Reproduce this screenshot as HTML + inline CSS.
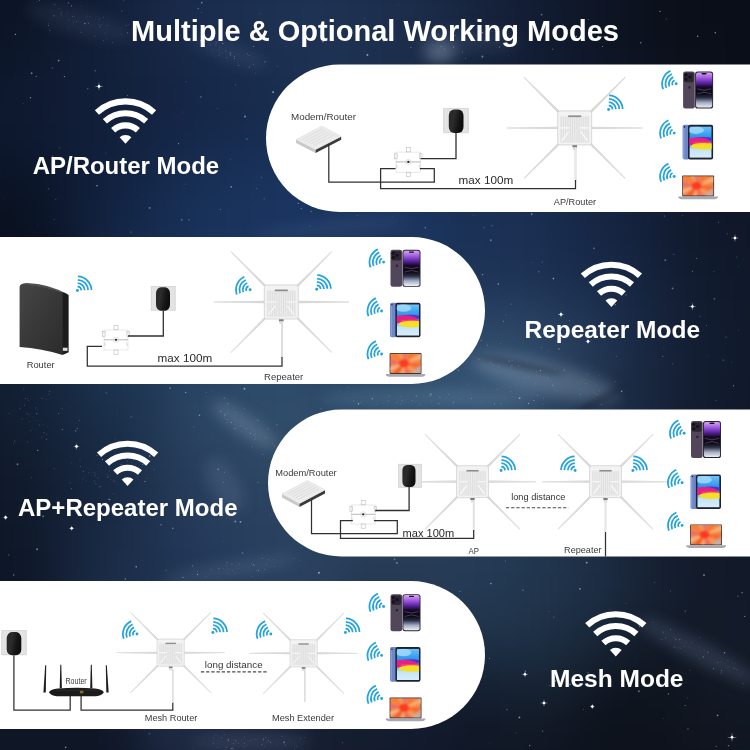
<!DOCTYPE html><html><head><meta charset="utf-8"><style>html,body{margin:0;padding:0;background:#0f1b33;overflow:hidden;width:750px;height:750px;}svg{display:block;}text{font-family:"Liberation Sans",sans-serif;}</style></head><body>
<svg width="750" height="750" viewBox="0 0 750 750">
<defs>
<linearGradient id="bg0" x1="0" y1="0" x2="1" y2="0">
<stop offset="0" stop-color="#0b1528"/><stop offset="0.5" stop-color="#172b4c"/><stop offset="1" stop-color="#0d1422"/>
</linearGradient>
<radialGradient id="n1" cx="0.5" cy="0.5" r="0.5"><stop offset="0" stop-color="#2f5378" stop-opacity="0.9"/><stop offset="1" stop-color="#2f5378" stop-opacity="0"/></radialGradient>
<radialGradient id="n2" cx="0.5" cy="0.5" r="0.5"><stop offset="0" stop-color="#1d3a66" stop-opacity="0.9"/><stop offset="1" stop-color="#1d3a66" stop-opacity="0"/></radialGradient>
<radialGradient id="dk" cx="0.5" cy="0.5" r="0.5"><stop offset="0" stop-color="#05080f" stop-opacity="0.9"/><stop offset="1" stop-color="#05080f" stop-opacity="0"/></radialGradient>
<linearGradient id="adg" x1="0" y1="0" x2="1" y2="0.3"><stop offset="0" stop-color="#262626"/><stop offset="0.4" stop-color="#2c2c2c"/><stop offset="0.75" stop-color="#161616"/><stop offset="1" stop-color="#0e0e0e"/></linearGradient>
<linearGradient id="phg" x1="0" y1="0" x2="0" y2="1"><stop offset="0" stop-color="#d9a4f2"/><stop offset="0.14" stop-color="#a462e2"/><stop offset="0.3" stop-color="#5a22a2"/><stop offset="0.42" stop-color="#160b26"/><stop offset="0.6" stop-color="#0a0810"/><stop offset="0.72" stop-color="#2a2f48"/><stop offset="0.86" stop-color="#a4adc4"/><stop offset="1" stop-color="#eef0f6"/></linearGradient>
<linearGradient id="tbg" x1="0" y1="0" x2="0" y2="1"><stop offset="0" stop-color="#6cc2f7"/><stop offset="0.32" stop-color="#2f97ee"/><stop offset="0.55" stop-color="#4a90e4"/><stop offset="0.72" stop-color="#c2e4f7"/><stop offset="1" stop-color="#d8edf9"/></linearGradient><filter id="soft" x="-20%" y="-20%" width="140%" height="140%" color-interpolation-filters="sRGB"><feGaussianBlur stdDeviation="0.5"/></filter><filter id="soft2" x="-20%" y="-20%" width="140%" height="140%" color-interpolation-filters="sRGB"><feGaussianBlur stdDeviation="0.9"/></filter>
<radialGradient id="lpg" cx="0.45" cy="0.5" r="0.75"><stop offset="0" stop-color="#ff2a12"/><stop offset="0.3" stop-color="#f86a28"/><stop offset="0.6" stop-color="#f59c62"/><stop offset="0.85" stop-color="#e9a08e"/><stop offset="1" stop-color="#b4acb4"/></radialGradient>
<linearGradient id="rtg" x1="0" y1="0" x2="1" y2="1"><stop offset="0" stop-color="#464646"/><stop offset="0.5" stop-color="#383838"/><stop offset="1" stop-color="#2c2c2c"/></linearGradient>
</defs>
<filter id="bgblur" x="-5%" y="-5%" width="110%" height="110%" color-interpolation-filters="sRGB"><feGaussianBlur stdDeviation="14"/></filter><g filter="url(#bgblur)"><rect x="-25" y="-25" width="26" height="26" fill="#0c1424"/><rect x="0" y="-25" width="26" height="26" fill="#0c1525"/><rect x="25" y="-25" width="26" height="26" fill="#0d1729"/><rect x="50" y="-25" width="26" height="26" fill="#0f1a2f"/><rect x="75" y="-25" width="26" height="26" fill="#111d35"/><rect x="100" y="-25" width="26" height="26" fill="#13203b"/><rect x="125" y="-25" width="26" height="26" fill="#152441"/><rect x="150" y="-25" width="26" height="26" fill="#182847"/><rect x="175" y="-25" width="26" height="26" fill="#1a2b4c"/><rect x="200" y="-25" width="26" height="26" fill="#1b2d4e"/><rect x="225" y="-25" width="26" height="26" fill="#1c2e50"/><rect x="250" y="-25" width="26" height="26" fill="#1d3051"/><rect x="275" y="-25" width="26" height="26" fill="#1e3253"/><rect x="300" y="-25" width="26" height="26" fill="#1e3253"/><rect x="325" y="-25" width="26" height="26" fill="#1e3151"/><rect x="350" y="-25" width="26" height="26" fill="#1d304e"/><rect x="375" y="-25" width="26" height="26" fill="#1c2e4c"/><rect x="400" y="-25" width="26" height="26" fill="#1b2d4b"/><rect x="425" y="-25" width="26" height="26" fill="#1a2a47"/><rect x="450" y="-25" width="26" height="26" fill="#182641"/><rect x="475" y="-25" width="26" height="26" fill="#16233b"/><rect x="500" y="-25" width="26" height="26" fill="#142037"/><rect x="525" y="-25" width="26" height="26" fill="#121c32"/><rect x="550" y="-25" width="26" height="26" fill="#10192c"/><rect x="575" y="-25" width="26" height="26" fill="#0f1627"/><rect x="600" y="-25" width="26" height="26" fill="#0d1423"/><rect x="625" y="-25" width="26" height="26" fill="#0c121f"/><rect x="650" y="-25" width="26" height="26" fill="#0b101b"/><rect x="675" y="-25" width="26" height="26" fill="#0a0f19"/><rect x="700" y="-25" width="26" height="26" fill="#0a0e18"/><rect x="725" y="-25" width="26" height="26" fill="#0a0e18"/><rect x="750" y="-25" width="26" height="26" fill="#0a0e18"/><rect x="-25" y="0" width="26" height="26" fill="#0c1425"/><rect x="0" y="0" width="26" height="26" fill="#0c1526"/><rect x="25" y="0" width="26" height="26" fill="#0d172a"/><rect x="50" y="0" width="26" height="26" fill="#0f1a2f"/><rect x="75" y="0" width="26" height="26" fill="#111e36"/><rect x="100" y="0" width="26" height="26" fill="#13203b"/><rect x="125" y="0" width="26" height="26" fill="#152440"/><rect x="150" y="0" width="26" height="26" fill="#182847"/><rect x="175" y="0" width="26" height="26" fill="#192b4b"/><rect x="200" y="0" width="26" height="26" fill="#1a2d4e"/><rect x="225" y="0" width="26" height="26" fill="#1b2e50"/><rect x="250" y="0" width="26" height="26" fill="#1c3051"/><rect x="275" y="0" width="26" height="26" fill="#1d3152"/><rect x="300" y="0" width="26" height="26" fill="#1e3253"/><rect x="325" y="0" width="26" height="26" fill="#1e3151"/><rect x="350" y="0" width="26" height="26" fill="#1d304f"/><rect x="375" y="0" width="26" height="26" fill="#1c2e4c"/><rect x="400" y="0" width="26" height="26" fill="#1b2d4b"/><rect x="425" y="0" width="26" height="26" fill="#1a2a47"/><rect x="450" y="0" width="26" height="26" fill="#182640"/><rect x="475" y="0" width="26" height="26" fill="#16223b"/><rect x="500" y="0" width="26" height="26" fill="#142037"/><rect x="525" y="0" width="26" height="26" fill="#121c32"/><rect x="550" y="0" width="26" height="26" fill="#10192c"/><rect x="575" y="0" width="26" height="26" fill="#0f1628"/><rect x="600" y="0" width="26" height="26" fill="#0d1423"/><rect x="625" y="0" width="26" height="26" fill="#0c121f"/><rect x="650" y="0" width="26" height="26" fill="#0b101b"/><rect x="675" y="0" width="26" height="26" fill="#0b0f19"/><rect x="700" y="0" width="26" height="26" fill="#0a0e18"/><rect x="725" y="0" width="26" height="26" fill="#0a0e18"/><rect x="750" y="0" width="26" height="26" fill="#0a0e18"/><rect x="-25" y="25" width="26" height="26" fill="#0c1527"/><rect x="0" y="25" width="26" height="26" fill="#0d1628"/><rect x="25" y="25" width="26" height="26" fill="#0e182c"/><rect x="50" y="25" width="26" height="26" fill="#101b31"/><rect x="75" y="25" width="26" height="26" fill="#111e36"/><rect x="100" y="25" width="26" height="26" fill="#13203b"/><rect x="125" y="25" width="26" height="26" fill="#15233f"/><rect x="150" y="25" width="26" height="26" fill="#172745"/><rect x="175" y="25" width="26" height="26" fill="#182a49"/><rect x="200" y="25" width="26" height="26" fill="#192c4d"/><rect x="225" y="25" width="26" height="26" fill="#1a2d4f"/><rect x="250" y="25" width="26" height="26" fill="#1b2f50"/><rect x="275" y="25" width="26" height="26" fill="#1d3152"/><rect x="300" y="25" width="26" height="26" fill="#1e3152"/><rect x="325" y="25" width="26" height="26" fill="#1e3151"/><rect x="350" y="25" width="26" height="26" fill="#1d304f"/><rect x="375" y="25" width="26" height="26" fill="#1c2e4c"/><rect x="400" y="25" width="26" height="26" fill="#1b2d4a"/><rect x="425" y="25" width="26" height="26" fill="#1a2a46"/><rect x="450" y="25" width="26" height="26" fill="#172640"/><rect x="475" y="25" width="26" height="26" fill="#16223b"/><rect x="500" y="25" width="26" height="26" fill="#141f37"/><rect x="525" y="25" width="26" height="26" fill="#121c32"/><rect x="550" y="25" width="26" height="26" fill="#10192d"/><rect x="575" y="25" width="26" height="26" fill="#0f1728"/><rect x="600" y="25" width="26" height="26" fill="#0d1423"/><rect x="625" y="25" width="26" height="26" fill="#0c121f"/><rect x="650" y="25" width="26" height="26" fill="#0b101b"/><rect x="675" y="25" width="26" height="26" fill="#0b0f19"/><rect x="700" y="25" width="26" height="26" fill="#0a0f19"/><rect x="725" y="25" width="26" height="26" fill="#0a0e18"/><rect x="750" y="25" width="26" height="26" fill="#0a0e18"/><rect x="-25" y="50" width="26" height="26" fill="#0d172a"/><rect x="0" y="50" width="26" height="26" fill="#0d172b"/><rect x="25" y="50" width="26" height="26" fill="#0e192e"/><rect x="50" y="50" width="26" height="26" fill="#101c33"/><rect x="75" y="50" width="26" height="26" fill="#111e37"/><rect x="100" y="50" width="26" height="26" fill="#13203b"/><rect x="125" y="50" width="26" height="26" fill="#14233f"/><rect x="150" y="50" width="26" height="26" fill="#152543"/><rect x="175" y="50" width="26" height="26" fill="#172847"/><rect x="200" y="50" width="26" height="26" fill="#182a4b"/><rect x="225" y="50" width="26" height="26" fill="#192c4d"/><rect x="250" y="50" width="26" height="26" fill="#1a2e4f"/><rect x="275" y="50" width="26" height="26" fill="#1c2f51"/><rect x="300" y="50" width="26" height="26" fill="#1d3152"/><rect x="325" y="50" width="26" height="26" fill="#1d3151"/><rect x="350" y="50" width="26" height="26" fill="#1d304f"/><rect x="375" y="50" width="26" height="26" fill="#1c2e4c"/><rect x="400" y="50" width="26" height="26" fill="#1b2d4a"/><rect x="425" y="50" width="26" height="26" fill="#1a2a46"/><rect x="450" y="50" width="26" height="26" fill="#172641"/><rect x="475" y="50" width="26" height="26" fill="#16233c"/><rect x="500" y="50" width="26" height="26" fill="#142038"/><rect x="525" y="50" width="26" height="26" fill="#121d33"/><rect x="550" y="50" width="26" height="26" fill="#111a2e"/><rect x="575" y="50" width="26" height="26" fill="#0f1729"/><rect x="600" y="50" width="26" height="26" fill="#0e1524"/><rect x="625" y="50" width="26" height="26" fill="#0d1320"/><rect x="650" y="50" width="26" height="26" fill="#0c111d"/><rect x="675" y="50" width="26" height="26" fill="#0b101b"/><rect x="700" y="50" width="26" height="26" fill="#0b0f19"/><rect x="725" y="50" width="26" height="26" fill="#0a0e19"/><rect x="750" y="50" width="26" height="26" fill="#0a0e18"/><rect x="-25" y="75" width="26" height="26" fill="#0d182d"/><rect x="0" y="75" width="26" height="26" fill="#0e182e"/><rect x="25" y="75" width="26" height="26" fill="#0f1a31"/><rect x="50" y="75" width="26" height="26" fill="#101c34"/><rect x="75" y="75" width="26" height="26" fill="#111e38"/><rect x="100" y="75" width="26" height="26" fill="#12203b"/><rect x="125" y="75" width="26" height="26" fill="#13223e"/><rect x="150" y="75" width="26" height="26" fill="#142442"/><rect x="175" y="75" width="26" height="26" fill="#152746"/><rect x="200" y="75" width="26" height="26" fill="#172949"/><rect x="225" y="75" width="26" height="26" fill="#182b4c"/><rect x="250" y="75" width="26" height="26" fill="#192c4e"/><rect x="275" y="75" width="26" height="26" fill="#1a2e50"/><rect x="300" y="75" width="26" height="26" fill="#1c3051"/><rect x="325" y="75" width="26" height="26" fill="#1d3151"/><rect x="350" y="75" width="26" height="26" fill="#1d304f"/><rect x="375" y="75" width="26" height="26" fill="#1c2e4d"/><rect x="400" y="75" width="26" height="26" fill="#1b2c4a"/><rect x="425" y="75" width="26" height="26" fill="#192947"/><rect x="450" y="75" width="26" height="26" fill="#172644"/><rect x="475" y="75" width="26" height="26" fill="#162441"/><rect x="500" y="75" width="26" height="26" fill="#15223d"/><rect x="525" y="75" width="26" height="26" fill="#131f37"/><rect x="550" y="75" width="26" height="26" fill="#121c31"/><rect x="575" y="75" width="26" height="26" fill="#10192c"/><rect x="600" y="75" width="26" height="26" fill="#0f1728"/><rect x="625" y="75" width="26" height="26" fill="#0e1525"/><rect x="650" y="75" width="26" height="26" fill="#0d1422"/><rect x="675" y="75" width="26" height="26" fill="#0c121f"/><rect x="700" y="75" width="26" height="26" fill="#0b101c"/><rect x="725" y="75" width="26" height="26" fill="#0b0f1a"/><rect x="750" y="75" width="26" height="26" fill="#0a0f19"/><rect x="-25" y="100" width="26" height="26" fill="#0e182e"/><rect x="0" y="100" width="26" height="26" fill="#0e192f"/><rect x="25" y="100" width="26" height="26" fill="#0f1a32"/><rect x="50" y="100" width="26" height="26" fill="#101c35"/><rect x="75" y="100" width="26" height="26" fill="#111e38"/><rect x="100" y="100" width="26" height="26" fill="#12203b"/><rect x="125" y="100" width="26" height="26" fill="#13223e"/><rect x="150" y="100" width="26" height="26" fill="#142443"/><rect x="175" y="100" width="26" height="26" fill="#152646"/><rect x="200" y="100" width="26" height="26" fill="#16284a"/><rect x="225" y="100" width="26" height="26" fill="#172a4c"/><rect x="250" y="100" width="26" height="26" fill="#182c4e"/><rect x="275" y="100" width="26" height="26" fill="#192d50"/><rect x="300" y="100" width="26" height="26" fill="#1b2f51"/><rect x="325" y="100" width="26" height="26" fill="#1c3052"/><rect x="350" y="100" width="26" height="26" fill="#1c3051"/><rect x="375" y="100" width="26" height="26" fill="#1b2f50"/><rect x="400" y="100" width="26" height="26" fill="#1a2c4d"/><rect x="425" y="100" width="26" height="26" fill="#19294a"/><rect x="450" y="100" width="26" height="26" fill="#182848"/><rect x="475" y="100" width="26" height="26" fill="#172747"/><rect x="500" y="100" width="26" height="26" fill="#172645"/><rect x="525" y="100" width="26" height="26" fill="#162340"/><rect x="550" y="100" width="26" height="26" fill="#142039"/><rect x="575" y="100" width="26" height="26" fill="#111c32"/><rect x="600" y="100" width="26" height="26" fill="#101a2f"/><rect x="625" y="100" width="26" height="26" fill="#101a2d"/><rect x="650" y="100" width="26" height="26" fill="#0f192b"/><rect x="675" y="100" width="26" height="26" fill="#0e1728"/><rect x="700" y="100" width="26" height="26" fill="#0d1423"/><rect x="725" y="100" width="26" height="26" fill="#0c111e"/><rect x="750" y="100" width="26" height="26" fill="#0b101c"/><rect x="-25" y="125" width="26" height="26" fill="#0d182d"/><rect x="0" y="125" width="26" height="26" fill="#0d182e"/><rect x="25" y="125" width="26" height="26" fill="#0e1a31"/><rect x="50" y="125" width="26" height="26" fill="#0f1c34"/><rect x="75" y="125" width="26" height="26" fill="#111e38"/><rect x="100" y="125" width="26" height="26" fill="#11203c"/><rect x="125" y="125" width="26" height="26" fill="#132240"/><rect x="150" y="125" width="26" height="26" fill="#142545"/><rect x="175" y="125" width="26" height="26" fill="#15284a"/><rect x="200" y="125" width="26" height="26" fill="#162a4d"/><rect x="225" y="125" width="26" height="26" fill="#172b4f"/><rect x="250" y="125" width="26" height="26" fill="#172d52"/><rect x="275" y="125" width="26" height="26" fill="#182f54"/><rect x="300" y="125" width="26" height="26" fill="#193157"/><rect x="325" y="125" width="26" height="26" fill="#1b3359"/><rect x="350" y="125" width="26" height="26" fill="#1b345b"/><rect x="375" y="125" width="26" height="26" fill="#1b3259"/><rect x="400" y="125" width="26" height="26" fill="#1a2f54"/><rect x="425" y="125" width="26" height="26" fill="#192b4e"/><rect x="450" y="125" width="26" height="26" fill="#18294b"/><rect x="475" y="125" width="26" height="26" fill="#18294b"/><rect x="500" y="125" width="26" height="26" fill="#18284a"/><rect x="525" y="125" width="26" height="26" fill="#172748"/><rect x="550" y="125" width="26" height="26" fill="#162542"/><rect x="575" y="125" width="26" height="26" fill="#13203a"/><rect x="600" y="125" width="26" height="26" fill="#121e35"/><rect x="625" y="125" width="26" height="26" fill="#111d34"/><rect x="650" y="125" width="26" height="26" fill="#111c32"/><rect x="675" y="125" width="26" height="26" fill="#101b30"/><rect x="700" y="125" width="26" height="26" fill="#0f192b"/><rect x="725" y="125" width="26" height="26" fill="#0e1626"/><rect x="750" y="125" width="26" height="26" fill="#0d1423"/><rect x="-25" y="150" width="26" height="26" fill="#0c162a"/><rect x="0" y="150" width="26" height="26" fill="#0c162b"/><rect x="25" y="150" width="26" height="26" fill="#0d182e"/><rect x="50" y="150" width="26" height="26" fill="#0f1b33"/><rect x="75" y="150" width="26" height="26" fill="#101e39"/><rect x="100" y="150" width="26" height="26" fill="#11213e"/><rect x="125" y="150" width="26" height="26" fill="#132443"/><rect x="150" y="150" width="26" height="26" fill="#152849"/><rect x="175" y="150" width="26" height="26" fill="#162b4e"/><rect x="200" y="150" width="26" height="26" fill="#172d52"/><rect x="225" y="150" width="26" height="26" fill="#182f55"/><rect x="250" y="150" width="26" height="26" fill="#183158"/><rect x="275" y="150" width="26" height="26" fill="#19325b"/><rect x="300" y="150" width="26" height="26" fill="#1a335d"/><rect x="325" y="150" width="26" height="26" fill="#1a355f"/><rect x="350" y="150" width="26" height="26" fill="#1b365f"/><rect x="375" y="150" width="26" height="26" fill="#1b355e"/><rect x="400" y="150" width="26" height="26" fill="#1a335a"/><rect x="425" y="150" width="26" height="26" fill="#192e54"/><rect x="450" y="150" width="26" height="26" fill="#192c4f"/><rect x="475" y="150" width="26" height="26" fill="#192b4e"/><rect x="500" y="150" width="26" height="26" fill="#192b4e"/><rect x="525" y="150" width="26" height="26" fill="#182a4d"/><rect x="550" y="150" width="26" height="26" fill="#172848"/><rect x="575" y="150" width="26" height="26" fill="#15233f"/><rect x="600" y="150" width="26" height="26" fill="#13203a"/><rect x="625" y="150" width="26" height="26" fill="#121e37"/><rect x="650" y="150" width="26" height="26" fill="#121d34"/><rect x="675" y="150" width="26" height="26" fill="#111c31"/><rect x="700" y="150" width="26" height="26" fill="#101a2d"/><rect x="725" y="150" width="26" height="26" fill="#0f182a"/><rect x="750" y="150" width="26" height="26" fill="#0f1728"/><rect x="-25" y="175" width="26" height="26" fill="#0b1425"/><rect x="0" y="175" width="26" height="26" fill="#0b1426"/><rect x="25" y="175" width="26" height="26" fill="#0c162a"/><rect x="50" y="175" width="26" height="26" fill="#0e1a31"/><rect x="75" y="175" width="26" height="26" fill="#101e39"/><rect x="100" y="175" width="26" height="26" fill="#122240"/><rect x="125" y="175" width="26" height="26" fill="#132646"/><rect x="150" y="175" width="26" height="26" fill="#152a4d"/><rect x="175" y="175" width="26" height="26" fill="#172e53"/><rect x="200" y="175" width="26" height="26" fill="#183057"/><rect x="225" y="175" width="26" height="26" fill="#19325a"/><rect x="250" y="175" width="26" height="26" fill="#19335c"/><rect x="275" y="175" width="26" height="26" fill="#1a345e"/><rect x="300" y="175" width="26" height="26" fill="#1a355f"/><rect x="325" y="175" width="26" height="26" fill="#1b355f"/><rect x="350" y="175" width="26" height="26" fill="#1b3660"/><rect x="375" y="175" width="26" height="26" fill="#1b365f"/><rect x="400" y="175" width="26" height="26" fill="#1b355d"/><rect x="425" y="175" width="26" height="26" fill="#1a3259"/><rect x="450" y="175" width="26" height="26" fill="#1a2f53"/><rect x="475" y="175" width="26" height="26" fill="#192e52"/><rect x="500" y="175" width="26" height="26" fill="#192e51"/><rect x="525" y="175" width="26" height="26" fill="#192d50"/><rect x="550" y="175" width="26" height="26" fill="#172a4b"/><rect x="575" y="175" width="26" height="26" fill="#152543"/><rect x="600" y="175" width="26" height="26" fill="#14223d"/><rect x="625" y="175" width="26" height="26" fill="#132039"/><rect x="650" y="175" width="26" height="26" fill="#121d34"/><rect x="675" y="175" width="26" height="26" fill="#111b2f"/><rect x="700" y="175" width="26" height="26" fill="#10192b"/><rect x="725" y="175" width="26" height="26" fill="#0f1829"/><rect x="750" y="175" width="26" height="26" fill="#0f1729"/><rect x="-25" y="200" width="26" height="26" fill="#0a1221"/><rect x="0" y="200" width="26" height="26" fill="#0a1222"/><rect x="25" y="200" width="26" height="26" fill="#0b1426"/><rect x="50" y="200" width="26" height="26" fill="#0d192f"/><rect x="75" y="200" width="26" height="26" fill="#101f3a"/><rect x="100" y="200" width="26" height="26" fill="#122342"/><rect x="125" y="200" width="26" height="26" fill="#142749"/><rect x="150" y="200" width="26" height="26" fill="#162c50"/><rect x="175" y="200" width="26" height="26" fill="#183056"/><rect x="200" y="200" width="26" height="26" fill="#19325a"/><rect x="225" y="200" width="26" height="26" fill="#19335c"/><rect x="250" y="200" width="26" height="26" fill="#1a345e"/><rect x="275" y="200" width="26" height="26" fill="#1a355f"/><rect x="300" y="200" width="26" height="26" fill="#1a355f"/><rect x="325" y="200" width="26" height="26" fill="#1b365f"/><rect x="350" y="200" width="26" height="26" fill="#1c365f"/><rect x="375" y="200" width="26" height="26" fill="#1b365f"/><rect x="400" y="200" width="26" height="26" fill="#1b355e"/><rect x="425" y="200" width="26" height="26" fill="#1b335b"/><rect x="450" y="200" width="26" height="26" fill="#1a3156"/><rect x="475" y="200" width="26" height="26" fill="#1a3054"/><rect x="500" y="200" width="26" height="26" fill="#1a2f53"/><rect x="525" y="200" width="26" height="26" fill="#192e51"/><rect x="550" y="200" width="26" height="26" fill="#182b4c"/><rect x="575" y="200" width="26" height="26" fill="#162745"/><rect x="600" y="200" width="26" height="26" fill="#152440"/><rect x="625" y="200" width="26" height="26" fill="#14213b"/><rect x="650" y="200" width="26" height="26" fill="#121e35"/><rect x="675" y="200" width="26" height="26" fill="#111a2f"/><rect x="700" y="200" width="26" height="26" fill="#10192b"/><rect x="725" y="200" width="26" height="26" fill="#0f1829"/><rect x="750" y="200" width="26" height="26" fill="#0f1829"/><rect x="-25" y="225" width="26" height="26" fill="#0a101f"/><rect x="0" y="225" width="26" height="26" fill="#0a111f"/><rect x="25" y="225" width="26" height="26" fill="#0b1324"/><rect x="50" y="225" width="26" height="26" fill="#0d182e"/><rect x="75" y="225" width="26" height="26" fill="#101f3a"/><rect x="100" y="225" width="26" height="26" fill="#132544"/><rect x="125" y="225" width="26" height="26" fill="#15294b"/><rect x="150" y="225" width="26" height="26" fill="#172d52"/><rect x="175" y="225" width="26" height="26" fill="#193158"/><rect x="200" y="225" width="26" height="26" fill="#19335b"/><rect x="225" y="225" width="26" height="26" fill="#1a345d"/><rect x="250" y="225" width="26" height="26" fill="#1a345f"/><rect x="275" y="225" width="26" height="26" fill="#1a355f"/><rect x="300" y="225" width="26" height="26" fill="#1b365f"/><rect x="325" y="225" width="26" height="26" fill="#1d365e"/><rect x="350" y="225" width="26" height="26" fill="#1d365f"/><rect x="375" y="225" width="26" height="26" fill="#1c365f"/><rect x="400" y="225" width="26" height="26" fill="#1c365e"/><rect x="425" y="225" width="26" height="26" fill="#1b345b"/><rect x="450" y="225" width="26" height="26" fill="#1b3257"/><rect x="475" y="225" width="26" height="26" fill="#1b3155"/><rect x="500" y="225" width="26" height="26" fill="#1b3054"/><rect x="525" y="225" width="26" height="26" fill="#1a2f51"/><rect x="550" y="225" width="26" height="26" fill="#182b4d"/><rect x="575" y="225" width="26" height="26" fill="#172847"/><rect x="600" y="225" width="26" height="26" fill="#162542"/><rect x="625" y="225" width="26" height="26" fill="#14223d"/><rect x="650" y="225" width="26" height="26" fill="#121e35"/><rect x="675" y="225" width="26" height="26" fill="#111b2f"/><rect x="700" y="225" width="26" height="26" fill="#10192b"/><rect x="725" y="225" width="26" height="26" fill="#10182a"/><rect x="750" y="225" width="26" height="26" fill="#0f1829"/><rect x="-25" y="250" width="26" height="26" fill="#090f1d"/><rect x="0" y="250" width="26" height="26" fill="#0a101e"/><rect x="25" y="250" width="26" height="26" fill="#0b1222"/><rect x="50" y="250" width="26" height="26" fill="#0d182d"/><rect x="75" y="250" width="26" height="26" fill="#11203b"/><rect x="100" y="250" width="26" height="26" fill="#132647"/><rect x="125" y="250" width="26" height="26" fill="#162a4e"/><rect x="150" y="250" width="26" height="26" fill="#182e54"/><rect x="175" y="250" width="26" height="26" fill="#1a3158"/><rect x="200" y="250" width="26" height="26" fill="#1a335b"/><rect x="225" y="250" width="26" height="26" fill="#1a345d"/><rect x="250" y="250" width="26" height="26" fill="#1b355e"/><rect x="275" y="250" width="26" height="26" fill="#1b355e"/><rect x="300" y="250" width="26" height="26" fill="#1d365d"/><rect x="325" y="250" width="26" height="26" fill="#1f375d"/><rect x="350" y="250" width="26" height="26" fill="#1f375d"/><rect x="375" y="250" width="26" height="26" fill="#1e375e"/><rect x="400" y="250" width="26" height="26" fill="#1d365d"/><rect x="425" y="250" width="26" height="26" fill="#1d355b"/><rect x="450" y="250" width="26" height="26" fill="#1d3457"/><rect x="475" y="250" width="26" height="26" fill="#1d3356"/><rect x="500" y="250" width="26" height="26" fill="#1c3255"/><rect x="525" y="250" width="26" height="26" fill="#1b3052"/><rect x="550" y="250" width="26" height="26" fill="#1a2d4e"/><rect x="575" y="250" width="26" height="26" fill="#182a49"/><rect x="600" y="250" width="26" height="26" fill="#172745"/><rect x="625" y="250" width="26" height="26" fill="#15243f"/><rect x="650" y="250" width="26" height="26" fill="#131f37"/><rect x="675" y="250" width="26" height="26" fill="#111c30"/><rect x="700" y="250" width="26" height="26" fill="#101a2c"/><rect x="725" y="250" width="26" height="26" fill="#10192a"/><rect x="750" y="250" width="26" height="26" fill="#10182a"/><rect x="-25" y="275" width="26" height="26" fill="#0a101d"/><rect x="0" y="275" width="26" height="26" fill="#0a111e"/><rect x="25" y="275" width="26" height="26" fill="#0b1323"/><rect x="50" y="275" width="26" height="26" fill="#0e1a2f"/><rect x="75" y="275" width="26" height="26" fill="#12223e"/><rect x="100" y="275" width="26" height="26" fill="#15294a"/><rect x="125" y="275" width="26" height="26" fill="#182d52"/><rect x="150" y="275" width="26" height="26" fill="#1a3056"/><rect x="175" y="275" width="26" height="26" fill="#1b3259"/><rect x="200" y="275" width="26" height="26" fill="#1b335a"/><rect x="225" y="275" width="26" height="26" fill="#1c345c"/><rect x="250" y="275" width="26" height="26" fill="#1c355d"/><rect x="275" y="275" width="26" height="26" fill="#1e365d"/><rect x="300" y="275" width="26" height="26" fill="#20375c"/><rect x="325" y="275" width="26" height="26" fill="#21385b"/><rect x="350" y="275" width="26" height="26" fill="#21385c"/><rect x="375" y="275" width="26" height="26" fill="#20385d"/><rect x="400" y="275" width="26" height="26" fill="#20385d"/><rect x="425" y="275" width="26" height="26" fill="#20385c"/><rect x="450" y="275" width="26" height="26" fill="#21385b"/><rect x="475" y="275" width="26" height="26" fill="#21375a"/><rect x="500" y="275" width="26" height="26" fill="#203659"/><rect x="525" y="275" width="26" height="26" fill="#1f3556"/><rect x="550" y="275" width="26" height="26" fill="#1d3152"/><rect x="575" y="275" width="26" height="26" fill="#1a2d4d"/><rect x="600" y="275" width="26" height="26" fill="#192a48"/><rect x="625" y="275" width="26" height="26" fill="#162641"/><rect x="650" y="275" width="26" height="26" fill="#142138"/><rect x="675" y="275" width="26" height="26" fill="#121d31"/><rect x="700" y="275" width="26" height="26" fill="#111b2e"/><rect x="725" y="275" width="26" height="26" fill="#10192b"/><rect x="750" y="275" width="26" height="26" fill="#10192b"/><rect x="-25" y="300" width="26" height="26" fill="#0e1828"/><rect x="0" y="300" width="26" height="26" fill="#0e1829"/><rect x="25" y="300" width="26" height="26" fill="#101c2e"/><rect x="50" y="300" width="26" height="26" fill="#13233a"/><rect x="75" y="300" width="26" height="26" fill="#172a47"/><rect x="100" y="300" width="26" height="26" fill="#192f50"/><rect x="125" y="300" width="26" height="26" fill="#1b3255"/><rect x="150" y="300" width="26" height="26" fill="#1c3358"/><rect x="175" y="300" width="26" height="26" fill="#1d3459"/><rect x="200" y="300" width="26" height="26" fill="#1d355a"/><rect x="225" y="300" width="26" height="26" fill="#1e375c"/><rect x="250" y="300" width="26" height="26" fill="#20395e"/><rect x="275" y="300" width="26" height="26" fill="#213a5d"/><rect x="300" y="300" width="26" height="26" fill="#22395c"/><rect x="325" y="300" width="26" height="26" fill="#22395b"/><rect x="350" y="300" width="26" height="26" fill="#233a5c"/><rect x="375" y="300" width="26" height="26" fill="#233b5d"/><rect x="400" y="300" width="26" height="26" fill="#253e60"/><rect x="425" y="300" width="26" height="26" fill="#274061"/><rect x="450" y="300" width="26" height="26" fill="#274061"/><rect x="475" y="300" width="26" height="26" fill="#273f61"/><rect x="500" y="300" width="26" height="26" fill="#273f60"/><rect x="525" y="300" width="26" height="26" fill="#253d5e"/><rect x="550" y="300" width="26" height="26" fill="#223858"/><rect x="575" y="300" width="26" height="26" fill="#1f3352"/><rect x="600" y="300" width="26" height="26" fill="#1b2d4b"/><rect x="625" y="300" width="26" height="26" fill="#182843"/><rect x="650" y="300" width="26" height="26" fill="#15223a"/><rect x="675" y="300" width="26" height="26" fill="#131e33"/><rect x="700" y="300" width="26" height="26" fill="#121c2f"/><rect x="725" y="300" width="26" height="26" fill="#111a2c"/><rect x="750" y="300" width="26" height="26" fill="#101a2b"/><rect x="-25" y="325" width="26" height="26" fill="#121e31"/><rect x="0" y="325" width="26" height="26" fill="#121f33"/><rect x="25" y="325" width="26" height="26" fill="#142339"/><rect x="50" y="325" width="26" height="26" fill="#172a42"/><rect x="75" y="325" width="26" height="26" fill="#1a304c"/><rect x="100" y="325" width="26" height="26" fill="#1c3452"/><rect x="125" y="325" width="26" height="26" fill="#1d3556"/><rect x="150" y="325" width="26" height="26" fill="#1f3659"/><rect x="175" y="325" width="26" height="26" fill="#20385b"/><rect x="200" y="325" width="26" height="26" fill="#223b5e"/><rect x="225" y="325" width="26" height="26" fill="#243e60"/><rect x="250" y="325" width="26" height="26" fill="#264162"/><rect x="275" y="325" width="26" height="26" fill="#264161"/><rect x="300" y="325" width="26" height="26" fill="#253d5e"/><rect x="325" y="325" width="26" height="26" fill="#243c5d"/><rect x="350" y="325" width="26" height="26" fill="#253d5f"/><rect x="375" y="325" width="26" height="26" fill="#274162"/><rect x="400" y="325" width="26" height="26" fill="#2a4566"/><rect x="425" y="325" width="26" height="26" fill="#2d4969"/><rect x="450" y="325" width="26" height="26" fill="#2e496a"/><rect x="475" y="325" width="26" height="26" fill="#2e4969"/><rect x="500" y="325" width="26" height="26" fill="#2e4868"/><rect x="525" y="325" width="26" height="26" fill="#2c4565"/><rect x="550" y="325" width="26" height="26" fill="#283f5e"/><rect x="575" y="325" width="26" height="26" fill="#233855"/><rect x="600" y="325" width="26" height="26" fill="#1e304c"/><rect x="625" y="325" width="26" height="26" fill="#1a2943"/><rect x="650" y="325" width="26" height="26" fill="#16233b"/><rect x="675" y="325" width="26" height="26" fill="#141f34"/><rect x="700" y="325" width="26" height="26" fill="#121c30"/><rect x="725" y="325" width="26" height="26" fill="#111a2d"/><rect x="750" y="325" width="26" height="26" fill="#111a2c"/><rect x="-25" y="350" width="26" height="26" fill="#121e32"/><rect x="0" y="350" width="26" height="26" fill="#121f34"/><rect x="25" y="350" width="26" height="26" fill="#142339"/><rect x="50" y="350" width="26" height="26" fill="#172a42"/><rect x="75" y="350" width="26" height="26" fill="#1a304b"/><rect x="100" y="350" width="26" height="26" fill="#1c3450"/><rect x="125" y="350" width="26" height="26" fill="#1e3655"/><rect x="150" y="350" width="26" height="26" fill="#223a5a"/><rect x="175" y="350" width="26" height="26" fill="#253f5f"/><rect x="200" y="350" width="26" height="26" fill="#274262"/><rect x="225" y="350" width="26" height="26" fill="#2a4665"/><rect x="250" y="350" width="26" height="26" fill="#2b4867"/><rect x="275" y="350" width="26" height="26" fill="#2b4866"/><rect x="300" y="350" width="26" height="26" fill="#294463"/><rect x="325" y="350" width="26" height="26" fill="#274262"/><rect x="350" y="350" width="26" height="26" fill="#294464"/><rect x="375" y="350" width="26" height="26" fill="#2b4867"/><rect x="400" y="350" width="26" height="26" fill="#2d4b6a"/><rect x="425" y="350" width="26" height="26" fill="#314e6e"/><rect x="450" y="350" width="26" height="26" fill="#335070"/><rect x="475" y="350" width="26" height="26" fill="#335070"/><rect x="500" y="350" width="26" height="26" fill="#324e6e"/><rect x="525" y="350" width="26" height="26" fill="#2f4a69"/><rect x="550" y="350" width="26" height="26" fill="#2b4360"/><rect x="575" y="350" width="26" height="26" fill="#253a56"/><rect x="600" y="350" width="26" height="26" fill="#1f314c"/><rect x="625" y="350" width="26" height="26" fill="#1a2943"/><rect x="650" y="350" width="26" height="26" fill="#17243b"/><rect x="675" y="350" width="26" height="26" fill="#141f34"/><rect x="700" y="350" width="26" height="26" fill="#121c30"/><rect x="725" y="350" width="26" height="26" fill="#111a2d"/><rect x="750" y="350" width="26" height="26" fill="#11192c"/><rect x="-25" y="375" width="26" height="26" fill="#121e31"/><rect x="0" y="375" width="26" height="26" fill="#121f33"/><rect x="25" y="375" width="26" height="26" fill="#142238"/><rect x="50" y="375" width="26" height="26" fill="#172840"/><rect x="75" y="375" width="26" height="26" fill="#192e48"/><rect x="100" y="375" width="26" height="26" fill="#1b324e"/><rect x="125" y="375" width="26" height="26" fill="#1e3652"/><rect x="150" y="375" width="26" height="26" fill="#233c5a"/><rect x="175" y="375" width="26" height="26" fill="#284361"/><rect x="200" y="375" width="26" height="26" fill="#2b4665"/><rect x="225" y="375" width="26" height="26" fill="#2c4967"/><rect x="250" y="375" width="26" height="26" fill="#2d4b68"/><rect x="275" y="375" width="26" height="26" fill="#2e4b69"/><rect x="300" y="375" width="26" height="26" fill="#2d4a68"/><rect x="325" y="375" width="26" height="26" fill="#2b4867"/><rect x="350" y="375" width="26" height="26" fill="#2c4968"/><rect x="375" y="375" width="26" height="26" fill="#2d4b6a"/><rect x="400" y="375" width="26" height="26" fill="#2f4d6c"/><rect x="425" y="375" width="26" height="26" fill="#31506f"/><rect x="450" y="375" width="26" height="26" fill="#345272"/><rect x="475" y="375" width="26" height="26" fill="#355372"/><rect x="500" y="375" width="26" height="26" fill="#345170"/><rect x="525" y="375" width="26" height="26" fill="#304b69"/><rect x="550" y="375" width="26" height="26" fill="#2a425f"/><rect x="575" y="375" width="26" height="26" fill="#243954"/><rect x="600" y="375" width="26" height="26" fill="#1f304a"/><rect x="625" y="375" width="26" height="26" fill="#1a2942"/><rect x="650" y="375" width="26" height="26" fill="#17233a"/><rect x="675" y="375" width="26" height="26" fill="#141f34"/><rect x="700" y="375" width="26" height="26" fill="#121c2f"/><rect x="725" y="375" width="26" height="26" fill="#111a2c"/><rect x="750" y="375" width="26" height="26" fill="#10192b"/><rect x="-25" y="400" width="26" height="26" fill="#111d30"/><rect x="0" y="400" width="26" height="26" fill="#121e31"/><rect x="25" y="400" width="26" height="26" fill="#132136"/><rect x="50" y="400" width="26" height="26" fill="#16273e"/><rect x="75" y="400" width="26" height="26" fill="#192c46"/><rect x="100" y="400" width="26" height="26" fill="#1b304b"/><rect x="125" y="400" width="26" height="26" fill="#1e3450"/><rect x="150" y="400" width="26" height="26" fill="#243c59"/><rect x="175" y="400" width="26" height="26" fill="#294361"/><rect x="200" y="400" width="26" height="26" fill="#2c4765"/><rect x="225" y="400" width="26" height="26" fill="#2d4967"/><rect x="250" y="400" width="26" height="26" fill="#2e4b68"/><rect x="275" y="400" width="26" height="26" fill="#2f4c69"/><rect x="300" y="400" width="26" height="26" fill="#2f4c69"/><rect x="325" y="400" width="26" height="26" fill="#2d4b6a"/><rect x="350" y="400" width="26" height="26" fill="#2d4c6a"/><rect x="375" y="400" width="26" height="26" fill="#2d4c6a"/><rect x="400" y="400" width="26" height="26" fill="#2e4c6b"/><rect x="425" y="400" width="26" height="26" fill="#2f4d6d"/><rect x="450" y="400" width="26" height="26" fill="#325070"/><rect x="475" y="400" width="26" height="26" fill="#345272"/><rect x="500" y="400" width="26" height="26" fill="#34506f"/><rect x="525" y="400" width="26" height="26" fill="#2f4a67"/><rect x="550" y="400" width="26" height="26" fill="#283f5b"/><rect x="575" y="400" width="26" height="26" fill="#223651"/><rect x="600" y="400" width="26" height="26" fill="#1e2f49"/><rect x="625" y="400" width="26" height="26" fill="#1a2941"/><rect x="650" y="400" width="26" height="26" fill="#172339"/><rect x="675" y="400" width="26" height="26" fill="#141e33"/><rect x="700" y="400" width="26" height="26" fill="#121b2e"/><rect x="725" y="400" width="26" height="26" fill="#11192b"/><rect x="750" y="400" width="26" height="26" fill="#10182a"/><rect x="-25" y="425" width="26" height="26" fill="#111c2e"/><rect x="0" y="425" width="26" height="26" fill="#111d30"/><rect x="25" y="425" width="26" height="26" fill="#132034"/><rect x="50" y="425" width="26" height="26" fill="#15243b"/><rect x="75" y="425" width="26" height="26" fill="#182942"/><rect x="100" y="425" width="26" height="26" fill="#1a2d47"/><rect x="125" y="425" width="26" height="26" fill="#1d324e"/><rect x="150" y="425" width="26" height="26" fill="#233b57"/><rect x="175" y="425" width="26" height="26" fill="#28415f"/><rect x="200" y="425" width="26" height="26" fill="#2b4563"/><rect x="225" y="425" width="26" height="26" fill="#2d4865"/><rect x="250" y="425" width="26" height="26" fill="#2e4a67"/><rect x="275" y="425" width="26" height="26" fill="#2f4b68"/><rect x="300" y="425" width="26" height="26" fill="#2f4b69"/><rect x="325" y="425" width="26" height="26" fill="#2e4c69"/><rect x="350" y="425" width="26" height="26" fill="#2d4b69"/><rect x="375" y="425" width="26" height="26" fill="#2b4968"/><rect x="400" y="425" width="26" height="26" fill="#2b4766"/><rect x="425" y="425" width="26" height="26" fill="#2b4667"/><rect x="450" y="425" width="26" height="26" fill="#2e4969"/><rect x="475" y="425" width="26" height="26" fill="#304d6d"/><rect x="500" y="425" width="26" height="26" fill="#314c6c"/><rect x="525" y="425" width="26" height="26" fill="#2c4562"/><rect x="550" y="425" width="26" height="26" fill="#253a56"/><rect x="575" y="425" width="26" height="26" fill="#1f324d"/><rect x="600" y="425" width="26" height="26" fill="#1c2d47"/><rect x="625" y="425" width="26" height="26" fill="#1a2941"/><rect x="650" y="425" width="26" height="26" fill="#17233a"/><rect x="675" y="425" width="26" height="26" fill="#141e33"/><rect x="700" y="425" width="26" height="26" fill="#121b2e"/><rect x="725" y="425" width="26" height="26" fill="#10182a"/><rect x="750" y="425" width="26" height="26" fill="#101829"/><rect x="-25" y="450" width="26" height="26" fill="#101a2c"/><rect x="0" y="450" width="26" height="26" fill="#111b2d"/><rect x="25" y="450" width="26" height="26" fill="#121e32"/><rect x="50" y="450" width="26" height="26" fill="#152339"/><rect x="75" y="450" width="26" height="26" fill="#172740"/><rect x="100" y="450" width="26" height="26" fill="#192b45"/><rect x="125" y="450" width="26" height="26" fill="#1d304c"/><rect x="150" y="450" width="26" height="26" fill="#223855"/><rect x="175" y="450" width="26" height="26" fill="#273f5c"/><rect x="200" y="450" width="26" height="26" fill="#2a4260"/><rect x="225" y="450" width="26" height="26" fill="#2c4563"/><rect x="250" y="450" width="26" height="26" fill="#2d4764"/><rect x="275" y="450" width="26" height="26" fill="#2e4866"/><rect x="300" y="450" width="26" height="26" fill="#2e4966"/><rect x="325" y="450" width="26" height="26" fill="#2d4967"/><rect x="350" y="450" width="26" height="26" fill="#2b4765"/><rect x="375" y="450" width="26" height="26" fill="#284363"/><rect x="400" y="450" width="26" height="26" fill="#274060"/><rect x="425" y="450" width="26" height="26" fill="#263f60"/><rect x="450" y="450" width="26" height="26" fill="#284061"/><rect x="475" y="450" width="26" height="26" fill="#2a4364"/><rect x="500" y="450" width="26" height="26" fill="#2b4463"/><rect x="525" y="450" width="26" height="26" fill="#263d5a"/><rect x="550" y="450" width="26" height="26" fill="#20334f"/><rect x="575" y="450" width="26" height="26" fill="#1d2f4a"/><rect x="600" y="450" width="26" height="26" fill="#1b2c47"/><rect x="625" y="450" width="26" height="26" fill="#192943"/><rect x="650" y="450" width="26" height="26" fill="#17253c"/><rect x="675" y="450" width="26" height="26" fill="#141f34"/><rect x="700" y="450" width="26" height="26" fill="#121b2e"/><rect x="725" y="450" width="26" height="26" fill="#10182a"/><rect x="750" y="450" width="26" height="26" fill="#101729"/><rect x="-25" y="475" width="26" height="26" fill="#0f192a"/><rect x="0" y="475" width="26" height="26" fill="#101a2b"/><rect x="25" y="475" width="26" height="26" fill="#111c30"/><rect x="50" y="475" width="26" height="26" fill="#142137"/><rect x="75" y="475" width="26" height="26" fill="#17263e"/><rect x="100" y="475" width="26" height="26" fill="#192a44"/><rect x="125" y="475" width="26" height="26" fill="#1c2f4a"/><rect x="150" y="475" width="26" height="26" fill="#213653"/><rect x="175" y="475" width="26" height="26" fill="#253c5a"/><rect x="200" y="475" width="26" height="26" fill="#28405e"/><rect x="225" y="475" width="26" height="26" fill="#2a4260"/><rect x="250" y="475" width="26" height="26" fill="#2b4462"/><rect x="275" y="475" width="26" height="26" fill="#2c4563"/><rect x="300" y="475" width="26" height="26" fill="#2d4664"/><rect x="325" y="475" width="26" height="26" fill="#2c4563"/><rect x="350" y="475" width="26" height="26" fill="#28415f"/><rect x="375" y="475" width="26" height="26" fill="#263d5d"/><rect x="400" y="475" width="26" height="26" fill="#253c5c"/><rect x="425" y="475" width="26" height="26" fill="#243b5c"/><rect x="450" y="475" width="26" height="26" fill="#243b5c"/><rect x="475" y="475" width="26" height="26" fill="#253c5c"/><rect x="500" y="475" width="26" height="26" fill="#243b59"/><rect x="525" y="475" width="26" height="26" fill="#213551"/><rect x="550" y="475" width="26" height="26" fill="#1d304b"/><rect x="575" y="475" width="26" height="26" fill="#1b2d48"/><rect x="600" y="475" width="26" height="26" fill="#1a2b46"/><rect x="625" y="475" width="26" height="26" fill="#192943"/><rect x="650" y="475" width="26" height="26" fill="#18253d"/><rect x="675" y="475" width="26" height="26" fill="#152035"/><rect x="700" y="475" width="26" height="26" fill="#131c2e"/><rect x="725" y="475" width="26" height="26" fill="#11192a"/><rect x="750" y="475" width="26" height="26" fill="#111929"/><rect x="-25" y="500" width="26" height="26" fill="#0f1829"/><rect x="0" y="500" width="26" height="26" fill="#0f192a"/><rect x="25" y="500" width="26" height="26" fill="#111b2e"/><rect x="50" y="500" width="26" height="26" fill="#142136"/><rect x="75" y="500" width="26" height="26" fill="#17263e"/><rect x="100" y="500" width="26" height="26" fill="#1a2a45"/><rect x="125" y="500" width="26" height="26" fill="#1c2f4b"/><rect x="150" y="500" width="26" height="26" fill="#203552"/><rect x="175" y="500" width="26" height="26" fill="#243a59"/><rect x="200" y="500" width="26" height="26" fill="#263d5c"/><rect x="225" y="500" width="26" height="26" fill="#28405e"/><rect x="250" y="500" width="26" height="26" fill="#2a4260"/><rect x="275" y="500" width="26" height="26" fill="#2b4361"/><rect x="300" y="500" width="26" height="26" fill="#2b4361"/><rect x="325" y="500" width="26" height="26" fill="#2b425f"/><rect x="350" y="500" width="26" height="26" fill="#283e5b"/><rect x="375" y="500" width="26" height="26" fill="#273c5a"/><rect x="400" y="500" width="26" height="26" fill="#263b5a"/><rect x="425" y="500" width="26" height="26" fill="#253b5a"/><rect x="450" y="500" width="26" height="26" fill="#243a59"/><rect x="475" y="500" width="26" height="26" fill="#243a58"/><rect x="500" y="500" width="26" height="26" fill="#233754"/><rect x="525" y="500" width="26" height="26" fill="#20344f"/><rect x="550" y="500" width="26" height="26" fill="#1e314b"/><rect x="575" y="500" width="26" height="26" fill="#1c2e48"/><rect x="600" y="500" width="26" height="26" fill="#1a2b44"/><rect x="625" y="500" width="26" height="26" fill="#19273e"/><rect x="650" y="500" width="26" height="26" fill="#172338"/><rect x="675" y="500" width="26" height="26" fill="#151e31"/><rect x="700" y="500" width="26" height="26" fill="#131b2c"/><rect x="725" y="500" width="26" height="26" fill="#121a2a"/><rect x="750" y="500" width="26" height="26" fill="#121a2a"/><rect x="-25" y="525" width="26" height="26" fill="#0e1727"/><rect x="0" y="525" width="26" height="26" fill="#0f1829"/><rect x="25" y="525" width="26" height="26" fill="#101b2d"/><rect x="50" y="525" width="26" height="26" fill="#142036"/><rect x="75" y="525" width="26" height="26" fill="#18273f"/><rect x="100" y="525" width="26" height="26" fill="#1a2b46"/><rect x="125" y="525" width="26" height="26" fill="#1d2f4b"/><rect x="150" y="525" width="26" height="26" fill="#203452"/><rect x="175" y="525" width="26" height="26" fill="#233858"/><rect x="200" y="525" width="26" height="26" fill="#253c5b"/><rect x="225" y="525" width="26" height="26" fill="#273e5d"/><rect x="250" y="525" width="26" height="26" fill="#29405f"/><rect x="275" y="525" width="26" height="26" fill="#2a4260"/><rect x="300" y="525" width="26" height="26" fill="#2a4260"/><rect x="325" y="525" width="26" height="26" fill="#2a415d"/><rect x="350" y="525" width="26" height="26" fill="#293e59"/><rect x="375" y="525" width="26" height="26" fill="#283d58"/><rect x="400" y="525" width="26" height="26" fill="#283c58"/><rect x="425" y="525" width="26" height="26" fill="#273c58"/><rect x="450" y="525" width="26" height="26" fill="#263b58"/><rect x="475" y="525" width="26" height="26" fill="#243a55"/><rect x="500" y="525" width="26" height="26" fill="#233852"/><rect x="525" y="525" width="26" height="26" fill="#21354f"/><rect x="550" y="525" width="26" height="26" fill="#20334b"/><rect x="575" y="525" width="26" height="26" fill="#1d2f47"/><rect x="600" y="525" width="26" height="26" fill="#1b2a41"/><rect x="625" y="525" width="26" height="26" fill="#18253a"/><rect x="650" y="525" width="26" height="26" fill="#162033"/><rect x="675" y="525" width="26" height="26" fill="#141d2e"/><rect x="700" y="525" width="26" height="26" fill="#131b2b"/><rect x="725" y="525" width="26" height="26" fill="#121a2a"/><rect x="750" y="525" width="26" height="26" fill="#121a2a"/><rect x="-25" y="550" width="26" height="26" fill="#0e1627"/><rect x="0" y="550" width="26" height="26" fill="#0e1728"/><rect x="25" y="550" width="26" height="26" fill="#101a2c"/><rect x="50" y="550" width="26" height="26" fill="#142036"/><rect x="75" y="550" width="26" height="26" fill="#182740"/><rect x="100" y="550" width="26" height="26" fill="#1b2c47"/><rect x="125" y="550" width="26" height="26" fill="#1d2f4c"/><rect x="150" y="550" width="26" height="26" fill="#1f3351"/><rect x="175" y="550" width="26" height="26" fill="#223756"/><rect x="200" y="550" width="26" height="26" fill="#243a5a"/><rect x="225" y="550" width="26" height="26" fill="#263d5d"/><rect x="250" y="550" width="26" height="26" fill="#28405e"/><rect x="275" y="550" width="26" height="26" fill="#29415f"/><rect x="300" y="550" width="26" height="26" fill="#2a415f"/><rect x="325" y="550" width="26" height="26" fill="#293f5b"/><rect x="350" y="550" width="26" height="26" fill="#283c57"/><rect x="375" y="550" width="26" height="26" fill="#283c56"/><rect x="400" y="550" width="26" height="26" fill="#283c56"/><rect x="425" y="550" width="26" height="26" fill="#283c57"/><rect x="450" y="550" width="26" height="26" fill="#263c56"/><rect x="475" y="550" width="26" height="26" fill="#253a54"/><rect x="500" y="550" width="26" height="26" fill="#233851"/><rect x="525" y="550" width="26" height="26" fill="#21364e"/><rect x="550" y="550" width="26" height="26" fill="#20334b"/><rect x="575" y="550" width="26" height="26" fill="#1e2f46"/><rect x="600" y="550" width="26" height="26" fill="#1b2a40"/><rect x="625" y="550" width="26" height="26" fill="#182438"/><rect x="650" y="550" width="26" height="26" fill="#151f31"/><rect x="675" y="550" width="26" height="26" fill="#141c2d"/><rect x="700" y="550" width="26" height="26" fill="#131b2a"/><rect x="725" y="550" width="26" height="26" fill="#121a2a"/><rect x="750" y="550" width="26" height="26" fill="#121a29"/><rect x="-25" y="575" width="26" height="26" fill="#0d1626"/><rect x="0" y="575" width="26" height="26" fill="#0e1627"/><rect x="25" y="575" width="26" height="26" fill="#101a2c"/><rect x="50" y="575" width="26" height="26" fill="#142036"/><rect x="75" y="575" width="26" height="26" fill="#182841"/><rect x="100" y="575" width="26" height="26" fill="#1b2d49"/><rect x="125" y="575" width="26" height="26" fill="#1d304d"/><rect x="150" y="575" width="26" height="26" fill="#1f3250"/><rect x="175" y="575" width="26" height="26" fill="#203554"/><rect x="200" y="575" width="26" height="26" fill="#233857"/><rect x="225" y="575" width="26" height="26" fill="#253c5a"/><rect x="250" y="575" width="26" height="26" fill="#283f5d"/><rect x="275" y="575" width="26" height="26" fill="#29405e"/><rect x="300" y="575" width="26" height="26" fill="#29405e"/><rect x="325" y="575" width="26" height="26" fill="#273c58"/><rect x="350" y="575" width="26" height="26" fill="#253852"/><rect x="375" y="575" width="26" height="26" fill="#263852"/><rect x="400" y="575" width="26" height="26" fill="#263953"/><rect x="425" y="575" width="26" height="26" fill="#263a54"/><rect x="450" y="575" width="26" height="26" fill="#253b54"/><rect x="475" y="575" width="26" height="26" fill="#243952"/><rect x="500" y="575" width="26" height="26" fill="#223750"/><rect x="525" y="575" width="26" height="26" fill="#21354d"/><rect x="550" y="575" width="26" height="26" fill="#1f3249"/><rect x="575" y="575" width="26" height="26" fill="#1d2f45"/><rect x="600" y="575" width="26" height="26" fill="#1b2a3e"/><rect x="625" y="575" width="26" height="26" fill="#182437"/><rect x="650" y="575" width="26" height="26" fill="#151f30"/><rect x="675" y="575" width="26" height="26" fill="#131c2c"/><rect x="700" y="575" width="26" height="26" fill="#131a2a"/><rect x="725" y="575" width="26" height="26" fill="#121a29"/><rect x="750" y="575" width="26" height="26" fill="#121a29"/><rect x="-25" y="600" width="26" height="26" fill="#0d1626"/><rect x="0" y="600" width="26" height="26" fill="#0e1627"/><rect x="25" y="600" width="26" height="26" fill="#0f192b"/><rect x="50" y="600" width="26" height="26" fill="#142036"/><rect x="75" y="600" width="26" height="26" fill="#192842"/><rect x="100" y="600" width="26" height="26" fill="#1c2d49"/><rect x="125" y="600" width="26" height="26" fill="#1d304d"/><rect x="150" y="600" width="26" height="26" fill="#1e314e"/><rect x="175" y="600" width="26" height="26" fill="#1f3250"/><rect x="200" y="600" width="26" height="26" fill="#203452"/><rect x="225" y="600" width="26" height="26" fill="#233856"/><rect x="250" y="600" width="26" height="26" fill="#263c5a"/><rect x="275" y="600" width="26" height="26" fill="#273e5c"/><rect x="300" y="600" width="26" height="26" fill="#273d59"/><rect x="325" y="600" width="26" height="26" fill="#233651"/><rect x="350" y="600" width="26" height="26" fill="#21334c"/><rect x="375" y="600" width="26" height="26" fill="#22334c"/><rect x="400" y="600" width="26" height="26" fill="#23354e"/><rect x="425" y="600" width="26" height="26" fill="#23364f"/><rect x="450" y="600" width="26" height="26" fill="#233750"/><rect x="475" y="600" width="26" height="26" fill="#22374e"/><rect x="500" y="600" width="26" height="26" fill="#21354c"/><rect x="525" y="600" width="26" height="26" fill="#20334a"/><rect x="550" y="600" width="26" height="26" fill="#1e3046"/><rect x="575" y="600" width="26" height="26" fill="#1c2c41"/><rect x="600" y="600" width="26" height="26" fill="#19273b"/><rect x="625" y="600" width="26" height="26" fill="#172234"/><rect x="650" y="600" width="26" height="26" fill="#151e2e"/><rect x="675" y="600" width="26" height="26" fill="#131b2b"/><rect x="700" y="600" width="26" height="26" fill="#131b29"/><rect x="725" y="600" width="26" height="26" fill="#131a29"/><rect x="750" y="600" width="26" height="26" fill="#121a29"/><rect x="-25" y="625" width="26" height="26" fill="#0d1526"/><rect x="0" y="625" width="26" height="26" fill="#0e1627"/><rect x="25" y="625" width="26" height="26" fill="#0f192b"/><rect x="50" y="625" width="26" height="26" fill="#131f34"/><rect x="75" y="625" width="26" height="26" fill="#182841"/><rect x="100" y="625" width="26" height="26" fill="#1b2d49"/><rect x="125" y="625" width="26" height="26" fill="#1d2f4c"/><rect x="150" y="625" width="26" height="26" fill="#1d2f4c"/><rect x="175" y="625" width="26" height="26" fill="#1d304c"/><rect x="200" y="625" width="26" height="26" fill="#1e304d"/><rect x="225" y="625" width="26" height="26" fill="#1f324f"/><rect x="250" y="625" width="26" height="26" fill="#223652"/><rect x="275" y="625" width="26" height="26" fill="#243854"/><rect x="300" y="625" width="26" height="26" fill="#22354f"/><rect x="325" y="625" width="26" height="26" fill="#1e2f47"/><rect x="350" y="625" width="26" height="26" fill="#1e2e46"/><rect x="375" y="625" width="26" height="26" fill="#1e2e46"/><rect x="400" y="625" width="26" height="26" fill="#1f2f47"/><rect x="425" y="625" width="26" height="26" fill="#1f3048"/><rect x="450" y="625" width="26" height="26" fill="#1f3148"/><rect x="475" y="625" width="26" height="26" fill="#1f3148"/><rect x="500" y="625" width="26" height="26" fill="#1e3147"/><rect x="525" y="625" width="26" height="26" fill="#1d2f44"/><rect x="550" y="625" width="26" height="26" fill="#1c2c40"/><rect x="575" y="625" width="26" height="26" fill="#19283a"/><rect x="600" y="625" width="26" height="26" fill="#172333"/><rect x="625" y="625" width="26" height="26" fill="#141e2d"/><rect x="650" y="625" width="26" height="26" fill="#131c2a"/><rect x="675" y="625" width="26" height="26" fill="#131b29"/><rect x="700" y="625" width="26" height="26" fill="#131b29"/><rect x="725" y="625" width="26" height="26" fill="#131a29"/><rect x="750" y="625" width="26" height="26" fill="#131a29"/><rect x="-25" y="650" width="26" height="26" fill="#0e1626"/><rect x="0" y="650" width="26" height="26" fill="#0e1626"/><rect x="25" y="650" width="26" height="26" fill="#0f1728"/><rect x="50" y="650" width="26" height="26" fill="#111a2c"/><rect x="75" y="650" width="26" height="26" fill="#142136"/><rect x="100" y="650" width="26" height="26" fill="#192943"/><rect x="125" y="650" width="26" height="26" fill="#1c2d49"/><rect x="150" y="650" width="26" height="26" fill="#1c2e4a"/><rect x="175" y="650" width="26" height="26" fill="#1c2e4a"/><rect x="200" y="650" width="26" height="26" fill="#1d2e4a"/><rect x="225" y="650" width="26" height="26" fill="#1d2e4a"/><rect x="250" y="650" width="26" height="26" fill="#1e2e49"/><rect x="275" y="650" width="26" height="26" fill="#1e2d46"/><rect x="300" y="650" width="26" height="26" fill="#1c2940"/><rect x="325" y="650" width="26" height="26" fill="#1a283e"/><rect x="350" y="650" width="26" height="26" fill="#1b2940"/><rect x="375" y="650" width="26" height="26" fill="#1b2a41"/><rect x="400" y="650" width="26" height="26" fill="#1b2a41"/><rect x="425" y="650" width="26" height="26" fill="#1b293f"/><rect x="450" y="650" width="26" height="26" fill="#1a293d"/><rect x="475" y="650" width="26" height="26" fill="#1a293d"/><rect x="500" y="650" width="26" height="26" fill="#1a2a3e"/><rect x="525" y="650" width="26" height="26" fill="#1a2a3d"/><rect x="550" y="650" width="26" height="26" fill="#192738"/><rect x="575" y="650" width="26" height="26" fill="#162231"/><rect x="600" y="650" width="26" height="26" fill="#131d2a"/><rect x="625" y="650" width="26" height="26" fill="#121926"/><rect x="650" y="650" width="26" height="26" fill="#111824"/><rect x="675" y="650" width="26" height="26" fill="#121925"/><rect x="700" y="650" width="26" height="26" fill="#131a27"/><rect x="725" y="650" width="26" height="26" fill="#131a27"/><rect x="750" y="650" width="26" height="26" fill="#131a27"/><rect x="-25" y="675" width="26" height="26" fill="#0f1626"/><rect x="0" y="675" width="26" height="26" fill="#0f1626"/><rect x="25" y="675" width="26" height="26" fill="#0f1626"/><rect x="50" y="675" width="26" height="26" fill="#0f1727"/><rect x="75" y="675" width="26" height="26" fill="#10192a"/><rect x="100" y="675" width="26" height="26" fill="#142035"/><rect x="125" y="675" width="26" height="26" fill="#1a2a44"/><rect x="150" y="675" width="26" height="26" fill="#1c2d48"/><rect x="175" y="675" width="26" height="26" fill="#1c2d48"/><rect x="200" y="675" width="26" height="26" fill="#1d2c47"/><rect x="225" y="675" width="26" height="26" fill="#1d2b45"/><rect x="250" y="675" width="26" height="26" fill="#1d2a42"/><rect x="275" y="675" width="26" height="26" fill="#1b273d"/><rect x="300" y="675" width="26" height="26" fill="#182337"/><rect x="325" y="675" width="26" height="26" fill="#172235"/><rect x="350" y="675" width="26" height="26" fill="#182438"/><rect x="375" y="675" width="26" height="26" fill="#18253a"/><rect x="400" y="675" width="26" height="26" fill="#182439"/><rect x="425" y="675" width="26" height="26" fill="#162236"/><rect x="450" y="675" width="26" height="26" fill="#152032"/><rect x="475" y="675" width="26" height="26" fill="#162132"/><rect x="500" y="675" width="26" height="26" fill="#162234"/><rect x="525" y="675" width="26" height="26" fill="#162333"/><rect x="550" y="675" width="26" height="26" fill="#15202f"/><rect x="575" y="675" width="26" height="26" fill="#121b28"/><rect x="600" y="675" width="26" height="26" fill="#101723"/><rect x="625" y="675" width="26" height="26" fill="#0f1520"/><rect x="650" y="675" width="26" height="26" fill="#101620"/><rect x="675" y="675" width="26" height="26" fill="#111722"/><rect x="700" y="675" width="26" height="26" fill="#121824"/><rect x="725" y="675" width="26" height="26" fill="#121925"/><rect x="750" y="675" width="26" height="26" fill="#121925"/><rect x="-25" y="700" width="26" height="26" fill="#0f1626"/><rect x="0" y="700" width="26" height="26" fill="#0f1626"/><rect x="25" y="700" width="26" height="26" fill="#0f1626"/><rect x="50" y="700" width="26" height="26" fill="#0f1626"/><rect x="75" y="700" width="26" height="26" fill="#0f1727"/><rect x="100" y="700" width="26" height="26" fill="#11192b"/><rect x="125" y="700" width="26" height="26" fill="#17243a"/><rect x="150" y="700" width="26" height="26" fill="#1c2b45"/><rect x="175" y="700" width="26" height="26" fill="#1d2b45"/><rect x="200" y="700" width="26" height="26" fill="#1d2a44"/><rect x="225" y="700" width="26" height="26" fill="#1d2942"/><rect x="250" y="700" width="26" height="26" fill="#1d283f"/><rect x="275" y="700" width="26" height="26" fill="#1b253a"/><rect x="300" y="700" width="26" height="26" fill="#182134"/><rect x="325" y="700" width="26" height="26" fill="#161f31"/><rect x="350" y="700" width="26" height="26" fill="#151f31"/><rect x="375" y="700" width="26" height="26" fill="#152032"/><rect x="400" y="700" width="26" height="26" fill="#141e31"/><rect x="425" y="700" width="26" height="26" fill="#131c2e"/><rect x="450" y="700" width="26" height="26" fill="#121b2b"/><rect x="475" y="700" width="26" height="26" fill="#121b2b"/><rect x="500" y="700" width="26" height="26" fill="#131c2b"/><rect x="525" y="700" width="26" height="26" fill="#131c2b"/><rect x="550" y="700" width="26" height="26" fill="#121a27"/><rect x="575" y="700" width="26" height="26" fill="#101622"/><rect x="600" y="700" width="26" height="26" fill="#0e141e"/><rect x="625" y="700" width="26" height="26" fill="#0e131d"/><rect x="650" y="700" width="26" height="26" fill="#0e141e"/><rect x="675" y="700" width="26" height="26" fill="#101520"/><rect x="700" y="700" width="26" height="26" fill="#111622"/><rect x="725" y="700" width="26" height="26" fill="#111723"/><rect x="750" y="700" width="26" height="26" fill="#121723"/><rect x="-25" y="725" width="26" height="26" fill="#0f1626"/><rect x="0" y="725" width="26" height="26" fill="#0f1626"/><rect x="25" y="725" width="26" height="26" fill="#0f1626"/><rect x="50" y="725" width="26" height="26" fill="#0f1626"/><rect x="75" y="725" width="26" height="26" fill="#0f1626"/><rect x="100" y="725" width="26" height="26" fill="#101728"/><rect x="125" y="725" width="26" height="26" fill="#141e32"/><rect x="150" y="725" width="26" height="26" fill="#1b2840"/><rect x="175" y="725" width="26" height="26" fill="#1d2942"/><rect x="200" y="725" width="26" height="26" fill="#1e2941"/><rect x="225" y="725" width="26" height="26" fill="#1e2840"/><rect x="250" y="725" width="26" height="26" fill="#1d273e"/><rect x="275" y="725" width="26" height="26" fill="#1b243a"/><rect x="300" y="725" width="26" height="26" fill="#172033"/><rect x="325" y="725" width="26" height="26" fill="#151e2f"/><rect x="350" y="725" width="26" height="26" fill="#141d2e"/><rect x="375" y="725" width="26" height="26" fill="#141c2e"/><rect x="400" y="725" width="26" height="26" fill="#121b2d"/><rect x="425" y="725" width="26" height="26" fill="#11192b"/><rect x="450" y="725" width="26" height="26" fill="#111829"/><rect x="475" y="725" width="26" height="26" fill="#111827"/><rect x="500" y="725" width="26" height="26" fill="#111826"/><rect x="525" y="725" width="26" height="26" fill="#111825"/><rect x="550" y="725" width="26" height="26" fill="#101622"/><rect x="575" y="725" width="26" height="26" fill="#0e141e"/><rect x="600" y="725" width="26" height="26" fill="#0d121c"/><rect x="625" y="725" width="26" height="26" fill="#0d121c"/><rect x="650" y="725" width="26" height="26" fill="#0e121c"/><rect x="675" y="725" width="26" height="26" fill="#0f141e"/><rect x="700" y="725" width="26" height="26" fill="#101520"/><rect x="725" y="725" width="26" height="26" fill="#111622"/><rect x="750" y="725" width="26" height="26" fill="#111622"/><rect x="-25" y="750" width="26" height="26" fill="#0f1626"/><rect x="0" y="750" width="26" height="26" fill="#0f1626"/><rect x="25" y="750" width="26" height="26" fill="#0f1626"/><rect x="50" y="750" width="26" height="26" fill="#0f1626"/><rect x="75" y="750" width="26" height="26" fill="#0f1626"/><rect x="100" y="750" width="26" height="26" fill="#0f1727"/><rect x="125" y="750" width="26" height="26" fill="#131c2f"/><rect x="150" y="750" width="26" height="26" fill="#1b273e"/><rect x="175" y="750" width="26" height="26" fill="#1e2941"/><rect x="200" y="750" width="26" height="26" fill="#1e2841"/><rect x="225" y="750" width="26" height="26" fill="#1e2840"/><rect x="250" y="750" width="26" height="26" fill="#1d273e"/><rect x="275" y="750" width="26" height="26" fill="#1b243a"/><rect x="300" y="750" width="26" height="26" fill="#172033"/><rect x="325" y="750" width="26" height="26" fill="#151d2e"/><rect x="350" y="750" width="26" height="26" fill="#141c2d"/><rect x="375" y="750" width="26" height="26" fill="#131c2d"/><rect x="400" y="750" width="26" height="26" fill="#121a2c"/><rect x="425" y="750" width="26" height="26" fill="#11192a"/><rect x="450" y="750" width="26" height="26" fill="#101828"/><rect x="475" y="750" width="26" height="26" fill="#101727"/><rect x="500" y="750" width="26" height="26" fill="#101725"/><rect x="525" y="750" width="26" height="26" fill="#101724"/><rect x="550" y="750" width="26" height="26" fill="#0f1520"/><rect x="575" y="750" width="26" height="26" fill="#0e131d"/><rect x="600" y="750" width="26" height="26" fill="#0d121b"/><rect x="625" y="750" width="26" height="26" fill="#0d121b"/><rect x="650" y="750" width="26" height="26" fill="#0d121c"/><rect x="675" y="750" width="26" height="26" fill="#0e131d"/><rect x="700" y="750" width="26" height="26" fill="#0f141f"/><rect x="725" y="750" width="26" height="26" fill="#101621"/><rect x="750" y="750" width="26" height="26" fill="#111622"/></g>
<filter id="nb" x="-50%" y="-50%" width="200%" height="200%" color-interpolation-filters="sRGB"><feGaussianBlur stdDeviation="7"/></filter><filter id="nb2" x="-50%" y="-50%" width="200%" height="200%" color-interpolation-filters="sRGB"><feGaussianBlur stdDeviation="3"/></filter><g filter="url(#nb)"><ellipse cx="700" cy="652" rx="70" ry="10" fill="#8a9cc0" opacity="0.22" transform="rotate(28 700 652)"/><ellipse cx="545" cy="378" rx="75" ry="16" fill="#a8bcd0" opacity="0.3" transform="rotate(14 545 378)"/><ellipse cx="430" cy="398" rx="110" ry="10" fill="#86a4c0" opacity="0.22" transform="rotate(0 430 398)"/><ellipse cx="245" cy="425" rx="40" ry="10" fill="#9ab0c8" opacity="0.3" transform="rotate(35 245 425)"/><ellipse cx="225" cy="485" rx="30" ry="14" fill="#8aa0b8" opacity="0.18" transform="rotate(60 225 485)"/><ellipse cx="80" cy="22" rx="55" ry="12" fill="#8094b8" opacity="0.12" transform="rotate(15 80 22)"/><ellipse cx="230" cy="52" rx="40" ry="8" fill="#8094b8" opacity="0.16" transform="rotate(20 230 52)"/><ellipse cx="440" cy="52" rx="16" ry="10" fill="#a0acc0" opacity="0.45" transform="rotate(0 440 52)"/><ellipse cx="470" cy="40" rx="50" ry="12" fill="#7c90b0" opacity="0.15" transform="rotate(0 470 40)"/><ellipse cx="250" cy="742" rx="60" ry="8" fill="#8090b0" opacity="0.18" transform="rotate(0 250 742)"/><ellipse cx="330" cy="228" rx="80" ry="6" fill="#6a88b8" opacity="0.16" transform="rotate(-5 330 228)"/><ellipse cx="230" cy="570" rx="70" ry="8" fill="#8aa0b8" opacity="0.18" transform="rotate(-10 230 570)"/></g><g filter="url(#nb2)"><ellipse cx="520" cy="365" rx="45" ry="3" fill="#0a1222" opacity="0.45" transform="rotate(12 520 365)"/><ellipse cx="600" cy="400" rx="30" ry="4" fill="#0a1222" opacity="0.35" transform="rotate(-30 600 400)"/></g>
<circle cx="242.9" cy="113.1" r="0.4" fill="#dfe8ff" opacity="0.23"/><circle cx="52.4" cy="68.0" r="0.8" fill="#dfe8ff" opacity="0.23"/><circle cx="46.4" cy="439.2" r="0.4" fill="#dfe8ff" opacity="0.64"/><circle cx="217.2" cy="108.2" r="0.45" fill="#dfe8ff" opacity="0.46"/><circle cx="77.3" cy="428.4" r="0.55" fill="#dfe8ff" opacity="0.37"/><circle cx="410.8" cy="47.1" r="0.4" fill="#dfe8ff" opacity="0.48"/><circle cx="372.3" cy="398.8" r="0.7" fill="#dfe8ff" opacity="0.41"/><circle cx="692.6" cy="271.2" r="0.55" fill="#dfe8ff" opacity="0.56"/><circle cx="430.8" cy="393.9" r="0.7" fill="#dfe8ff" opacity="0.53"/><circle cx="216.0" cy="735.1" r="0.45" fill="#dfe8ff" opacity="0.43"/><circle cx="700.0" cy="316.3" r="0.45" fill="#dfe8ff" opacity="0.54"/><circle cx="235.3" cy="521.5" r="0.95" fill="#dfe8ff" opacity="0.46"/><circle cx="708.5" cy="355.6" r="0.45" fill="#dfe8ff" opacity="0.23"/><circle cx="744.8" cy="616.4" r="0.6" fill="#dfe8ff" opacity="0.52"/><circle cx="665.3" cy="260.3" r="0.95" fill="#dfe8ff" opacity="0.36"/><circle cx="458.2" cy="370.3" r="0.55" fill="#dfe8ff" opacity="0.55"/><circle cx="97.0" cy="185.7" r="0.8" fill="#dfe8ff" opacity="0.61"/><circle cx="301.2" cy="208.4" r="0.5" fill="#dfe8ff" opacity="0.57"/><circle cx="663.1" cy="718.3" r="0.5" fill="#dfe8ff" opacity="0.24"/><circle cx="113.5" cy="493.9" r="0.4" fill="#dfe8ff" opacity="0.42"/><circle cx="276.9" cy="424.8" r="0.5" fill="#dfe8ff" opacity="0.51"/><circle cx="507.2" cy="40.5" r="0.8" fill="#dfe8ff" opacity="0.38"/><circle cx="738.5" cy="330.5" r="0.45" fill="#dfe8ff" opacity="0.35"/><circle cx="39.4" cy="0.2" r="0.5" fill="#dfe8ff" opacity="0.44"/><circle cx="52.7" cy="156.0" r="0.8" fill="#dfe8ff" opacity="0.27"/><circle cx="273.1" cy="92.1" r="0.95" fill="#dfe8ff" opacity="0.65"/><circle cx="64.4" cy="76.6" r="0.7" fill="#dfe8ff" opacity="0.53"/><circle cx="714.0" cy="271.3" r="0.4" fill="#dfe8ff" opacity="0.54"/><circle cx="223.6" cy="482.2" r="0.45" fill="#dfe8ff" opacity="0.51"/><circle cx="125.3" cy="579.0" r="0.7" fill="#dfe8ff" opacity="0.49"/><circle cx="459.9" cy="591.3" r="0.55" fill="#dfe8ff" opacity="0.56"/><circle cx="170.1" cy="388.2" r="0.7" fill="#dfe8ff" opacity="0.53"/><circle cx="742.2" cy="592.6" r="0.95" fill="#dfe8ff" opacity="0.32"/><circle cx="519.4" cy="717.4" r="0.95" fill="#dfe8ff" opacity="0.56"/><circle cx="542.3" cy="262.1" r="0.7" fill="#dfe8ff" opacity="0.24"/><circle cx="258.0" cy="482.3" r="0.45" fill="#dfe8ff" opacity="0.61"/><circle cx="586.7" cy="562.6" r="0.95" fill="#dfe8ff" opacity="0.60"/><circle cx="541.4" cy="347.4" r="0.45" fill="#dfe8ff" opacity="0.53"/><circle cx="127.5" cy="95.3" r="0.5" fill="#dfe8ff" opacity="0.47"/><circle cx="116.9" cy="411.2" r="0.4" fill="#dfe8ff" opacity="0.21"/><circle cx="188.9" cy="219.7" r="0.55" fill="#dfe8ff" opacity="0.54"/><circle cx="244.5" cy="408.3" r="0.5" fill="#dfe8ff" opacity="0.23"/><circle cx="554.9" cy="673.3" r="0.8" fill="#dfe8ff" opacity="0.57"/><circle cx="654.6" cy="582.4" r="0.4" fill="#dfe8ff" opacity="0.55"/><circle cx="112.4" cy="106.2" r="0.45" fill="#dfe8ff" opacity="0.45"/><circle cx="244.5" cy="388.8" r="0.95" fill="#dfe8ff" opacity="0.55"/><circle cx="79.6" cy="420.2" r="0.55" fill="#dfe8ff" opacity="0.29"/><circle cx="31.6" cy="73.3" r="0.95" fill="#dfe8ff" opacity="0.45"/><circle cx="570.0" cy="684.4" r="0.95" fill="#dfe8ff" opacity="0.35"/><circle cx="149.6" cy="207.9" r="0.95" fill="#dfe8ff" opacity="0.43"/><circle cx="185.7" cy="392.4" r="0.6" fill="#dfe8ff" opacity="0.62"/><circle cx="503.4" cy="321.3" r="0.55" fill="#dfe8ff" opacity="0.50"/><circle cx="588.0" cy="672.8" r="0.5" fill="#dfe8ff" opacity="0.62"/><circle cx="482.6" cy="274.6" r="0.6" fill="#dfe8ff" opacity="0.60"/><circle cx="714.4" cy="298.7" r="0.95" fill="#dfe8ff" opacity="0.27"/><circle cx="529.7" cy="745.6" r="0.8" fill="#dfe8ff" opacity="0.35"/><circle cx="541.6" cy="14.6" r="0.95" fill="#dfe8ff" opacity="0.40"/><circle cx="467.9" cy="384.2" r="0.45" fill="#dfe8ff" opacity="0.25"/><circle cx="136.2" cy="566.8" r="0.8" fill="#dfe8ff" opacity="0.58"/><circle cx="507.0" cy="709.5" r="0.8" fill="#dfe8ff" opacity="0.27"/><circle cx="43.1" cy="516.2" r="0.8" fill="#dfe8ff" opacity="0.60"/><circle cx="201.7" cy="12.6" r="0.45" fill="#dfe8ff" opacity="0.56"/><circle cx="200.9" cy="96.9" r="0.55" fill="#dfe8ff" opacity="0.62"/><circle cx="471.5" cy="398.3" r="0.55" fill="#dfe8ff" opacity="0.33"/><circle cx="260.3" cy="13.6" r="0.6" fill="#dfe8ff" opacity="0.22"/><circle cx="733.5" cy="385.7" r="0.55" fill="#dfe8ff" opacity="0.62"/><circle cx="626.0" cy="294.8" r="0.6" fill="#dfe8ff" opacity="0.51"/><circle cx="736.8" cy="257.0" r="0.5" fill="#dfe8ff" opacity="0.38"/><circle cx="260.7" cy="40.8" r="0.5" fill="#dfe8ff" opacity="0.21"/><circle cx="323.1" cy="41.6" r="0.8" fill="#dfe8ff" opacity="0.59"/><circle cx="181.7" cy="219.8" r="0.95" fill="#dfe8ff" opacity="0.28"/><circle cx="201.8" cy="2.7" r="0.7" fill="#dfe8ff" opacity="0.63"/><circle cx="3.7" cy="198.1" r="0.45" fill="#dfe8ff" opacity="0.26"/><circle cx="224.7" cy="472.3" r="0.45" fill="#dfe8ff" opacity="0.46"/><circle cx="396.9" cy="562.9" r="0.8" fill="#dfe8ff" opacity="0.54"/><circle cx="540.5" cy="370.6" r="0.6" fill="#dfe8ff" opacity="0.53"/><circle cx="482.4" cy="32.8" r="0.8" fill="#dfe8ff" opacity="0.53"/><circle cx="626.2" cy="603.5" r="0.55" fill="#dfe8ff" opacity="0.24"/><circle cx="31.4" cy="477.8" r="0.45" fill="#dfe8ff" opacity="0.37"/><circle cx="338.5" cy="38.1" r="0.4" fill="#dfe8ff" opacity="0.48"/><circle cx="510.5" cy="367.0" r="0.4" fill="#dfe8ff" opacity="0.41"/><circle cx="394.5" cy="559.3" r="0.95" fill="#dfe8ff" opacity="0.31"/><circle cx="55.8" cy="199.2" r="0.55" fill="#dfe8ff" opacity="0.30"/><circle cx="487.4" cy="345.3" r="0.8" fill="#dfe8ff" opacity="0.23"/><circle cx="682.8" cy="215.5" r="0.4" fill="#dfe8ff" opacity="0.48"/><circle cx="482.1" cy="58.1" r="0.5" fill="#dfe8ff" opacity="0.35"/><circle cx="531.7" cy="214.2" r="0.95" fill="#dfe8ff" opacity="0.41"/><circle cx="149.4" cy="733.6" r="0.95" fill="#dfe8ff" opacity="0.21"/><circle cx="726.1" cy="337.1" r="0.6" fill="#dfe8ff" opacity="0.37"/><circle cx="687.4" cy="697.9" r="0.45" fill="#dfe8ff" opacity="0.46"/><circle cx="106.3" cy="393.0" r="0.7" fill="#dfe8ff" opacity="0.26"/><circle cx="615.2" cy="381.6" r="0.45" fill="#dfe8ff" opacity="0.52"/><circle cx="364.6" cy="18.6" r="0.4" fill="#dfe8ff" opacity="0.63"/><circle cx="511.2" cy="304.1" r="0.5" fill="#dfe8ff" opacity="0.39"/><circle cx="8.8" cy="554.9" r="0.6" fill="#dfe8ff" opacity="0.37"/><circle cx="294.7" cy="749.1" r="0.45" fill="#dfe8ff" opacity="0.36"/><circle cx="36.2" cy="76.3" r="0.6" fill="#dfe8ff" opacity="0.49"/><circle cx="579.9" cy="588.9" r="0.8" fill="#dfe8ff" opacity="0.60"/><circle cx="685.1" cy="705.5" r="0.55" fill="#dfe8ff" opacity="0.52"/><circle cx="37.1" cy="549.3" r="0.95" fill="#dfe8ff" opacity="0.48"/><circle cx="311.1" cy="211.3" r="0.6" fill="#dfe8ff" opacity="0.53"/><circle cx="492.0" cy="225.6" r="0.8" fill="#dfe8ff" opacity="0.25"/><circle cx="482.4" cy="56.4" r="0.95" fill="#dfe8ff" opacity="0.45"/><circle cx="569.4" cy="320.6" r="0.55" fill="#dfe8ff" opacity="0.31"/><circle cx="131.0" cy="416.9" r="0.7" fill="#dfe8ff" opacity="0.31"/><circle cx="193.8" cy="427.2" r="0.4" fill="#dfe8ff" opacity="0.54"/><circle cx="253.7" cy="46.5" r="0.6" fill="#dfe8ff" opacity="0.46"/><circle cx="270.1" cy="515.1" r="0.55" fill="#dfe8ff" opacity="0.24"/><circle cx="672.6" cy="288.4" r="0.95" fill="#dfe8ff" opacity="0.39"/><circle cx="318.9" cy="572.8" r="0.95" fill="#dfe8ff" opacity="0.64"/><circle cx="367.4" cy="54.9" r="0.95" fill="#dfe8ff" opacity="0.64"/><circle cx="186.3" cy="81.8" r="0.5" fill="#dfe8ff" opacity="0.27"/><circle cx="634.9" cy="671.2" r="0.45" fill="#dfe8ff" opacity="0.45"/><circle cx="484.1" cy="227.8" r="0.5" fill="#dfe8ff" opacity="0.48"/><circle cx="143.8" cy="195.7" r="0.4" fill="#dfe8ff" opacity="0.20"/><circle cx="662.8" cy="356.5" r="0.55" fill="#dfe8ff" opacity="0.45"/><circle cx="487.2" cy="41.5" r="0.55" fill="#dfe8ff" opacity="0.42"/><circle cx="505.8" cy="315.0" r="0.6" fill="#dfe8ff" opacity="0.30"/><circle cx="538.7" cy="271.7" r="0.8" fill="#dfe8ff" opacity="0.29"/><circle cx="727.4" cy="233.8" r="0.55" fill="#dfe8ff" opacity="0.30"/><circle cx="166.1" cy="570.4" r="0.6" fill="#dfe8ff" opacity="0.25"/><circle cx="672.4" cy="363.8" r="0.4" fill="#dfe8ff" opacity="0.63"/><circle cx="106.4" cy="38.9" r="0.4" fill="#dfe8ff" opacity="0.28"/><circle cx="235.6" cy="84.9" r="0.45" fill="#dfe8ff" opacity="0.62"/><circle cx="246.9" cy="139.1" r="0.95" fill="#dfe8ff" opacity="0.21"/><circle cx="498.3" cy="284.0" r="0.7" fill="#dfe8ff" opacity="0.64"/><circle cx="58.7" cy="60.6" r="0.8" fill="#dfe8ff" opacity="0.63"/><circle cx="616.2" cy="616.5" r="0.8" fill="#dfe8ff" opacity="0.24"/><circle cx="242.5" cy="553.0" r="0.95" fill="#dfe8ff" opacity="0.21"/><circle cx="575.0" cy="30.5" r="0.4" fill="#dfe8ff" opacity="0.41"/><circle cx="602.5" cy="46.5" r="0.55" fill="#dfe8ff" opacity="0.54"/><circle cx="673.9" cy="254.3" r="0.6" fill="#dfe8ff" opacity="0.35"/><circle cx="715.3" cy="32.7" r="0.7" fill="#dfe8ff" opacity="0.62"/><circle cx="223.1" cy="541.2" r="0.45" fill="#dfe8ff" opacity="0.21"/><circle cx="717.6" cy="715.4" r="0.8" fill="#dfe8ff" opacity="0.56"/><circle cx="685.2" cy="611.1" r="0.5" fill="#dfe8ff" opacity="0.62"/><circle cx="553.9" cy="617.1" r="0.5" fill="#dfe8ff" opacity="0.47"/><circle cx="59.3" cy="148.0" r="0.5" fill="#dfe8ff" opacity="0.31"/><circle cx="48.5" cy="25.4" r="0.7" fill="#dfe8ff" opacity="0.27"/><circle cx="54.1" cy="468.5" r="0.55" fill="#dfe8ff" opacity="0.24"/><circle cx="505.6" cy="561.0" r="0.45" fill="#dfe8ff" opacity="0.55"/><circle cx="220.4" cy="209.5" r="0.6" fill="#dfe8ff" opacity="0.37"/><circle cx="185.6" cy="184.0" r="0.5" fill="#dfe8ff" opacity="0.33"/><circle cx="48.6" cy="188.7" r="0.55" fill="#dfe8ff" opacity="0.43"/><circle cx="490.0" cy="743.2" r="0.45" fill="#dfe8ff" opacity="0.20"/><circle cx="37.8" cy="450.4" r="0.55" fill="#dfe8ff" opacity="0.62"/><circle cx="583.3" cy="709.3" r="0.45" fill="#dfe8ff" opacity="0.49"/><circle cx="532.3" cy="262.3" r="0.4" fill="#dfe8ff" opacity="0.37"/><circle cx="106.0" cy="153.0" r="0.6" fill="#dfe8ff" opacity="0.22"/><circle cx="549.2" cy="685.5" r="0.4" fill="#dfe8ff" opacity="0.57"/><circle cx="465.8" cy="58.5" r="0.4" fill="#dfe8ff" opacity="0.56"/><circle cx="411.0" cy="47.5" r="0.45" fill="#dfe8ff" opacity="0.56"/><circle cx="298.3" cy="203.4" r="0.6" fill="#dfe8ff" opacity="0.50"/><circle cx="313.4" cy="38.5" r="0.7" fill="#dfe8ff" opacity="0.39"/><circle cx="13.7" cy="575.0" r="0.7" fill="#dfe8ff" opacity="0.49"/><circle cx="706.5" cy="325.6" r="0.5" fill="#dfe8ff" opacity="0.39"/><circle cx="615.3" cy="304.7" r="0.7" fill="#dfe8ff" opacity="0.41"/><circle cx="121.9" cy="11.1" r="0.5" fill="#dfe8ff" opacity="0.49"/><circle cx="212.5" cy="390.9" r="0.45" fill="#dfe8ff" opacity="0.25"/><circle cx="731.7" cy="362.1" r="0.4" fill="#dfe8ff" opacity="0.47"/><circle cx="662.9" cy="631.9" r="0.4" fill="#dfe8ff" opacity="0.50"/><circle cx="231.2" cy="186.9" r="0.8" fill="#dfe8ff" opacity="0.50"/><circle cx="17.5" cy="464.2" r="0.95" fill="#dfe8ff" opacity="0.41"/><circle cx="614.2" cy="627.4" r="0.95" fill="#dfe8ff" opacity="0.38"/><circle cx="30.5" cy="97.7" r="0.7" fill="#dfe8ff" opacity="0.55"/><circle cx="383.6" cy="40.7" r="0.8" fill="#dfe8ff" opacity="0.49"/><circle cx="588.2" cy="19.4" r="0.45" fill="#dfe8ff" opacity="0.65"/><circle cx="549.1" cy="611.2" r="0.55" fill="#dfe8ff" opacity="0.26"/><circle cx="664.3" cy="215.9" r="0.5" fill="#dfe8ff" opacity="0.51"/><circle cx="723.2" cy="360.1" r="0.6" fill="#dfe8ff" opacity="0.48"/><circle cx="576.2" cy="36.4" r="0.7" fill="#dfe8ff" opacity="0.63"/><circle cx="339.8" cy="391.1" r="0.45" fill="#dfe8ff" opacity="0.31"/><circle cx="553.4" cy="278.6" r="0.8" fill="#dfe8ff" opacity="0.65"/><circle cx="573.5" cy="331.7" r="0.5" fill="#dfe8ff" opacity="0.48"/><circle cx="718.5" cy="222.3" r="0.6" fill="#dfe8ff" opacity="0.34"/><circle cx="724.5" cy="652.7" r="0.7" fill="#dfe8ff" opacity="0.53"/><circle cx="218.2" cy="469.2" r="0.8" fill="#dfe8ff" opacity="0.43"/><circle cx="170.4" cy="489.8" r="0.4" fill="#dfe8ff" opacity="0.22"/><circle cx="425.3" cy="227.8" r="0.7" fill="#dfe8ff" opacity="0.44"/><circle cx="309.9" cy="225.9" r="0.5" fill="#dfe8ff" opacity="0.29"/><circle cx="182.7" cy="112.0" r="0.45" fill="#dfe8ff" opacity="0.23"/><circle cx="108.5" cy="499.1" r="0.6" fill="#dfe8ff" opacity="0.38"/><circle cx="198.2" cy="8.6" r="0.7" fill="#dfe8ff" opacity="0.47"/><circle cx="123.8" cy="0.3" r="0.4" fill="#dfe8ff" opacity="0.44"/><circle cx="9.3" cy="413.2" r="0.55" fill="#dfe8ff" opacity="0.26"/><circle cx="149.6" cy="456.1" r="0.8" fill="#dfe8ff" opacity="0.57"/><circle cx="131.0" cy="232.0" r="0.6" fill="#dfe8ff" opacity="0.48"/><circle cx="358.4" cy="403.8" r="0.8" fill="#dfe8ff" opacity="0.58"/><circle cx="558.9" cy="348.9" r="0.95" fill="#dfe8ff" opacity="0.28"/><circle cx="668.5" cy="693.9" r="0.6" fill="#dfe8ff" opacity="0.52"/><circle cx="199.5" cy="415.3" r="0.8" fill="#dfe8ff" opacity="0.51"/><circle cx="688.0" cy="728.9" r="0.6" fill="#dfe8ff" opacity="0.49"/><circle cx="660.0" cy="11.4" r="0.6" fill="#dfe8ff" opacity="0.61"/><circle cx="638.9" cy="691.3" r="0.95" fill="#dfe8ff" opacity="0.41"/><circle cx="398.0" cy="4.8" r="0.4" fill="#dfe8ff" opacity="0.40"/><circle cx="230.8" cy="159.0" r="0.45" fill="#dfe8ff" opacity="0.45"/><circle cx="128.7" cy="24.7" r="0.45" fill="#dfe8ff" opacity="0.25"/><circle cx="696.7" cy="258.6" r="0.5" fill="#dfe8ff" opacity="0.52"/><circle cx="23.2" cy="103.8" r="0.4" fill="#dfe8ff" opacity="0.51"/><circle cx="552.6" cy="49.3" r="0.7" fill="#dfe8ff" opacity="0.29"/><circle cx="715.9" cy="400.4" r="0.45" fill="#dfe8ff" opacity="0.60"/><circle cx="152.4" cy="25.4" r="0.45" fill="#dfe8ff" opacity="0.57"/><circle cx="473.7" cy="215.5" r="0.45" fill="#dfe8ff" opacity="0.26"/><circle cx="697.6" cy="36.3" r="0.7" fill="#dfe8ff" opacity="0.61"/><circle cx="357.1" cy="215.7" r="0.4" fill="#dfe8ff" opacity="0.56"/><circle cx="23.4" cy="389.0" r="0.45" fill="#dfe8ff" opacity="0.36"/><circle cx="528.5" cy="403.4" r="0.55" fill="#dfe8ff" opacity="0.52"/><circle cx="392.7" cy="216.3" r="0.4" fill="#dfe8ff" opacity="0.20"/><circle cx="161.0" cy="524.6" r="0.95" fill="#dfe8ff" opacity="0.27"/><circle cx="704.0" cy="575.1" r="0.95" fill="#dfe8ff" opacity="0.55"/><circle cx="522.9" cy="590.2" r="0.7" fill="#dfe8ff" opacity="0.36"/><circle cx="666.3" cy="18.9" r="0.55" fill="#dfe8ff" opacity="0.34"/><circle cx="321.0" cy="408.7" r="0.5" fill="#dfe8ff" opacity="0.37"/><circle cx="345.7" cy="398.7" r="0.4" fill="#dfe8ff" opacity="0.36"/><circle cx="245.0" cy="116.5" r="0.95" fill="#dfe8ff" opacity="0.50"/><circle cx="178.5" cy="143.7" r="0.6" fill="#dfe8ff" opacity="0.54"/><circle cx="542.5" cy="731.1" r="0.7" fill="#dfe8ff" opacity="0.47"/><circle cx="261.5" cy="177.2" r="0.55" fill="#dfe8ff" opacity="0.32"/><circle cx="716.2" cy="746.2" r="0.5" fill="#dfe8ff" opacity="0.63"/><circle cx="737.9" cy="596.2" r="0.6" fill="#dfe8ff" opacity="0.40"/><circle cx="147.1" cy="478.5" r="0.45" fill="#dfe8ff" opacity="0.33"/><circle cx="663.9" cy="347.9" r="0.4" fill="#dfe8ff" opacity="0.38"/><circle cx="555.7" cy="681.0" r="0.8" fill="#dfe8ff" opacity="0.52"/><circle cx="489.4" cy="658.2" r="0.55" fill="#dfe8ff" opacity="0.51"/><circle cx="481.2" cy="340.4" r="0.7" fill="#dfe8ff" opacity="0.32"/><circle cx="525.5" cy="671.1" r="0.55" fill="#dfe8ff" opacity="0.55"/><circle cx="490.9" cy="583.6" r="0.8" fill="#dfe8ff" opacity="0.57"/><circle cx="188.4" cy="163.4" r="0.55" fill="#dfe8ff" opacity="0.43"/><circle cx="75.8" cy="430.9" r="0.55" fill="#dfe8ff" opacity="0.52"/><circle cx="621.7" cy="391.3" r="0.8" fill="#dfe8ff" opacity="0.53"/><circle cx="342.7" cy="742.7" r="0.5" fill="#dfe8ff" opacity="0.38"/><circle cx="738.4" cy="266.6" r="0.4" fill="#dfe8ff" opacity="0.31"/><circle cx="286.4" cy="46.1" r="0.45" fill="#dfe8ff" opacity="0.39"/><circle cx="264.1" cy="198.9" r="0.55" fill="#dfe8ff" opacity="0.34"/><circle cx="728.6" cy="745.7" r="0.8" fill="#dfe8ff" opacity="0.41"/><circle cx="144.9" cy="481.6" r="0.55" fill="#dfe8ff" opacity="0.57"/><circle cx="109.7" cy="499.5" r="0.8" fill="#dfe8ff" opacity="0.41"/><circle cx="220.8" cy="411.2" r="0.5" fill="#dfe8ff" opacity="0.55"/><circle cx="172.8" cy="528.2" r="0.6" fill="#dfe8ff" opacity="0.64"/><circle cx="509.1" cy="361.2" r="0.6" fill="#dfe8ff" opacity="0.36"/><circle cx="490.8" cy="240.2" r="0.95" fill="#dfe8ff" opacity="0.39"/><circle cx="640.8" cy="42.8" r="0.7" fill="#dfe8ff" opacity="0.55"/><circle cx="474.9" cy="11.2" r="0.4" fill="#dfe8ff" opacity="0.29"/><circle cx="54.0" cy="219.7" r="0.45" fill="#dfe8ff" opacity="0.46"/><circle cx="516.0" cy="732.9" r="0.45" fill="#dfe8ff" opacity="0.50"/><circle cx="670.4" cy="591.1" r="0.6" fill="#dfe8ff" opacity="0.29"/><circle cx="519.6" cy="398.1" r="0.95" fill="#dfe8ff" opacity="0.50"/><circle cx="87.7" cy="88.8" r="0.8" fill="#dfe8ff" opacity="0.31"/><circle cx="373.6" cy="404.7" r="0.4" fill="#dfe8ff" opacity="0.27"/><circle cx="240.5" cy="521.9" r="0.95" fill="#dfe8ff" opacity="0.50"/><circle cx="630.4" cy="281.2" r="0.8" fill="#dfe8ff" opacity="0.65"/><circle cx="15.4" cy="34.4" r="0.7" fill="#dfe8ff" opacity="0.56"/><circle cx="95.2" cy="70.8" r="0.7" fill="#dfe8ff" opacity="0.35"/><circle cx="256.5" cy="188.7" r="0.4" fill="#dfe8ff" opacity="0.57"/><circle cx="594.0" cy="248.2" r="0.7" fill="#dfe8ff" opacity="0.52"/><circle cx="65.7" cy="747.4" r="0.8" fill="#dfe8ff" opacity="0.53"/><circle cx="37.3" cy="225.3" r="0.4" fill="#dfe8ff" opacity="0.22"/><circle cx="616.5" cy="356.3" r="0.4" fill="#dfe8ff" opacity="0.56"/><circle cx="500.3" cy="343.4" r="0.5" fill="#dfe8ff" opacity="0.25"/><circle cx="136.0" cy="27.7" r="0.45" fill="#dfe8ff" opacity="0.61"/><circle cx="67.2" cy="12.8" r="0.35" fill="#cfdcf5" opacity="0.48"/><circle cx="61.6" cy="14.9" r="0.45" fill="#cfdcf5" opacity="0.26"/><circle cx="85.2" cy="23.7" r="0.55" fill="#cfdcf5" opacity="0.42"/><circle cx="88.4" cy="23.3" r="0.55" fill="#cfdcf5" opacity="0.38"/><circle cx="103.5" cy="17.2" r="0.45" fill="#cfdcf5" opacity="0.40"/><circle cx="106.2" cy="25.2" r="0.35" fill="#cfdcf5" opacity="0.44"/><circle cx="72.6" cy="16.5" r="0.45" fill="#cfdcf5" opacity="0.39"/><circle cx="105.0" cy="32.8" r="0.35" fill="#cfdcf5" opacity="0.42"/><circle cx="76.6" cy="21.5" r="0.55" fill="#cfdcf5" opacity="0.24"/><circle cx="91.3" cy="24.4" r="0.35" fill="#cfdcf5" opacity="0.25"/><circle cx="121.8" cy="34.5" r="0.35" fill="#cfdcf5" opacity="0.36"/><circle cx="81.9" cy="6.1" r="0.45" fill="#cfdcf5" opacity="0.47"/><circle cx="71.6" cy="5.9" r="0.55" fill="#cfdcf5" opacity="0.47"/><circle cx="68.7" cy="27.9" r="0.45" fill="#cfdcf5" opacity="0.36"/><circle cx="99.1" cy="24.8" r="0.35" fill="#cfdcf5" opacity="0.45"/><circle cx="84.5" cy="23.3" r="0.55" fill="#cfdcf5" opacity="0.44"/><circle cx="61.8" cy="12.3" r="0.45" fill="#cfdcf5" opacity="0.46"/><circle cx="103.5" cy="40.7" r="0.45" fill="#cfdcf5" opacity="0.41"/><circle cx="49.8" cy="30.1" r="0.55" fill="#cfdcf5" opacity="0.35"/><circle cx="74.3" cy="16.8" r="0.35" fill="#cfdcf5" opacity="0.33"/><circle cx="59.0" cy="8.3" r="0.45" fill="#cfdcf5" opacity="0.37"/><circle cx="87.1" cy="16.1" r="0.45" fill="#cfdcf5" opacity="0.47"/><circle cx="60.4" cy="14.3" r="0.35" fill="#cfdcf5" opacity="0.42"/><circle cx="54.8" cy="4.6" r="0.55" fill="#cfdcf5" opacity="0.32"/><circle cx="99.7" cy="18.7" r="0.45" fill="#cfdcf5" opacity="0.40"/><circle cx="99.9" cy="26.5" r="0.45" fill="#cfdcf5" opacity="0.44"/><circle cx="36.9" cy="1.3" r="0.45" fill="#cfdcf5" opacity="0.30"/><circle cx="100.7" cy="27.6" r="0.45" fill="#cfdcf5" opacity="0.26"/><circle cx="121.1" cy="27.1" r="0.35" fill="#cfdcf5" opacity="0.30"/><circle cx="112.5" cy="42.5" r="0.55" fill="#cfdcf5" opacity="0.25"/><circle cx="127.4" cy="32.7" r="0.55" fill="#cfdcf5" opacity="0.44"/><circle cx="101.9" cy="24.4" r="0.35" fill="#cfdcf5" opacity="0.39"/><circle cx="53.9" cy="15.7" r="0.55" fill="#cfdcf5" opacity="0.53"/><circle cx="81.2" cy="32.2" r="0.55" fill="#cfdcf5" opacity="0.34"/><circle cx="68.3" cy="2.9" r="0.55" fill="#cfdcf5" opacity="0.46"/><circle cx="89.6" cy="16.8" r="0.35" fill="#cfdcf5" opacity="0.39"/><circle cx="73.6" cy="22.4" r="0.45" fill="#cfdcf5" opacity="0.40"/><circle cx="126.3" cy="25.3" r="0.55" fill="#cfdcf5" opacity="0.31"/><circle cx="62.2" cy="17.0" r="0.35" fill="#cfdcf5" opacity="0.27"/><circle cx="94.9" cy="36.2" r="0.45" fill="#cfdcf5" opacity="0.40"/><circle cx="48.4" cy="23.3" r="0.35" fill="#cfdcf5" opacity="0.29"/><circle cx="108.4" cy="25.7" r="0.35" fill="#cfdcf5" opacity="0.33"/><circle cx="69.1" cy="19.8" r="0.45" fill="#cfdcf5" opacity="0.41"/><circle cx="213.9" cy="51.5" r="0.35" fill="#cfdcf5" opacity="0.23"/><circle cx="238.7" cy="65.5" r="0.55" fill="#cfdcf5" opacity="0.37"/><circle cx="215.5" cy="45.0" r="0.45" fill="#cfdcf5" opacity="0.35"/><circle cx="265.0" cy="61.8" r="0.55" fill="#cfdcf5" opacity="0.54"/><circle cx="229.4" cy="53.3" r="0.35" fill="#cfdcf5" opacity="0.55"/><circle cx="226.1" cy="51.5" r="0.35" fill="#cfdcf5" opacity="0.40"/><circle cx="247.5" cy="54.1" r="0.35" fill="#cfdcf5" opacity="0.50"/><circle cx="202.5" cy="32.7" r="0.55" fill="#cfdcf5" opacity="0.54"/><circle cx="226.6" cy="57.6" r="0.55" fill="#cfdcf5" opacity="0.23"/><circle cx="253.1" cy="57.4" r="0.35" fill="#cfdcf5" opacity="0.36"/><circle cx="255.8" cy="73.0" r="0.55" fill="#cfdcf5" opacity="0.28"/><circle cx="245.5" cy="58.6" r="0.45" fill="#cfdcf5" opacity="0.22"/><circle cx="225.4" cy="49.9" r="0.35" fill="#cfdcf5" opacity="0.29"/><circle cx="195.7" cy="38.8" r="0.45" fill="#cfdcf5" opacity="0.22"/><circle cx="249.5" cy="66.1" r="0.35" fill="#cfdcf5" opacity="0.44"/><circle cx="219.3" cy="54.9" r="0.55" fill="#cfdcf5" opacity="0.24"/><circle cx="221.5" cy="52.6" r="0.35" fill="#cfdcf5" opacity="0.33"/><circle cx="212.1" cy="49.4" r="0.35" fill="#cfdcf5" opacity="0.52"/><circle cx="249.7" cy="55.4" r="0.35" fill="#cfdcf5" opacity="0.48"/><circle cx="249.4" cy="67.4" r="0.35" fill="#cfdcf5" opacity="0.53"/><circle cx="262.3" cy="55.5" r="0.35" fill="#cfdcf5" opacity="0.47"/><circle cx="277.6" cy="66.1" r="0.45" fill="#cfdcf5" opacity="0.49"/><circle cx="215.3" cy="42.4" r="0.45" fill="#cfdcf5" opacity="0.31"/><circle cx="230.2" cy="54.7" r="0.45" fill="#cfdcf5" opacity="0.25"/><circle cx="230.7" cy="54.0" r="0.55" fill="#cfdcf5" opacity="0.36"/><circle cx="248.6" cy="55.1" r="0.35" fill="#cfdcf5" opacity="0.29"/><circle cx="219.0" cy="49.6" r="0.45" fill="#cfdcf5" opacity="0.40"/><circle cx="216.0" cy="56.1" r="0.45" fill="#cfdcf5" opacity="0.37"/><circle cx="207.7" cy="54.3" r="0.35" fill="#cfdcf5" opacity="0.25"/><circle cx="200.5" cy="40.6" r="0.55" fill="#cfdcf5" opacity="0.52"/><circle cx="193.9" cy="35.1" r="0.35" fill="#cfdcf5" opacity="0.29"/><circle cx="234.5" cy="58.5" r="0.45" fill="#cfdcf5" opacity="0.55"/><circle cx="238.9" cy="54.1" r="0.45" fill="#cfdcf5" opacity="0.35"/><circle cx="248.2" cy="67.2" r="0.45" fill="#cfdcf5" opacity="0.25"/><circle cx="216.8" cy="42.8" r="0.55" fill="#cfdcf5" opacity="0.32"/><circle cx="230.8" cy="52.5" r="0.55" fill="#cfdcf5" opacity="0.30"/><circle cx="225.7" cy="51.6" r="0.45" fill="#cfdcf5" opacity="0.28"/><circle cx="220.0" cy="47.1" r="0.35" fill="#cfdcf5" opacity="0.38"/><circle cx="230.6" cy="55.5" r="0.55" fill="#cfdcf5" opacity="0.23"/><circle cx="253.5" cy="64.3" r="0.45" fill="#cfdcf5" opacity="0.47"/><circle cx="234.4" cy="56.2" r="0.55" fill="#cfdcf5" opacity="0.45"/><circle cx="242.6" cy="50.1" r="0.35" fill="#cfdcf5" opacity="0.20"/><circle cx="222.8" cy="43.4" r="0.55" fill="#cfdcf5" opacity="0.52"/><circle cx="210.8" cy="44.4" r="0.45" fill="#cfdcf5" opacity="0.49"/><circle cx="247.7" cy="53.8" r="0.35" fill="#cfdcf5" opacity="0.34"/><circle cx="471.3" cy="36.0" r="0.55" fill="#cfdcf5" opacity="0.29"/><circle cx="492.1" cy="53.0" r="0.45" fill="#cfdcf5" opacity="0.21"/><circle cx="458.4" cy="30.6" r="0.35" fill="#cfdcf5" opacity="0.32"/><circle cx="541.9" cy="31.8" r="0.35" fill="#cfdcf5" opacity="0.24"/><circle cx="457.8" cy="26.5" r="0.45" fill="#cfdcf5" opacity="0.47"/><circle cx="496.6" cy="32.8" r="0.35" fill="#cfdcf5" opacity="0.30"/><circle cx="507.9" cy="47.6" r="0.45" fill="#cfdcf5" opacity="0.38"/><circle cx="433.4" cy="38.2" r="0.35" fill="#cfdcf5" opacity="0.29"/><circle cx="505.4" cy="45.5" r="0.35" fill="#cfdcf5" opacity="0.24"/><circle cx="469.8" cy="53.8" r="0.35" fill="#cfdcf5" opacity="0.21"/><circle cx="514.0" cy="34.5" r="0.45" fill="#cfdcf5" opacity="0.21"/><circle cx="438.1" cy="34.3" r="0.55" fill="#cfdcf5" opacity="0.28"/><circle cx="443.8" cy="42.4" r="0.35" fill="#cfdcf5" opacity="0.45"/><circle cx="484.8" cy="41.1" r="0.45" fill="#cfdcf5" opacity="0.41"/><circle cx="471.0" cy="36.4" r="0.35" fill="#cfdcf5" opacity="0.34"/><circle cx="496.2" cy="47.6" r="0.35" fill="#cfdcf5" opacity="0.25"/><circle cx="425.4" cy="34.5" r="0.35" fill="#cfdcf5" opacity="0.53"/><circle cx="512.3" cy="41.2" r="0.55" fill="#cfdcf5" opacity="0.35"/><circle cx="489.6" cy="32.3" r="0.45" fill="#cfdcf5" opacity="0.54"/><circle cx="497.0" cy="42.3" r="0.45" fill="#cfdcf5" opacity="0.28"/><circle cx="453.7" cy="46.9" r="0.55" fill="#cfdcf5" opacity="0.48"/><circle cx="517.0" cy="32.8" r="0.55" fill="#cfdcf5" opacity="0.22"/><circle cx="394.9" cy="37.9" r="0.45" fill="#cfdcf5" opacity="0.29"/><circle cx="432.5" cy="45.0" r="0.45" fill="#cfdcf5" opacity="0.24"/><circle cx="480.2" cy="46.1" r="0.35" fill="#cfdcf5" opacity="0.38"/><circle cx="486.3" cy="40.5" r="0.45" fill="#cfdcf5" opacity="0.47"/><circle cx="509.2" cy="35.9" r="0.35" fill="#cfdcf5" opacity="0.21"/><circle cx="455.1" cy="35.4" r="0.55" fill="#cfdcf5" opacity="0.42"/><circle cx="432.4" cy="30.2" r="0.35" fill="#cfdcf5" opacity="0.42"/><circle cx="469.9" cy="49.1" r="0.45" fill="#cfdcf5" opacity="0.28"/><circle cx="484.2" cy="40.9" r="0.45" fill="#cfdcf5" opacity="0.43"/><circle cx="499.3" cy="46.9" r="0.55" fill="#cfdcf5" opacity="0.52"/><circle cx="504.6" cy="45.1" r="0.35" fill="#cfdcf5" opacity="0.35"/><circle cx="407.7" cy="38.9" r="0.45" fill="#cfdcf5" opacity="0.40"/><circle cx="462.6" cy="52.1" r="0.55" fill="#cfdcf5" opacity="0.39"/><circle cx="492.0" cy="31.3" r="0.55" fill="#cfdcf5" opacity="0.28"/><circle cx="441.4" cy="46.2" r="0.45" fill="#cfdcf5" opacity="0.36"/><circle cx="430.5" cy="36.9" r="0.45" fill="#cfdcf5" opacity="0.49"/><circle cx="496.5" cy="41.3" r="0.35" fill="#cfdcf5" opacity="0.38"/><circle cx="440.4" cy="46.7" r="0.35" fill="#cfdcf5" opacity="0.52"/><circle cx="508.7" cy="55.8" r="0.45" fill="#cfdcf5" opacity="0.39"/><circle cx="445.5" cy="40.3" r="0.35" fill="#cfdcf5" opacity="0.30"/><circle cx="472.4" cy="35.6" r="0.35" fill="#cfdcf5" opacity="0.41"/><circle cx="444.6" cy="49.0" r="0.55" fill="#cfdcf5" opacity="0.34"/><circle cx="424.5" cy="44.5" r="0.35" fill="#cfdcf5" opacity="0.38"/><circle cx="599.8" cy="390.7" r="0.35" fill="#cfdcf5" opacity="0.35"/><circle cx="536.2" cy="371.4" r="0.35" fill="#cfdcf5" opacity="0.42"/><circle cx="588.0" cy="374.8" r="0.55" fill="#cfdcf5" opacity="0.23"/><circle cx="599.8" cy="375.2" r="0.45" fill="#cfdcf5" opacity="0.29"/><circle cx="512.2" cy="360.2" r="0.55" fill="#cfdcf5" opacity="0.24"/><circle cx="547.5" cy="378.0" r="0.55" fill="#cfdcf5" opacity="0.41"/><circle cx="511.9" cy="365.5" r="0.45" fill="#cfdcf5" opacity="0.51"/><circle cx="518.6" cy="365.7" r="0.45" fill="#cfdcf5" opacity="0.44"/><circle cx="535.0" cy="383.9" r="0.45" fill="#cfdcf5" opacity="0.34"/><circle cx="512.0" cy="366.7" r="0.45" fill="#cfdcf5" opacity="0.20"/><circle cx="548.7" cy="350.9" r="0.45" fill="#cfdcf5" opacity="0.36"/><circle cx="555.7" cy="387.9" r="0.35" fill="#cfdcf5" opacity="0.35"/><circle cx="525.0" cy="377.7" r="0.45" fill="#cfdcf5" opacity="0.31"/><circle cx="586.9" cy="373.7" r="0.45" fill="#cfdcf5" opacity="0.27"/><circle cx="471.3" cy="368.7" r="0.35" fill="#cfdcf5" opacity="0.21"/><circle cx="537.2" cy="395.8" r="0.45" fill="#cfdcf5" opacity="0.52"/><circle cx="554.3" cy="368.9" r="0.45" fill="#cfdcf5" opacity="0.38"/><circle cx="490.4" cy="362.8" r="0.45" fill="#cfdcf5" opacity="0.36"/><circle cx="597.0" cy="394.5" r="0.45" fill="#cfdcf5" opacity="0.53"/><circle cx="527.6" cy="363.5" r="0.35" fill="#cfdcf5" opacity="0.34"/><circle cx="492.4" cy="364.8" r="0.55" fill="#cfdcf5" opacity="0.25"/><circle cx="557.3" cy="390.0" r="0.45" fill="#cfdcf5" opacity="0.35"/><circle cx="518.0" cy="380.8" r="0.35" fill="#cfdcf5" opacity="0.26"/><circle cx="497.7" cy="389.6" r="0.45" fill="#cfdcf5" opacity="0.38"/><circle cx="601.3" cy="404.6" r="0.55" fill="#cfdcf5" opacity="0.32"/><circle cx="585.9" cy="383.8" r="0.45" fill="#cfdcf5" opacity="0.42"/><circle cx="479.4" cy="359.1" r="0.35" fill="#cfdcf5" opacity="0.38"/><circle cx="552.5" cy="385.3" r="0.55" fill="#cfdcf5" opacity="0.40"/><circle cx="580.3" cy="394.3" r="0.55" fill="#cfdcf5" opacity="0.42"/><circle cx="580.6" cy="389.4" r="0.35" fill="#cfdcf5" opacity="0.31"/><circle cx="544.0" cy="377.0" r="0.45" fill="#cfdcf5" opacity="0.34"/><circle cx="550.0" cy="380.2" r="0.35" fill="#cfdcf5" opacity="0.27"/><circle cx="498.8" cy="366.6" r="0.45" fill="#cfdcf5" opacity="0.50"/><circle cx="581.2" cy="380.2" r="0.35" fill="#cfdcf5" opacity="0.40"/><circle cx="528.7" cy="376.4" r="0.35" fill="#cfdcf5" opacity="0.38"/><circle cx="536.2" cy="375.7" r="0.35" fill="#cfdcf5" opacity="0.26"/><circle cx="478.5" cy="359.0" r="0.55" fill="#cfdcf5" opacity="0.35"/><circle cx="564.4" cy="370.1" r="0.55" fill="#cfdcf5" opacity="0.47"/><circle cx="516.4" cy="384.1" r="0.45" fill="#cfdcf5" opacity="0.30"/><circle cx="594.5" cy="393.0" r="0.55" fill="#cfdcf5" opacity="0.22"/><circle cx="560.4" cy="394.0" r="0.35" fill="#cfdcf5" opacity="0.22"/><circle cx="584.0" cy="379.9" r="0.35" fill="#cfdcf5" opacity="0.35"/><circle cx="526.1" cy="368.5" r="0.35" fill="#cfdcf5" opacity="0.26"/><circle cx="401.0" cy="396.4" r="0.35" fill="#cfdcf5" opacity="0.51"/><circle cx="448.8" cy="394.1" r="0.55" fill="#cfdcf5" opacity="0.29"/><circle cx="546.2" cy="388.9" r="0.35" fill="#cfdcf5" opacity="0.29"/><circle cx="362.6" cy="403.1" r="0.35" fill="#cfdcf5" opacity="0.34"/><circle cx="360.3" cy="402.7" r="0.35" fill="#cfdcf5" opacity="0.48"/><circle cx="431.4" cy="401.1" r="0.45" fill="#cfdcf5" opacity="0.33"/><circle cx="543.6" cy="398.5" r="0.45" fill="#cfdcf5" opacity="0.40"/><circle cx="481.0" cy="402.1" r="0.45" fill="#cfdcf5" opacity="0.32"/><circle cx="348.5" cy="387.6" r="0.45" fill="#cfdcf5" opacity="0.49"/><circle cx="405.5" cy="401.0" r="0.35" fill="#cfdcf5" opacity="0.36"/><circle cx="397.1" cy="402.4" r="0.45" fill="#cfdcf5" opacity="0.43"/><circle cx="412.6" cy="400.4" r="0.55" fill="#cfdcf5" opacity="0.25"/><circle cx="452.8" cy="403.9" r="0.35" fill="#cfdcf5" opacity="0.39"/><circle cx="334.2" cy="399.8" r="0.35" fill="#cfdcf5" opacity="0.26"/><circle cx="376.9" cy="404.4" r="0.45" fill="#cfdcf5" opacity="0.42"/><circle cx="389.6" cy="396.0" r="0.45" fill="#cfdcf5" opacity="0.38"/><circle cx="438.6" cy="403.4" r="0.35" fill="#cfdcf5" opacity="0.53"/><circle cx="504.0" cy="397.9" r="0.45" fill="#cfdcf5" opacity="0.41"/><circle cx="402.1" cy="400.8" r="0.55" fill="#cfdcf5" opacity="0.38"/><circle cx="494.6" cy="403.9" r="0.55" fill="#cfdcf5" opacity="0.38"/><circle cx="387.9" cy="397.0" r="0.45" fill="#cfdcf5" opacity="0.21"/><circle cx="423.9" cy="395.3" r="0.35" fill="#cfdcf5" opacity="0.34"/><circle cx="459.4" cy="399.6" r="0.35" fill="#cfdcf5" opacity="0.31"/><circle cx="416.2" cy="396.0" r="0.55" fill="#cfdcf5" opacity="0.52"/><circle cx="461.5" cy="390.1" r="0.35" fill="#cfdcf5" opacity="0.22"/><circle cx="415.2" cy="401.3" r="0.35" fill="#cfdcf5" opacity="0.49"/><circle cx="388.5" cy="400.8" r="0.45" fill="#cfdcf5" opacity="0.47"/><circle cx="511.0" cy="391.3" r="0.35" fill="#cfdcf5" opacity="0.53"/><circle cx="453.5" cy="402.3" r="0.55" fill="#cfdcf5" opacity="0.44"/><circle cx="439.9" cy="397.3" r="0.55" fill="#cfdcf5" opacity="0.44"/><circle cx="383.7" cy="403.6" r="0.35" fill="#cfdcf5" opacity="0.30"/><circle cx="420.1" cy="404.8" r="0.35" fill="#cfdcf5" opacity="0.45"/><circle cx="445.2" cy="398.4" r="0.35" fill="#cfdcf5" opacity="0.35"/><circle cx="431.4" cy="395.1" r="0.55" fill="#cfdcf5" opacity="0.21"/><circle cx="400.7" cy="404.6" r="0.35" fill="#cfdcf5" opacity="0.40"/><circle cx="439.0" cy="403.8" r="0.55" fill="#cfdcf5" opacity="0.29"/><circle cx="353.4" cy="401.0" r="0.45" fill="#cfdcf5" opacity="0.53"/><circle cx="501.3" cy="403.5" r="0.55" fill="#cfdcf5" opacity="0.30"/><circle cx="534.0" cy="400.6" r="0.55" fill="#cfdcf5" opacity="0.44"/><circle cx="512.1" cy="396.8" r="0.35" fill="#cfdcf5" opacity="0.48"/><circle cx="429.9" cy="395.9" r="0.55" fill="#cfdcf5" opacity="0.46"/><circle cx="506.0" cy="397.9" r="0.35" fill="#cfdcf5" opacity="0.30"/><circle cx="542.4" cy="404.5" r="0.45" fill="#cfdcf5" opacity="0.35"/><circle cx="231.2" cy="422.6" r="0.55" fill="#cfdcf5" opacity="0.49"/><circle cx="235.3" cy="412.4" r="0.35" fill="#cfdcf5" opacity="0.44"/><circle cx="246.7" cy="436.8" r="0.35" fill="#cfdcf5" opacity="0.37"/><circle cx="252.2" cy="446.8" r="0.55" fill="#cfdcf5" opacity="0.29"/><circle cx="206.2" cy="392.3" r="0.55" fill="#cfdcf5" opacity="0.28"/><circle cx="233.4" cy="435.7" r="0.35" fill="#cfdcf5" opacity="0.33"/><circle cx="234.4" cy="420.2" r="0.45" fill="#cfdcf5" opacity="0.25"/><circle cx="241.3" cy="414.6" r="0.45" fill="#cfdcf5" opacity="0.28"/><circle cx="241.9" cy="431.6" r="0.45" fill="#cfdcf5" opacity="0.25"/><circle cx="233.1" cy="407.9" r="0.35" fill="#cfdcf5" opacity="0.51"/><circle cx="254.8" cy="439.2" r="0.45" fill="#cfdcf5" opacity="0.42"/><circle cx="255.3" cy="437.4" r="0.35" fill="#cfdcf5" opacity="0.44"/><circle cx="262.8" cy="454.3" r="0.45" fill="#cfdcf5" opacity="0.49"/><circle cx="253.3" cy="434.8" r="0.45" fill="#cfdcf5" opacity="0.37"/><circle cx="240.8" cy="425.4" r="0.45" fill="#cfdcf5" opacity="0.36"/><circle cx="254.0" cy="435.5" r="0.45" fill="#cfdcf5" opacity="0.40"/><circle cx="235.6" cy="427.5" r="0.35" fill="#cfdcf5" opacity="0.20"/><circle cx="272.5" cy="443.7" r="0.35" fill="#cfdcf5" opacity="0.46"/><circle cx="226.9" cy="422.8" r="0.45" fill="#cfdcf5" opacity="0.24"/><circle cx="227.3" cy="413.2" r="0.35" fill="#cfdcf5" opacity="0.47"/><circle cx="235.3" cy="424.5" r="0.35" fill="#cfdcf5" opacity="0.43"/><circle cx="224.2" cy="398.1" r="0.55" fill="#cfdcf5" opacity="0.44"/><circle cx="242.4" cy="420.7" r="0.55" fill="#cfdcf5" opacity="0.21"/><circle cx="256.3" cy="419.1" r="0.45" fill="#cfdcf5" opacity="0.33"/><circle cx="265.4" cy="437.2" r="0.55" fill="#cfdcf5" opacity="0.26"/><circle cx="258.0" cy="420.6" r="0.55" fill="#cfdcf5" opacity="0.42"/><circle cx="224.4" cy="417.8" r="0.45" fill="#cfdcf5" opacity="0.31"/><circle cx="227.7" cy="419.7" r="0.45" fill="#cfdcf5" opacity="0.49"/><circle cx="243.7" cy="426.6" r="0.35" fill="#cfdcf5" opacity="0.40"/><circle cx="228.6" cy="403.7" r="0.55" fill="#cfdcf5" opacity="0.34"/><circle cx="255.1" cy="433.7" r="0.45" fill="#cfdcf5" opacity="0.37"/><circle cx="250.2" cy="433.8" r="0.55" fill="#cfdcf5" opacity="0.42"/><circle cx="250.5" cy="432.9" r="0.35" fill="#cfdcf5" opacity="0.36"/><circle cx="252.3" cy="429.5" r="0.35" fill="#cfdcf5" opacity="0.50"/><circle cx="233.3" cy="417.5" r="0.45" fill="#cfdcf5" opacity="0.20"/><circle cx="268.1" cy="429.1" r="0.55" fill="#cfdcf5" opacity="0.35"/><circle cx="235.0" cy="428.6" r="0.55" fill="#cfdcf5" opacity="0.45"/><circle cx="250.3" cy="427.1" r="0.35" fill="#cfdcf5" opacity="0.43"/><circle cx="267.9" cy="427.0" r="0.35" fill="#cfdcf5" opacity="0.33"/><circle cx="274.4" cy="445.9" r="0.55" fill="#cfdcf5" opacity="0.32"/><circle cx="246.0" cy="428.6" r="0.45" fill="#cfdcf5" opacity="0.38"/><circle cx="224.9" cy="414.9" r="0.55" fill="#cfdcf5" opacity="0.50"/><circle cx="227.5" cy="403.6" r="0.35" fill="#cfdcf5" opacity="0.45"/><circle cx="674.2" cy="647.0" r="0.55" fill="#cfdcf5" opacity="0.40"/><circle cx="734.8" cy="668.2" r="0.55" fill="#cfdcf5" opacity="0.25"/><circle cx="727.8" cy="660.5" r="0.55" fill="#cfdcf5" opacity="0.21"/><circle cx="713.5" cy="668.7" r="0.45" fill="#cfdcf5" opacity="0.44"/><circle cx="721.6" cy="670.6" r="0.55" fill="#cfdcf5" opacity="0.40"/><circle cx="665.4" cy="637.8" r="0.55" fill="#cfdcf5" opacity="0.35"/><circle cx="696.4" cy="655.0" r="0.35" fill="#cfdcf5" opacity="0.39"/><circle cx="743.2" cy="683.7" r="0.45" fill="#cfdcf5" opacity="0.43"/><circle cx="713.7" cy="668.7" r="0.55" fill="#cfdcf5" opacity="0.37"/><circle cx="679.8" cy="639.6" r="0.55" fill="#cfdcf5" opacity="0.44"/><circle cx="700.0" cy="637.2" r="0.55" fill="#cfdcf5" opacity="0.23"/><circle cx="689.3" cy="647.8" r="0.45" fill="#cfdcf5" opacity="0.25"/><circle cx="663.3" cy="632.3" r="0.35" fill="#cfdcf5" opacity="0.42"/><circle cx="736.9" cy="669.6" r="0.45" fill="#cfdcf5" opacity="0.49"/><circle cx="684.2" cy="646.2" r="0.35" fill="#cfdcf5" opacity="0.40"/><circle cx="704.1" cy="650.6" r="0.55" fill="#cfdcf5" opacity="0.22"/><circle cx="699.7" cy="658.4" r="0.35" fill="#cfdcf5" opacity="0.45"/><circle cx="733.8" cy="667.9" r="0.35" fill="#cfdcf5" opacity="0.45"/><circle cx="639.5" cy="626.2" r="0.55" fill="#cfdcf5" opacity="0.55"/><circle cx="703.2" cy="656.9" r="0.55" fill="#cfdcf5" opacity="0.50"/><circle cx="721.1" cy="673.0" r="0.45" fill="#cfdcf5" opacity="0.48"/><circle cx="700.0" cy="651.0" r="0.45" fill="#cfdcf5" opacity="0.24"/><circle cx="661.4" cy="639.4" r="0.45" fill="#cfdcf5" opacity="0.45"/><circle cx="739.5" cy="675.5" r="0.35" fill="#cfdcf5" opacity="0.32"/><circle cx="677.0" cy="647.9" r="0.35" fill="#cfdcf5" opacity="0.52"/><circle cx="691.2" cy="642.7" r="0.35" fill="#cfdcf5" opacity="0.44"/><circle cx="647.3" cy="628.4" r="0.45" fill="#cfdcf5" opacity="0.24"/><circle cx="707.9" cy="652.1" r="0.55" fill="#cfdcf5" opacity="0.53"/><circle cx="735.2" cy="663.5" r="0.35" fill="#cfdcf5" opacity="0.41"/><circle cx="690.1" cy="670.1" r="0.45" fill="#cfdcf5" opacity="0.53"/><circle cx="728.0" cy="667.4" r="0.35" fill="#cfdcf5" opacity="0.37"/><circle cx="692.1" cy="648.0" r="0.35" fill="#cfdcf5" opacity="0.23"/><circle cx="670.5" cy="629.6" r="0.55" fill="#cfdcf5" opacity="0.34"/><circle cx="681.8" cy="642.9" r="0.45" fill="#cfdcf5" opacity="0.34"/><circle cx="732.4" cy="662.6" r="0.35" fill="#cfdcf5" opacity="0.33"/><circle cx="674.2" cy="637.2" r="0.35" fill="#cfdcf5" opacity="0.41"/><circle cx="717.7" cy="662.5" r="0.45" fill="#cfdcf5" opacity="0.45"/><circle cx="680.2" cy="648.2" r="0.45" fill="#cfdcf5" opacity="0.31"/><circle cx="679.0" cy="647.6" r="0.35" fill="#cfdcf5" opacity="0.21"/><circle cx="610.2" cy="609.3" r="0.35" fill="#cfdcf5" opacity="0.42"/><circle cx="699.1" cy="647.8" r="0.45" fill="#cfdcf5" opacity="0.30"/><circle cx="675.9" cy="639.2" r="0.55" fill="#cfdcf5" opacity="0.40"/><circle cx="686.2" cy="642.8" r="0.55" fill="#cfdcf5" opacity="0.21"/><circle cx="652.5" cy="622.4" r="0.35" fill="#cfdcf5" opacity="0.47"/><circle cx="221.5" cy="737.8" r="0.45" fill="#cfdcf5" opacity="0.48"/><circle cx="255.9" cy="739.2" r="0.35" fill="#cfdcf5" opacity="0.44"/><circle cx="233.1" cy="748.4" r="0.55" fill="#cfdcf5" opacity="0.33"/><circle cx="263.6" cy="739.6" r="0.55" fill="#cfdcf5" opacity="0.45"/><circle cx="226.3" cy="747.4" r="0.55" fill="#cfdcf5" opacity="0.31"/><circle cx="284.3" cy="741.7" r="0.45" fill="#cfdcf5" opacity="0.51"/><circle cx="261.9" cy="744.2" r="0.55" fill="#cfdcf5" opacity="0.36"/><circle cx="213.3" cy="743.7" r="0.45" fill="#cfdcf5" opacity="0.53"/><circle cx="235.7" cy="740.8" r="0.55" fill="#cfdcf5" opacity="0.31"/><circle cx="244.4" cy="737.0" r="0.45" fill="#cfdcf5" opacity="0.23"/><circle cx="228.0" cy="740.3" r="0.45" fill="#cfdcf5" opacity="0.55"/><circle cx="217.8" cy="747.4" r="0.45" fill="#cfdcf5" opacity="0.45"/><circle cx="300.5" cy="738.4" r="0.45" fill="#cfdcf5" opacity="0.51"/><circle cx="246.3" cy="745.0" r="0.35" fill="#cfdcf5" opacity="0.47"/><circle cx="234.5" cy="739.9" r="0.35" fill="#cfdcf5" opacity="0.28"/><circle cx="233.8" cy="743.6" r="0.55" fill="#cfdcf5" opacity="0.30"/><circle cx="236.3" cy="742.0" r="0.35" fill="#cfdcf5" opacity="0.46"/><circle cx="289.6" cy="740.8" r="0.35" fill="#cfdcf5" opacity="0.23"/><circle cx="265.9" cy="737.2" r="0.55" fill="#cfdcf5" opacity="0.25"/><circle cx="264.1" cy="746.6" r="0.35" fill="#cfdcf5" opacity="0.42"/><circle cx="268.3" cy="740.7" r="0.45" fill="#cfdcf5" opacity="0.50"/><circle cx="284.1" cy="742.8" r="0.55" fill="#cfdcf5" opacity="0.44"/><circle cx="244.6" cy="743.2" r="0.45" fill="#cfdcf5" opacity="0.48"/><circle cx="285.3" cy="744.9" r="0.45" fill="#cfdcf5" opacity="0.55"/><circle cx="192.5" cy="747.6" r="0.35" fill="#cfdcf5" opacity="0.21"/><circle cx="232.2" cy="747.3" r="0.45" fill="#cfdcf5" opacity="0.22"/><circle cx="213.7" cy="737.8" r="0.45" fill="#cfdcf5" opacity="0.25"/><circle cx="270.5" cy="742.3" r="0.55" fill="#cfdcf5" opacity="0.47"/><circle cx="296.5" cy="745.9" r="0.45" fill="#cfdcf5" opacity="0.32"/><circle cx="224.4" cy="734.7" r="0.35" fill="#cfdcf5" opacity="0.43"/><circle cx="228.4" cy="739.9" r="0.55" fill="#cfdcf5" opacity="0.42"/><circle cx="263.3" cy="737.8" r="0.35" fill="#cfdcf5" opacity="0.47"/><circle cx="231.2" cy="748.4" r="0.55" fill="#cfdcf5" opacity="0.36"/><circle cx="243.5" cy="746.8" r="0.45" fill="#cfdcf5" opacity="0.25"/><circle cx="284.0" cy="742.3" r="0.55" fill="#cfdcf5" opacity="0.48"/><circle cx="267.0" cy="741.7" r="0.55" fill="#cfdcf5" opacity="0.28"/><circle cx="250.5" cy="740.3" r="0.35" fill="#cfdcf5" opacity="0.42"/><circle cx="277.0" cy="745.5" r="0.35" fill="#cfdcf5" opacity="0.39"/><circle cx="238.7" cy="743.7" r="0.35" fill="#cfdcf5" opacity="0.50"/><circle cx="282.1" cy="736.5" r="0.55" fill="#cfdcf5" opacity="0.21"/><circle cx="253.9" cy="739.1" r="0.45" fill="#cfdcf5" opacity="0.27"/><circle cx="305.0" cy="737.5" r="0.45" fill="#cfdcf5" opacity="0.36"/><circle cx="274.4" cy="566.3" r="0.35" fill="#cfdcf5" opacity="0.48"/><circle cx="273.7" cy="559.2" r="0.45" fill="#cfdcf5" opacity="0.22"/><circle cx="197.2" cy="574.2" r="0.45" fill="#cfdcf5" opacity="0.53"/><circle cx="212.5" cy="571.0" r="0.45" fill="#cfdcf5" opacity="0.21"/><circle cx="223.0" cy="568.3" r="0.45" fill="#cfdcf5" opacity="0.27"/><circle cx="231.9" cy="563.9" r="0.45" fill="#cfdcf5" opacity="0.51"/><circle cx="239.2" cy="563.9" r="0.45" fill="#cfdcf5" opacity="0.53"/><circle cx="249.5" cy="569.2" r="0.35" fill="#cfdcf5" opacity="0.32"/><circle cx="258.4" cy="570.2" r="0.55" fill="#cfdcf5" opacity="0.53"/><circle cx="232.9" cy="570.8" r="0.35" fill="#cfdcf5" opacity="0.50"/><circle cx="228.8" cy="569.0" r="0.45" fill="#cfdcf5" opacity="0.26"/><circle cx="301.7" cy="547.4" r="0.45" fill="#cfdcf5" opacity="0.44"/><circle cx="236.3" cy="566.7" r="0.35" fill="#cfdcf5" opacity="0.25"/><circle cx="217.5" cy="576.7" r="0.45" fill="#cfdcf5" opacity="0.23"/><circle cx="256.4" cy="570.7" r="0.35" fill="#cfdcf5" opacity="0.34"/><circle cx="197.2" cy="571.1" r="0.45" fill="#cfdcf5" opacity="0.51"/><circle cx="238.8" cy="568.3" r="0.35" fill="#cfdcf5" opacity="0.27"/><circle cx="225.7" cy="570.2" r="0.35" fill="#cfdcf5" opacity="0.38"/><circle cx="234.9" cy="573.4" r="0.35" fill="#cfdcf5" opacity="0.45"/><circle cx="300.1" cy="560.2" r="0.35" fill="#cfdcf5" opacity="0.51"/><circle cx="259.5" cy="568.0" r="0.35" fill="#cfdcf5" opacity="0.38"/><circle cx="254.5" cy="565.7" r="0.55" fill="#cfdcf5" opacity="0.25"/><circle cx="226.2" cy="565.9" r="0.35" fill="#cfdcf5" opacity="0.39"/><circle cx="274.7" cy="553.5" r="0.35" fill="#cfdcf5" opacity="0.32"/><circle cx="251.4" cy="576.6" r="0.35" fill="#cfdcf5" opacity="0.46"/><circle cx="227.3" cy="573.0" r="0.45" fill="#cfdcf5" opacity="0.29"/><circle cx="252.2" cy="565.5" r="0.35" fill="#cfdcf5" opacity="0.34"/><circle cx="199.1" cy="574.1" r="0.35" fill="#cfdcf5" opacity="0.31"/><circle cx="266.8" cy="564.7" r="0.45" fill="#cfdcf5" opacity="0.39"/><circle cx="192.3" cy="565.9" r="0.55" fill="#cfdcf5" opacity="0.45"/><circle cx="206.0" cy="576.3" r="0.45" fill="#cfdcf5" opacity="0.33"/><circle cx="264.9" cy="569.4" r="0.45" fill="#cfdcf5" opacity="0.48"/><circle cx="268.7" cy="559.7" r="0.35" fill="#cfdcf5" opacity="0.41"/><circle cx="253.4" cy="564.5" r="0.55" fill="#cfdcf5" opacity="0.46"/><circle cx="294.2" cy="558.2" r="0.55" fill="#cfdcf5" opacity="0.24"/><circle cx="262.3" cy="558.4" r="0.55" fill="#cfdcf5" opacity="0.22"/><circle cx="218.9" cy="568.6" r="0.55" fill="#cfdcf5" opacity="0.35"/><circle cx="210.6" cy="569.5" r="0.55" fill="#cfdcf5" opacity="0.20"/><circle cx="227.0" cy="562.6" r="0.55" fill="#cfdcf5" opacity="0.32"/><circle cx="197.5" cy="574.6" r="0.55" fill="#cfdcf5" opacity="0.48"/><circle cx="251.5" cy="563.4" r="0.35" fill="#cfdcf5" opacity="0.34"/><circle cx="183.0" cy="577.4" r="0.55" fill="#cfdcf5" opacity="0.49"/><circle cx="41.9" cy="436.7" r="0.55" fill="#cfdcf5" opacity="0.28"/><circle cx="42.1" cy="398.4" r="0.45" fill="#cfdcf5" opacity="0.50"/><circle cx="20.1" cy="408.2" r="0.55" fill="#cfdcf5" opacity="0.28"/><circle cx="27.6" cy="442.0" r="0.55" fill="#cfdcf5" opacity="0.33"/><circle cx="33.7" cy="416.6" r="0.45" fill="#cfdcf5" opacity="0.28"/><circle cx="25.2" cy="433.6" r="0.45" fill="#cfdcf5" opacity="0.26"/><circle cx="62.3" cy="429.4" r="0.55" fill="#cfdcf5" opacity="0.50"/><circle cx="43.7" cy="424.2" r="0.45" fill="#cfdcf5" opacity="0.24"/><circle cx="35.1" cy="420.3" r="0.35" fill="#cfdcf5" opacity="0.33"/><circle cx="48.8" cy="394.0" r="0.45" fill="#cfdcf5" opacity="0.36"/><circle cx="39.6" cy="425.0" r="0.45" fill="#cfdcf5" opacity="0.44"/><circle cx="27.2" cy="398.6" r="0.35" fill="#cfdcf5" opacity="0.47"/><circle cx="30.8" cy="430.7" r="0.45" fill="#cfdcf5" opacity="0.37"/><circle cx="49.7" cy="391.5" r="0.55" fill="#cfdcf5" opacity="0.32"/><circle cx="37.3" cy="409.2" r="0.35" fill="#cfdcf5" opacity="0.20"/><circle cx="22.1" cy="419.0" r="0.45" fill="#cfdcf5" opacity="0.45"/><circle cx="27.6" cy="414.8" r="0.35" fill="#cfdcf5" opacity="0.29"/><circle cx="25.5" cy="398.8" r="0.45" fill="#cfdcf5" opacity="0.50"/><circle cx="29.3" cy="421.6" r="0.45" fill="#cfdcf5" opacity="0.42"/><circle cx="35.6" cy="408.9" r="0.45" fill="#cfdcf5" opacity="0.33"/><circle cx="46.5" cy="434.2" r="0.45" fill="#cfdcf5" opacity="0.35"/><circle cx="41.7" cy="398.6" r="0.35" fill="#cfdcf5" opacity="0.33"/><circle cx="14.8" cy="441.1" r="0.55" fill="#cfdcf5" opacity="0.40"/><circle cx="41.3" cy="420.0" r="0.35" fill="#cfdcf5" opacity="0.23"/><circle cx="28.6" cy="400.3" r="0.45" fill="#cfdcf5" opacity="0.37"/><circle cx="63.0" cy="420.5" r="0.35" fill="#cfdcf5" opacity="0.24"/><circle cx="50.8" cy="398.1" r="0.45" fill="#cfdcf5" opacity="0.26"/><circle cx="41.7" cy="425.0" r="0.35" fill="#cfdcf5" opacity="0.38"/><circle cx="62.3" cy="408.8" r="0.55" fill="#cfdcf5" opacity="0.27"/><circle cx="27.0" cy="413.3" r="0.45" fill="#cfdcf5" opacity="0.47"/><circle cx="37.7" cy="420.3" r="0.35" fill="#cfdcf5" opacity="0.40"/><circle cx="47.3" cy="426.0" r="0.35" fill="#cfdcf5" opacity="0.40"/><circle cx="44.0" cy="432.3" r="0.55" fill="#cfdcf5" opacity="0.32"/><circle cx="58.6" cy="413.5" r="0.55" fill="#cfdcf5" opacity="0.35"/><circle cx="70.2" cy="406.9" r="0.35" fill="#cfdcf5" opacity="0.31"/><circle cx="13.5" cy="443.3" r="0.35" fill="#cfdcf5" opacity="0.55"/><circle cx="29.1" cy="414.2" r="0.45" fill="#cfdcf5" opacity="0.33"/><circle cx="46.1" cy="398.9" r="0.45" fill="#cfdcf5" opacity="0.38"/><circle cx="35.8" cy="407.5" r="0.45" fill="#cfdcf5" opacity="0.29"/><circle cx="24.6" cy="405.3" r="0.55" fill="#cfdcf5" opacity="0.29"/><circle cx="36.7" cy="413.6" r="0.55" fill="#cfdcf5" opacity="0.43"/><circle cx="114.2" cy="481.0" r="0.55" fill="#cfdcf5" opacity="0.40"/><circle cx="71.5" cy="462.9" r="0.35" fill="#cfdcf5" opacity="0.36"/><circle cx="127.3" cy="461.2" r="0.55" fill="#cfdcf5" opacity="0.31"/><circle cx="102.4" cy="459.4" r="0.55" fill="#cfdcf5" opacity="0.49"/><circle cx="98.1" cy="477.3" r="0.45" fill="#cfdcf5" opacity="0.30"/><circle cx="133.6" cy="459.6" r="0.55" fill="#cfdcf5" opacity="0.41"/><circle cx="80.0" cy="459.9" r="0.35" fill="#cfdcf5" opacity="0.51"/><circle cx="94.3" cy="481.1" r="0.55" fill="#cfdcf5" opacity="0.24"/><circle cx="71.6" cy="488.6" r="0.55" fill="#cfdcf5" opacity="0.37"/><circle cx="100.0" cy="486.2" r="0.55" fill="#cfdcf5" opacity="0.48"/><circle cx="97.1" cy="455.3" r="0.55" fill="#cfdcf5" opacity="0.46"/><circle cx="123.8" cy="469.8" r="0.35" fill="#cfdcf5" opacity="0.25"/><circle cx="107.6" cy="474.7" r="0.35" fill="#cfdcf5" opacity="0.36"/><circle cx="92.0" cy="472.7" r="0.35" fill="#cfdcf5" opacity="0.35"/><circle cx="112.1" cy="463.6" r="0.45" fill="#cfdcf5" opacity="0.44"/><circle cx="94.8" cy="472.9" r="0.55" fill="#cfdcf5" opacity="0.25"/><circle cx="82.9" cy="478.9" r="0.35" fill="#cfdcf5" opacity="0.51"/><circle cx="130.3" cy="469.3" r="0.55" fill="#cfdcf5" opacity="0.25"/><circle cx="110.5" cy="475.8" r="0.35" fill="#cfdcf5" opacity="0.25"/><circle cx="154.0" cy="469.2" r="0.45" fill="#cfdcf5" opacity="0.54"/><circle cx="89.4" cy="469.1" r="0.45" fill="#cfdcf5" opacity="0.28"/><circle cx="101.7" cy="465.4" r="0.45" fill="#cfdcf5" opacity="0.25"/><circle cx="84.4" cy="476.4" r="0.45" fill="#cfdcf5" opacity="0.24"/><circle cx="109.3" cy="470.8" r="0.35" fill="#cfdcf5" opacity="0.55"/><circle cx="110.9" cy="479.6" r="0.45" fill="#cfdcf5" opacity="0.37"/><circle cx="99.2" cy="487.7" r="0.35" fill="#cfdcf5" opacity="0.27"/><circle cx="83.3" cy="471.3" r="0.55" fill="#cfdcf5" opacity="0.39"/><circle cx="95.1" cy="475.6" r="0.45" fill="#cfdcf5" opacity="0.47"/><circle cx="142.8" cy="464.5" r="0.55" fill="#cfdcf5" opacity="0.52"/><circle cx="96.9" cy="484.0" r="0.35" fill="#cfdcf5" opacity="0.32"/><circle cx="112.2" cy="481.8" r="0.35" fill="#cfdcf5" opacity="0.26"/><circle cx="80.6" cy="466.6" r="0.45" fill="#cfdcf5" opacity="0.46"/><circle cx="70.1" cy="483.0" r="0.45" fill="#cfdcf5" opacity="0.48"/><circle cx="121.1" cy="464.4" r="0.55" fill="#cfdcf5" opacity="0.39"/><circle cx="126.3" cy="468.6" r="0.45" fill="#cfdcf5" opacity="0.21"/><circle cx="95.8" cy="483.7" r="0.45" fill="#cfdcf5" opacity="0.43"/><circle cx="82.5" cy="482.1" r="0.45" fill="#cfdcf5" opacity="0.23"/><circle cx="131.4" cy="462.2" r="0.45" fill="#cfdcf5" opacity="0.26"/><circle cx="107.8" cy="477.1" r="0.55" fill="#cfdcf5" opacity="0.51"/><circle cx="97.6" cy="464.7" r="0.35" fill="#cfdcf5" opacity="0.24"/><circle cx="88.7" cy="472.4" r="0.45" fill="#cfdcf5" opacity="0.39"/><circle cx="86.5" cy="480.8" r="0.35" fill="#cfdcf5" opacity="0.40"/><circle cx="97.3" cy="478.0" r="0.35" fill="#cfdcf5" opacity="0.30"/><circle cx="115.1" cy="438.9" r="0.35" fill="#cfdcf5" opacity="0.45"/><circle cx="101.9" cy="462.3" r="0.35" fill="#cfdcf5" opacity="0.21"/><path d="M94.5 86.4L99.0 85.9L103.5 86.4L99.0 86.9ZM99.0 81.9L99.5 86.4L99.0 90.9L98.5 86.4Z" fill="#eef4ff" opacity="0.85"/><circle cx="99" cy="86.4" r="1.3" fill="#fff"/><path d="M731.0 238.0L735.0 237.5L739.0 238.0L735.0 238.5ZM735.0 234.0L735.5 238.0L735.0 242.0L734.5 238.0Z" fill="#eef4ff" opacity="0.85"/><circle cx="735" cy="238" r="1.3" fill="#fff"/><path d="M688.4 306.5L692.4 306.0L696.4 306.5L692.4 307.0ZM692.4 302.5L692.9 306.5L692.4 310.5L691.9 306.5Z" fill="#eef4ff" opacity="0.85"/><circle cx="692.4" cy="306.5" r="1.3" fill="#fff"/><path d="M557.5 314.4L561.0 313.9L564.5 314.4L561.0 314.9ZM561.0 310.9L561.5 314.4L561.0 317.9L560.5 314.4Z" fill="#eef4ff" opacity="0.85"/><circle cx="561" cy="314.4" r="1.3" fill="#fff"/><path d="M585.0 341.4L588.0 340.9L591.0 341.4L588.0 341.9ZM588.0 338.4L588.5 341.4L588.0 344.4L587.5 341.4Z" fill="#eef4ff" opacity="0.85"/><circle cx="588" cy="341.4" r="1.3" fill="#fff"/><path d="M521.5 674.2L525.0 673.7L528.5 674.2L525.0 674.7ZM525.0 670.7L525.5 674.2L525.0 677.7L524.5 674.2Z" fill="#eef4ff" opacity="0.85"/><circle cx="525" cy="674.2" r="1.3" fill="#fff"/><path d="M540.0 703.0L544.0 702.5L548.0 703.0L544.0 703.5ZM544.0 699.0L544.5 703.0L544.0 707.0L543.5 703.0Z" fill="#eef4ff" opacity="0.85"/><circle cx="544" cy="703" r="1.3" fill="#fff"/><path d="M589.3 706.6L592.3 706.1L595.3 706.6L592.3 707.1ZM592.3 703.6L592.8 706.6L592.3 709.6L591.8 706.6Z" fill="#eef4ff" opacity="0.85"/><circle cx="592.3" cy="706.6" r="1.3" fill="#fff"/><path d="M727.0 737.2L732.0 736.7L737.0 737.2L732.0 737.7ZM732.0 732.2L732.5 737.2L732.0 742.2L731.5 737.2Z" fill="#eef4ff" opacity="0.85"/><circle cx="732" cy="737.2" r="1.3" fill="#fff"/><path d="M73.0 446.4L76.5 445.9L80.0 446.4L76.5 446.9ZM76.5 442.9L77.0 446.4L76.5 449.9L76.0 446.4Z" fill="#eef4ff" opacity="0.85"/><circle cx="76.5" cy="446.4" r="1.3" fill="#fff"/><path d="M2.6 517.4L5.6 516.9L8.6 517.4L5.6 517.9ZM5.6 514.4L6.1 517.4L5.6 520.4L5.1 517.4Z" fill="#eef4ff" opacity="0.85"/><circle cx="5.6" cy="517.4" r="1.3" fill="#fff"/><path d="M68.7 528.2L71.7 527.7L74.7 528.2L71.7 528.7ZM71.7 525.2L72.2 528.2L71.7 531.2L71.2 528.2Z" fill="#eef4ff" opacity="0.85"/><circle cx="71.7" cy="528.2" r="1.3" fill="#fff"/>
<path d="M750 64.5H339.75A73.75 73.75 0 0 0 339.75 212H750Z" fill="#fff"/>
<path d="M0 237H411.50A73.50 73.50 0 0 1 411.50 384H0Z" fill="#fff"/>
<path d="M750 409.5H341.50A73.50 73.50 0 0 0 341.50 556.5H750Z" fill="#fff"/>
<path d="M0 581H411.00A74.00 74.00 0 0 1 411.00 729H0Z" fill="#fff"/>
<text x="131" y="41" font-size="29" fill="#fff" font-weight="bold" text-anchor="start" textLength="488" lengthAdjust="spacingAndGlyphs">Multiple &amp; Optional Working Modes</text>
<text x="32.7" y="174.4" font-size="23" fill="#fff" font-weight="bold" text-anchor="start" textLength="186.5" lengthAdjust="spacingAndGlyphs">AP/Router Mode</text>
<text x="524.5" y="337.9" font-size="23" fill="#fff" font-weight="bold" text-anchor="start" textLength="175.5" lengthAdjust="spacingAndGlyphs">Repeater Mode</text>
<text x="18" y="516.3" font-size="23" fill="#fff" font-weight="bold" text-anchor="start" textLength="219.5" lengthAdjust="spacingAndGlyphs">AP+Repeater Mode</text>
<text x="550" y="686.6" font-size="23" fill="#fff" font-weight="bold" text-anchor="start" textLength="133.5" lengthAdjust="spacingAndGlyphs">Mesh Mode</text>
<path d="M113.14 130.21A18.30 18.30 0 0 1 137.86 130.21" stroke="#fff" stroke-width="6.10" fill="none"/><path d="M104.89 121.21A30.50 30.50 0 0 1 146.11 121.21" stroke="#fff" stroke-width="6.10" fill="none"/><path d="M96.92 112.51A42.30 42.30 0 0 1 154.08 112.51" stroke="#fff" stroke-width="6.10" fill="none"/><path d="M125.50 143.70L119.62 137.29A8.70 8.70 0 0 1 131.38 137.29Z" fill="#fff"/>
<path d="M599.04 293.51A18.30 18.30 0 0 1 623.76 293.51" stroke="#fff" stroke-width="6.10" fill="none"/><path d="M590.79 284.51A30.50 30.50 0 0 1 632.01 284.51" stroke="#fff" stroke-width="6.10" fill="none"/><path d="M582.82 275.81A42.30 42.30 0 0 1 639.98 275.81" stroke="#fff" stroke-width="6.10" fill="none"/><path d="M611.40 307.00L605.52 300.59A8.70 8.70 0 0 1 617.28 300.59Z" fill="#fff"/>
<path d="M115.24 472.51A18.30 18.30 0 0 1 139.96 472.51" stroke="#fff" stroke-width="6.10" fill="none"/><path d="M106.99 463.51A30.50 30.50 0 0 1 148.21 463.51" stroke="#fff" stroke-width="6.10" fill="none"/><path d="M99.02 454.81A42.30 42.30 0 0 1 156.18 454.81" stroke="#fff" stroke-width="6.10" fill="none"/><path d="M127.60 486.00L121.72 479.59A8.70 8.70 0 0 1 133.48 479.59Z" fill="#fff"/>
<path d="M603.44 643.01A18.30 18.30 0 0 1 628.16 643.01" stroke="#fff" stroke-width="6.10" fill="none"/><path d="M595.19 634.01A30.50 30.50 0 0 1 636.41 634.01" stroke="#fff" stroke-width="6.10" fill="none"/><path d="M587.22 625.31A42.30 42.30 0 0 1 644.38 625.31" stroke="#fff" stroke-width="6.10" fill="none"/><path d="M615.80 656.50L609.92 650.09A8.70 8.70 0 0 1 621.68 650.09Z" fill="#fff"/>
<text x="291" y="119.9" font-size="9" fill="#3a3a3a" font-weight="normal" text-anchor="start" textLength="65" lengthAdjust="spacingAndGlyphs">Modem/Router</text>
<path d="M296.00 139.60L315.60 149.60L315.60 153.00L296.00 143.00Z" fill="#c9c9c9"/><path d="M315.60 149.60L341.20 136.40L341.20 139.80L315.60 153.00Z" fill="#3a3a3a"/><path d="M296.00 139.60L322.00 126.00L341.20 136.40L315.60 149.60Z" fill="#ececec" stroke="#d8d8d8" stroke-width="0.5"/><line x1="302.06" y1="139.47" x2="322.86" y2="128.59" stroke="#cdcdcd" stroke-width="0.5"/><line x1="305.00" y1="140.97" x2="325.80" y2="130.09" stroke="#cdcdcd" stroke-width="0.5"/><line x1="307.94" y1="142.47" x2="328.74" y2="131.59" stroke="#cdcdcd" stroke-width="0.5"/><line x1="310.88" y1="143.97" x2="331.68" y2="133.09" stroke="#cdcdcd" stroke-width="0.5"/><line x1="313.82" y1="145.47" x2="334.62" y2="134.59" stroke="#cdcdcd" stroke-width="0.5"/>
<rect x="443.20" y="108.10" width="25.60" height="25.10" fill="#e3e3e3"/><rect x="443.80" y="108.70" width="24.40" height="23.90" fill="none" stroke="#d2d2d2" stroke-width="0.6"/><rect x="448.80" y="109.50" width="14.70" height="23.50" rx="5.29" ry="6.17" fill="url(#adg)"/>
<rect x="396.00" y="152.10" width="24.70" height="20.10" fill="none" stroke="#d6d6d6" stroke-width="0.55"/><line x1="396.00" y1="161.95" x2="420.70" y2="161.95" stroke="#8c8c8c" stroke-width="0.6"/><circle cx="408.35" cy="161.95" r="2.6" fill="none" stroke="#c4c4c4" stroke-width="0.5"/><circle cx="408.35" cy="161.95" r="1.1" fill="#222"/><rect x="406.35" y="147.50" width="4" height="4.4" fill="none" stroke="#b0b0b0" stroke-width="0.5"/><rect x="406.35" y="172.20" width="4" height="4.2" fill="none" stroke="#b0b0b0" stroke-width="0.5"/><rect x="394.70" y="153.80" width="2.4" height="5" fill="none" stroke="#b0b0b0" stroke-width="0.5"/><rect x="419.60" y="153.80" width="2.4" height="5" fill="none" stroke="#b0b0b0" stroke-width="0.5"/><path d="M396.80 164.56v3.5M419.10 164.56l1 3.5" fill="none" stroke="#b0b0b0" stroke-width="0.5"/>
<path d="M560.21 111.79L524.52 77.08L523.88 77.72L558.59 113.41Z" fill="#cfcfcf"/><line x1="559.40" y1="112.60" x2="524.20" y2="77.40" stroke="#ededed" stroke-width="0.60"/><path d="M558.59 142.39L523.88 178.08L524.52 178.72L560.21 144.01Z" fill="#cfcfcf"/><line x1="559.40" y1="143.20" x2="524.20" y2="178.40" stroke="#ededed" stroke-width="0.60"/><path d="M557.70 126.70L507.20 127.40L507.20 128.40L557.70 129.10Z" fill="#cfcfcf"/><line x1="557.70" y1="127.90" x2="507.20" y2="127.90" stroke="#ededed" stroke-width="0.60"/><path d="M590.81 113.41L625.52 77.72L624.88 77.08L589.19 111.79Z" fill="#cfcfcf"/><line x1="590.00" y1="112.60" x2="625.20" y2="77.40" stroke="#ededed" stroke-width="0.60"/><path d="M589.19 144.01L624.88 178.72L625.52 178.08L590.81 142.39Z" fill="#cfcfcf"/><line x1="590.00" y1="143.20" x2="625.20" y2="178.40" stroke="#ededed" stroke-width="0.60"/><path d="M591.70 129.10L642.20 128.40L642.20 127.40L591.70 126.70Z" fill="#cfcfcf"/><line x1="591.70" y1="127.90" x2="642.20" y2="127.90" stroke="#ededed" stroke-width="0.60"/><rect x="557.70" y="110.90" width="34.00" height="34.00" rx="2.50" fill="#f3f3f3" stroke="#d4d4d4" stroke-width="0.90"/><rect x="560.20" y="115.90" width="29.00" height="27.00" fill="#ececec"/><line x1="561.20" y1="116.90" x2="561.20" y2="142.40" stroke="#d2d2d2" stroke-width="0.55"/><line x1="563.45" y1="116.90" x2="563.45" y2="142.40" stroke="#d2d2d2" stroke-width="0.55"/><line x1="565.70" y1="116.90" x2="565.70" y2="142.40" stroke="#d2d2d2" stroke-width="0.55"/><line x1="567.95" y1="116.90" x2="567.95" y2="142.40" stroke="#d2d2d2" stroke-width="0.55"/><line x1="570.20" y1="116.90" x2="570.20" y2="142.40" stroke="#d2d2d2" stroke-width="0.55"/><line x1="572.45" y1="116.90" x2="572.45" y2="142.40" stroke="#d2d2d2" stroke-width="0.55"/><line x1="574.70" y1="116.90" x2="574.70" y2="142.40" stroke="#d2d2d2" stroke-width="0.55"/><line x1="576.95" y1="116.90" x2="576.95" y2="142.40" stroke="#d2d2d2" stroke-width="0.55"/><line x1="579.20" y1="116.90" x2="579.20" y2="142.40" stroke="#d2d2d2" stroke-width="0.55"/><line x1="581.45" y1="116.90" x2="581.45" y2="142.40" stroke="#d2d2d2" stroke-width="0.55"/><line x1="583.70" y1="116.90" x2="583.70" y2="142.40" stroke="#d2d2d2" stroke-width="0.55"/><line x1="585.95" y1="116.90" x2="585.95" y2="142.40" stroke="#d2d2d2" stroke-width="0.55"/><line x1="588.20" y1="116.90" x2="588.20" y2="142.40" stroke="#d2d2d2" stroke-width="0.55"/><path d="M560.70 127.90H569.70M579.70 127.90H588.70M561.70 140.90L568.70 131.90M587.70 140.90L580.70 131.90" stroke="#fafafa" stroke-width="1.20"/><rect x="568.20" y="115.40" width="13.00" height="1.70" fill="#8e8e8e"/><rect x="572.40" y="145.20" width="4.60" height="2.20" fill="#7d7d7d"/><rect x="572.90" y="147.40" width="3.60" height="2.50" fill="#dcdcdc"/>
<line x1="575.5" y1="148" x2="575.5" y2="181" stroke="#cfcfcf" stroke-width="1.80"/><line x1="575.5" y1="148" x2="575.5" y2="181" stroke="#f4f4f4" stroke-width="0.70"/>
<path d="M328.80 144.00L328.80 182.20L434.30 182.20L434.30 168.50L419.80 168.50" stroke="#303030" stroke-width="1.25" fill="none" stroke-linejoin="miter"/>
<path d="M395.50 168.50L380.60 168.50L380.60 188.50L575.50 188.50L575.50 180.00" stroke="#303030" stroke-width="1.25" fill="none" stroke-linejoin="miter"/>
<path d="M456.00 133.00L456.00 158.70L420.70 158.70" stroke="#303030" stroke-width="1.3" fill="none" stroke-linejoin="miter"/>
<text x="458.6" y="184.4" font-size="11.5" fill="#2a2a2a" font-weight="normal" text-anchor="start" textLength="54.6" lengthAdjust="spacingAndGlyphs">max 100m</text>
<text x="553.8" y="204.8" font-size="9.2" fill="#3a3a3a" font-weight="normal" text-anchor="start" textLength="42.3" lengthAdjust="spacingAndGlyphs">AP/Router</text>
<g stroke="#22a3dc" fill="none" stroke-width="1.75"><path d="M608.74 105.60A3.90 3.90 0 0 1 612.50 109.36"/><path d="M608.85 102.20A7.30 7.30 0 0 1 615.90 109.25"/><path d="M608.97 98.81A10.70 10.70 0 0 1 619.29 109.13"/><path d="M609.09 95.41A14.10 14.10 0 0 1 622.69 109.01"/></g><circle cx="608.60" cy="109.50" r="1.45" fill="#22a3dc"/>
<rect x="683.10" y="71.50" width="11.70" height="37.00" rx="2.3" fill="#52465a"/><rect x="684.00" y="72.70" width="9.70" height="9.62" rx="1.8" fill="#2e2533"/><circle cx="685.90" cy="74.90" r="1.6" fill="#15101a"/><circle cx="685.90" cy="79.10" r="1.6" fill="#15101a"/><circle cx="689.70" cy="77.00" r="1.6" fill="#15101a"/><rect x="688.37" y="86.30" width="2.2" height="2.2" fill="#2b2430"/><rect x="695.10" y="71.50" width="18.00" height="37.00" rx="2.6" fill="#2d2433"/><rect x="696.00" y="72.40" width="16.20" height="35.20" rx="2" fill="url(#phg)"/><path d="M697.10 88.89Q704.10 91.85 711.10 88.89M697.10 93.70Q704.10 90.74 711.10 93.70" stroke="#6a5a80" stroke-width="0.6" fill="none"/><rect x="701.60" y="73.10" width="5" height="1.3" rx="0.6" fill="#111"/><rect x="682.60" y="124.80" width="7" height="34.60" rx="1.8" fill="#6d87c7"/><rect x="683.20" y="125.80" width="1.2" height="32.60" fill="#8aa2d8"/><circle cx="684.50" cy="126.90" r="0.8" fill="#223"/><rect x="688.00" y="124.80" width="25.10" height="34.60" rx="2" fill="#1d2133"/><clipPath id="tc682124"><rect x="689.40" y="126.40" width="22.30" height="31.40"/></clipPath><g clip-path="url(#tc682124)"><rect x="689.40" y="126.40" width="22.30" height="31.40" fill="url(#tbg)"/><g filter="url(#soft)"><ellipse cx="696.09" cy="130.17" rx="7.80" ry="3.77" fill="#a6dcf9" opacity="0.8"/><ellipse cx="703.23" cy="139.27" rx="11.15" ry="2.35" fill="#4a36cc"/><ellipse cx="696.09" cy="141.47" rx="13.83" ry="4.08" fill="#e51f8a"/><ellipse cx="702.78" cy="143.04" rx="10.04" ry="1.41" fill="#f2466a"/><ellipse cx="704.56" cy="146.18" rx="13.38" ry="3.30" fill="#f6de26"/></g></g><rect x="682.20" y="175.50" width="31.90" height="20.90" rx="0.8" fill="#3b3538"/><clipPath id="lc678175"><rect x="682.90" y="176.20" width="30.50" height="19.40"/></clipPath><g clip-path="url(#lc678175)"><rect x="682.90" y="176.20" width="30.50" height="19.40" fill="#f3874a"/><g filter="url(#soft2)"><path d="M696.62 185.90L726.62 185.90L725.39 194.42Z" fill="#ff5a1e" opacity="0.8"/><path d="M696.62 185.90L722.61 200.90L717.28 207.66Z" fill="#f9a25e" opacity="0.8"/><path d="M696.62 185.90L711.62 211.88L703.63 215.07Z" fill="#ee5a7a" opacity="0.8"/><path d="M696.62 185.90L696.62 215.90L688.10 214.66Z" fill="#ffb46a" opacity="0.8"/><path d="M696.62 185.90L681.62 211.88L674.86 206.55Z" fill="#f4441e" opacity="0.8"/><path d="M696.62 185.90L670.64 200.90L667.45 192.90Z" fill="#f7c090" opacity="0.8"/><path d="M696.62 185.90L666.62 185.90L667.86 177.38Z" fill="#e8607a" opacity="0.8"/><path d="M696.62 185.90L670.64 170.90L675.97 164.14Z" fill="#ff7a2a" opacity="0.8"/><path d="M696.62 185.90L681.62 159.92L689.62 156.73Z" fill="#f5a070" opacity="0.8"/><path d="M696.62 185.90L696.62 155.90L705.15 157.14Z" fill="#d86a8a" opacity="0.8"/><path d="M696.62 185.90L711.62 159.92L718.39 165.25Z" fill="#ff6a20" opacity="0.8"/><path d="M696.62 185.90L722.61 170.90L725.80 178.90Z" fill="#f8b880" opacity="0.8"/><path d="M704.25 195.60L713.40 186.87V195.60Z" fill="#b8b4bc" opacity="0.85"/><ellipse cx="696.62" cy="185.90" rx="4.88" ry="3.88" fill="#ff2010" opacity="0.75"/></g></g><path d="M678.40 196.40H717.90V197.40Q716.90 199.20 714.90 199.20H681.40Q679.40 199.20 678.40 197.40Z" fill="#a8a8b0"/><g stroke="#22a3dc" fill="none" stroke-width="1.75"><path d="M672.58 85.26A3.90 3.90 0 0 1 674.61 80.24"/><path d="M669.43 86.53A7.30 7.30 0 0 1 673.23 77.13"/><path d="M666.28 87.81A10.70 10.70 0 0 1 671.85 74.03"/><path d="M663.13 89.08A14.10 14.10 0 0 1 670.47 70.92"/></g><circle cx="676.20" cy="83.80" r="1.45" fill="#22a3dc"/><g stroke="#22a3dc" fill="none" stroke-width="1.75"><path d="M670.58 134.56A3.90 3.90 0 0 1 672.61 129.54"/><path d="M667.43 135.83A7.30 7.30 0 0 1 671.23 126.43"/><path d="M664.28 137.11A10.70 10.70 0 0 1 669.85 123.33"/><path d="M661.13 138.38A14.10 14.10 0 0 1 668.47 120.22"/></g><circle cx="674.20" cy="133.10" r="1.45" fill="#22a3dc"/><g stroke="#22a3dc" fill="none" stroke-width="1.75"><path d="M670.58 177.96A3.90 3.90 0 0 1 672.61 172.94"/><path d="M667.43 179.23A7.30 7.30 0 0 1 671.23 169.83"/><path d="M664.28 180.51A10.70 10.70 0 0 1 669.85 166.73"/><path d="M661.13 181.78A14.10 14.10 0 0 1 668.47 163.62"/></g><circle cx="674.20" cy="176.50" r="1.45" fill="#22a3dc"/>
<path d="M61.60 291.80Q65.60 292.80 68.60 295.00V352.30Q65.60 353.80 62.10 355.00Z" fill="#1c1c1c"/><path d="M20.60 284.80Q22.60 283.10 26.60 283.10Q49.60 283.80 68.60 295.00L62.60 292.30Q41.60 285.80 20.60 284.80Z" fill="#505050"/><path d="M19.60 287.30Q19.60 284.30 22.60 284.30Q43.60 285.80 62.60 292.30V355.00Q41.60 348.30 19.60 347.00Z" fill="url(#rtg)"/><rect x="62.90" y="347.70" width="4.6" height="3.2" fill="#d8d8d8"/>
<text x="26.7" y="368.4" font-size="9.5" fill="#3a3a3a" font-weight="normal" text-anchor="start" textLength="28" lengthAdjust="spacingAndGlyphs">Router</text>
<g stroke="#22a3dc" fill="none" stroke-width="1.75"><path d="M77.54 286.60A3.90 3.90 0 0 1 81.30 290.36"/><path d="M77.65 283.20A7.30 7.30 0 0 1 84.70 290.25"/><path d="M77.77 279.81A10.70 10.70 0 0 1 88.09 290.13"/><path d="M77.89 276.41A14.10 14.10 0 0 1 91.49 290.01"/></g><circle cx="77.40" cy="290.50" r="1.45" fill="#22a3dc"/>
<rect x="150.70" y="286.00" width="25.00" height="24.70" fill="#e3e3e3"/><rect x="151.30" y="286.60" width="23.80" height="23.50" fill="none" stroke="#d2d2d2" stroke-width="0.6"/><rect x="156.00" y="287.30" width="14.00" height="23.40" rx="5.04" ry="5.88" fill="url(#adg)"/>
<rect x="104.00" y="330.00" width="24.00" height="20.00" fill="none" stroke="#d6d6d6" stroke-width="0.55"/><line x1="104.00" y1="339.80" x2="128.00" y2="339.80" stroke="#8c8c8c" stroke-width="0.6"/><circle cx="116.00" cy="339.80" r="2.6" fill="none" stroke="#c4c4c4" stroke-width="0.5"/><circle cx="116.00" cy="339.80" r="1.1" fill="#222"/><rect x="114.00" y="325.40" width="4" height="4.4" fill="none" stroke="#b0b0b0" stroke-width="0.5"/><rect x="114.00" y="350.00" width="4" height="4.2" fill="none" stroke="#b0b0b0" stroke-width="0.5"/><rect x="102.70" y="331.70" width="2.4" height="5" fill="none" stroke="#b0b0b0" stroke-width="0.5"/><rect x="126.90" y="331.70" width="2.4" height="5" fill="none" stroke="#b0b0b0" stroke-width="0.5"/><path d="M104.80 342.40v3.5M126.40 342.40l1 3.5" fill="none" stroke="#b0b0b0" stroke-width="0.5"/>
<path d="M266.81 285.89L231.12 251.18L230.48 251.82L265.19 287.51Z" fill="#cfcfcf"/><line x1="266.00" y1="286.70" x2="230.80" y2="251.50" stroke="#ededed" stroke-width="0.60"/><path d="M265.19 316.49L230.48 352.18L231.12 352.82L266.81 318.11Z" fill="#cfcfcf"/><line x1="266.00" y1="317.30" x2="230.80" y2="352.50" stroke="#ededed" stroke-width="0.60"/><path d="M264.30 300.80L213.80 301.50L213.80 302.50L264.30 303.20Z" fill="#cfcfcf"/><line x1="264.30" y1="302.00" x2="213.80" y2="302.00" stroke="#ededed" stroke-width="0.60"/><path d="M297.41 287.51L332.12 251.82L331.48 251.18L295.79 285.89Z" fill="#cfcfcf"/><line x1="296.60" y1="286.70" x2="331.80" y2="251.50" stroke="#ededed" stroke-width="0.60"/><path d="M295.79 318.11L331.48 352.82L332.12 352.18L297.41 316.49Z" fill="#cfcfcf"/><line x1="296.60" y1="317.30" x2="331.80" y2="352.50" stroke="#ededed" stroke-width="0.60"/><path d="M298.30 303.20L348.80 302.50L348.80 301.50L298.30 300.80Z" fill="#cfcfcf"/><line x1="298.30" y1="302.00" x2="348.80" y2="302.00" stroke="#ededed" stroke-width="0.60"/><rect x="264.30" y="285.00" width="34.00" height="34.00" rx="2.50" fill="#f3f3f3" stroke="#d4d4d4" stroke-width="0.90"/><rect x="266.80" y="290.00" width="29.00" height="27.00" fill="#ececec"/><line x1="267.80" y1="291.00" x2="267.80" y2="316.50" stroke="#d2d2d2" stroke-width="0.55"/><line x1="270.05" y1="291.00" x2="270.05" y2="316.50" stroke="#d2d2d2" stroke-width="0.55"/><line x1="272.30" y1="291.00" x2="272.30" y2="316.50" stroke="#d2d2d2" stroke-width="0.55"/><line x1="274.55" y1="291.00" x2="274.55" y2="316.50" stroke="#d2d2d2" stroke-width="0.55"/><line x1="276.80" y1="291.00" x2="276.80" y2="316.50" stroke="#d2d2d2" stroke-width="0.55"/><line x1="279.05" y1="291.00" x2="279.05" y2="316.50" stroke="#d2d2d2" stroke-width="0.55"/><line x1="281.30" y1="291.00" x2="281.30" y2="316.50" stroke="#d2d2d2" stroke-width="0.55"/><line x1="283.55" y1="291.00" x2="283.55" y2="316.50" stroke="#d2d2d2" stroke-width="0.55"/><line x1="285.80" y1="291.00" x2="285.80" y2="316.50" stroke="#d2d2d2" stroke-width="0.55"/><line x1="288.05" y1="291.00" x2="288.05" y2="316.50" stroke="#d2d2d2" stroke-width="0.55"/><line x1="290.30" y1="291.00" x2="290.30" y2="316.50" stroke="#d2d2d2" stroke-width="0.55"/><line x1="292.55" y1="291.00" x2="292.55" y2="316.50" stroke="#d2d2d2" stroke-width="0.55"/><line x1="294.80" y1="291.00" x2="294.80" y2="316.50" stroke="#d2d2d2" stroke-width="0.55"/><path d="M267.30 302.00H276.30M286.30 302.00H295.30M268.30 315.00L275.30 306.00M294.30 315.00L287.30 306.00" stroke="#fafafa" stroke-width="1.20"/><rect x="274.80" y="289.50" width="13.00" height="1.70" fill="#8e8e8e"/><rect x="279.00" y="319.30" width="4.60" height="2.20" fill="#7d7d7d"/><rect x="279.50" y="321.50" width="3.60" height="2.50" fill="#dcdcdc"/>
<line x1="282" y1="322" x2="282" y2="358" stroke="#cfcfcf" stroke-width="1.80"/><line x1="282" y1="322" x2="282" y2="358" stroke="#f4f4f4" stroke-width="0.70"/>
<path d="M102.00 346.30L87.30 346.30L87.30 366.00L282.00 366.00L282.00 357.00" stroke="#303030" stroke-width="1.25" fill="none" stroke-linejoin="miter"/>
<path d="M163.30 310.70L163.30 336.00L128.00 336.00" stroke="#303030" stroke-width="1.3" fill="none" stroke-linejoin="miter"/>
<text x="157.6" y="362.1" font-size="11.2" fill="#2a2a2a" font-weight="normal" text-anchor="start" textLength="54.6" lengthAdjust="spacingAndGlyphs">max 100m</text>
<text x="264.1" y="380" font-size="9.5" fill="#3a3a3a" font-weight="normal" text-anchor="start" textLength="39.2" lengthAdjust="spacingAndGlyphs">Repeater</text>
<g stroke="#22a3dc" fill="none" stroke-width="1.75"><path d="M246.44 291.03A3.90 3.90 0 0 1 248.51 286.14"/><path d="M243.24 292.20A7.30 7.30 0 0 1 247.13 283.03"/><path d="M240.05 293.36A10.70 10.70 0 0 1 245.75 279.93"/><path d="M236.85 294.52A14.10 14.10 0 0 1 244.37 276.82"/></g><circle cx="250.10" cy="289.70" r="1.45" fill="#22a3dc"/>
<g stroke="#22a3dc" fill="none" stroke-width="1.75"><path d="M316.84 285.30A3.90 3.90 0 0 1 320.60 289.06"/><path d="M316.95 281.90A7.30 7.30 0 0 1 324.00 288.95"/><path d="M317.07 278.51A10.70 10.70 0 0 1 327.39 288.83"/><path d="M317.19 275.11A14.10 14.10 0 0 1 330.79 288.71"/></g><circle cx="316.70" cy="289.20" r="1.45" fill="#22a3dc"/>
<rect x="390.50" y="249.80" width="11.70" height="37.00" rx="2.3" fill="#52465a"/><rect x="391.40" y="251.00" width="9.70" height="9.62" rx="1.8" fill="#2e2533"/><circle cx="393.30" cy="253.20" r="1.6" fill="#15101a"/><circle cx="393.30" cy="257.40" r="1.6" fill="#15101a"/><circle cx="397.10" cy="255.30" r="1.6" fill="#15101a"/><rect x="395.76" y="264.60" width="2.2" height="2.2" fill="#2b2430"/><rect x="402.50" y="249.80" width="18.00" height="37.00" rx="2.6" fill="#2d2433"/><rect x="403.40" y="250.70" width="16.20" height="35.20" rx="2" fill="url(#phg)"/><path d="M404.50 267.19Q411.50 270.15 418.50 267.19M404.50 272.00Q411.50 269.04 418.50 272.00" stroke="#6a5a80" stroke-width="0.6" fill="none"/><rect x="409.00" y="251.40" width="5" height="1.3" rx="0.6" fill="#111"/><rect x="390.00" y="302.70" width="7" height="34.60" rx="1.8" fill="#6d87c7"/><rect x="390.60" y="303.70" width="1.2" height="32.60" fill="#8aa2d8"/><circle cx="391.90" cy="304.80" r="0.8" fill="#223"/><rect x="395.40" y="302.70" width="25.10" height="34.60" rx="2" fill="#1d2133"/><clipPath id="tc390302"><rect x="396.80" y="304.30" width="22.30" height="31.40"/></clipPath><g clip-path="url(#tc390302)"><rect x="396.80" y="304.30" width="22.30" height="31.40" fill="url(#tbg)"/><g filter="url(#soft)"><ellipse cx="403.49" cy="308.07" rx="7.80" ry="3.77" fill="#a6dcf9" opacity="0.8"/><ellipse cx="410.63" cy="317.17" rx="11.15" ry="2.35" fill="#4a36cc"/><ellipse cx="403.49" cy="319.37" rx="13.83" ry="4.08" fill="#e51f8a"/><ellipse cx="410.18" cy="320.94" rx="10.04" ry="1.41" fill="#f2466a"/><ellipse cx="411.96" cy="324.08" rx="13.38" ry="3.30" fill="#f6de26"/></g></g><rect x="389.60" y="353.00" width="31.90" height="20.90" rx="0.8" fill="#3b3538"/><clipPath id="lc385353"><rect x="390.30" y="353.70" width="30.50" height="19.40"/></clipPath><g clip-path="url(#lc385353)"><rect x="390.30" y="353.70" width="30.50" height="19.40" fill="#f3874a"/><g filter="url(#soft2)"><path d="M404.03 363.40L434.03 363.40L432.79 371.92Z" fill="#ff5a1e" opacity="0.8"/><path d="M404.03 363.40L430.01 378.40L424.68 385.16Z" fill="#f9a25e" opacity="0.8"/><path d="M404.03 363.40L419.03 389.38L411.03 392.57Z" fill="#ee5a7a" opacity="0.8"/><path d="M404.03 363.40L404.03 393.40L395.50 392.16Z" fill="#ffb46a" opacity="0.8"/><path d="M404.03 363.40L389.03 389.38L382.26 384.05Z" fill="#f4441e" opacity="0.8"/><path d="M404.03 363.40L378.04 378.40L374.85 370.40Z" fill="#f7c090" opacity="0.8"/><path d="M404.03 363.40L374.03 363.40L375.26 354.88Z" fill="#e8607a" opacity="0.8"/><path d="M404.03 363.40L378.04 348.40L383.37 341.64Z" fill="#ff7a2a" opacity="0.8"/><path d="M404.03 363.40L389.03 337.42L397.02 334.23Z" fill="#f5a070" opacity="0.8"/><path d="M404.03 363.40L404.03 333.40L412.55 334.64Z" fill="#d86a8a" opacity="0.8"/><path d="M404.03 363.40L419.03 337.42L425.79 342.75Z" fill="#ff6a20" opacity="0.8"/><path d="M404.03 363.40L430.01 348.40L433.20 356.40Z" fill="#f8b880" opacity="0.8"/><path d="M411.65 373.10L420.80 364.37V373.10Z" fill="#b8b4bc" opacity="0.85"/><ellipse cx="404.03" cy="363.40" rx="4.88" ry="3.88" fill="#ff2010" opacity="0.75"/></g></g><path d="M385.80 373.90H425.30V374.90Q424.30 376.70 422.30 376.70H388.80Q386.80 376.70 385.80 374.90Z" fill="#a8a8b0"/><g stroke="#22a3dc" fill="none" stroke-width="1.75"><path d="M379.98 263.56A3.90 3.90 0 0 1 382.01 258.54"/><path d="M376.83 264.83A7.30 7.30 0 0 1 380.63 255.43"/><path d="M373.68 266.11A10.70 10.70 0 0 1 379.25 252.33"/><path d="M370.53 267.38A14.10 14.10 0 0 1 377.87 249.22"/></g><circle cx="383.60" cy="262.10" r="1.45" fill="#22a3dc"/><g stroke="#22a3dc" fill="none" stroke-width="1.75"><path d="M377.98 312.46A3.90 3.90 0 0 1 380.01 307.44"/><path d="M374.83 313.73A7.30 7.30 0 0 1 378.63 304.33"/><path d="M371.68 315.01A10.70 10.70 0 0 1 377.25 301.23"/><path d="M368.53 316.28A14.10 14.10 0 0 1 375.87 298.12"/></g><circle cx="381.60" cy="311.00" r="1.45" fill="#22a3dc"/><g stroke="#22a3dc" fill="none" stroke-width="1.75"><path d="M377.98 355.46A3.90 3.90 0 0 1 380.01 350.44"/><path d="M374.83 356.73A7.30 7.30 0 0 1 378.63 347.33"/><path d="M371.68 358.01A10.70 10.70 0 0 1 377.25 344.23"/><path d="M368.53 359.28A14.10 14.10 0 0 1 375.87 341.12"/></g><circle cx="381.60" cy="354.00" r="1.45" fill="#22a3dc"/>
<text x="275.3" y="475.9" font-size="9" fill="#3a3a3a" font-weight="normal" text-anchor="start" textLength="61.4" lengthAdjust="spacingAndGlyphs">Modem/Router</text>
<path d="M282.00 494.00L299.50 503.50L299.50 506.90L282.00 497.40Z" fill="#c9c9c9"/><path d="M299.50 503.50L325.00 490.00L325.00 493.40L299.50 506.90Z" fill="#3a3a3a"/><path d="M282.00 494.00L307.50 480.50L325.00 490.00L299.50 503.50Z" fill="#ececec" stroke="#d8d8d8" stroke-width="0.5"/><line x1="287.69" y1="493.81" x2="308.08" y2="483.00" stroke="#cdcdcd" stroke-width="0.5"/><line x1="290.31" y1="495.23" x2="310.71" y2="484.43" stroke="#cdcdcd" stroke-width="0.5"/><line x1="292.94" y1="496.65" x2="313.33" y2="485.85" stroke="#cdcdcd" stroke-width="0.5"/><line x1="295.56" y1="498.08" x2="315.96" y2="487.28" stroke="#cdcdcd" stroke-width="0.5"/><line x1="298.19" y1="499.50" x2="318.58" y2="488.70" stroke="#cdcdcd" stroke-width="0.5"/>
<rect x="351.20" y="505.00" width="24.00" height="19.00" fill="none" stroke="#d6d6d6" stroke-width="0.55"/><line x1="351.20" y1="514.31" x2="375.20" y2="514.31" stroke="#8c8c8c" stroke-width="0.6"/><circle cx="363.20" cy="514.31" r="2.6" fill="none" stroke="#c4c4c4" stroke-width="0.5"/><circle cx="363.20" cy="514.31" r="1.1" fill="#222"/><rect x="361.20" y="500.40" width="4" height="4.4" fill="none" stroke="#b0b0b0" stroke-width="0.5"/><rect x="361.20" y="524.00" width="4" height="4.2" fill="none" stroke="#b0b0b0" stroke-width="0.5"/><rect x="349.90" y="506.70" width="2.4" height="5" fill="none" stroke="#b0b0b0" stroke-width="0.5"/><rect x="374.10" y="506.70" width="2.4" height="5" fill="none" stroke="#b0b0b0" stroke-width="0.5"/><path d="M352.00 516.78v3.5M373.60 516.78l1 3.5" fill="none" stroke="#b0b0b0" stroke-width="0.5"/>
<path d="M458.88 466.55L425.33 433.93L424.73 434.53L457.35 468.08Z" fill="#cfcfcf"/><line x1="458.12" y1="467.32" x2="425.03" y2="434.23" stroke="#ededed" stroke-width="0.56"/><path d="M457.35 495.32L424.73 528.87L425.33 529.47L458.88 496.85Z" fill="#cfcfcf"/><line x1="458.12" y1="496.08" x2="425.03" y2="529.17" stroke="#ededed" stroke-width="0.56"/><path d="M456.52 480.57L409.05 481.23L409.05 482.17L456.52 482.83Z" fill="#cfcfcf"/><line x1="456.52" y1="481.70" x2="409.05" y2="481.70" stroke="#ededed" stroke-width="0.56"/><path d="M487.65 468.08L520.27 434.53L519.67 433.93L486.12 466.55Z" fill="#cfcfcf"/><line x1="486.88" y1="467.32" x2="519.97" y2="434.23" stroke="#ededed" stroke-width="0.56"/><path d="M486.12 496.85L519.67 529.47L520.27 528.87L487.65 495.32Z" fill="#cfcfcf"/><line x1="486.88" y1="496.08" x2="519.97" y2="529.17" stroke="#ededed" stroke-width="0.56"/><path d="M488.48 482.83L535.95 482.17L535.95 481.23L488.48 480.57Z" fill="#cfcfcf"/><line x1="488.48" y1="481.70" x2="535.95" y2="481.70" stroke="#ededed" stroke-width="0.56"/><rect x="456.52" y="465.72" width="31.96" height="31.96" rx="2.35" fill="#f3f3f3" stroke="#d4d4d4" stroke-width="0.85"/><rect x="458.87" y="470.42" width="27.26" height="25.38" fill="#ececec"/><line x1="459.81" y1="471.36" x2="459.81" y2="495.33" stroke="#d2d2d2" stroke-width="0.52"/><line x1="461.93" y1="471.36" x2="461.93" y2="495.33" stroke="#d2d2d2" stroke-width="0.52"/><line x1="464.04" y1="471.36" x2="464.04" y2="495.33" stroke="#d2d2d2" stroke-width="0.52"/><line x1="466.15" y1="471.36" x2="466.15" y2="495.33" stroke="#d2d2d2" stroke-width="0.52"/><line x1="468.27" y1="471.36" x2="468.27" y2="495.33" stroke="#d2d2d2" stroke-width="0.52"/><line x1="470.38" y1="471.36" x2="470.38" y2="495.33" stroke="#d2d2d2" stroke-width="0.52"/><line x1="472.50" y1="471.36" x2="472.50" y2="495.33" stroke="#d2d2d2" stroke-width="0.52"/><line x1="474.62" y1="471.36" x2="474.62" y2="495.33" stroke="#d2d2d2" stroke-width="0.52"/><line x1="476.73" y1="471.36" x2="476.73" y2="495.33" stroke="#d2d2d2" stroke-width="0.52"/><line x1="478.85" y1="471.36" x2="478.85" y2="495.33" stroke="#d2d2d2" stroke-width="0.52"/><line x1="480.96" y1="471.36" x2="480.96" y2="495.33" stroke="#d2d2d2" stroke-width="0.52"/><line x1="483.07" y1="471.36" x2="483.07" y2="495.33" stroke="#d2d2d2" stroke-width="0.52"/><line x1="485.19" y1="471.36" x2="485.19" y2="495.33" stroke="#d2d2d2" stroke-width="0.52"/><path d="M459.34 481.70H467.80M477.20 481.70H485.66M460.28 493.92L466.86 485.46M484.72 493.92L478.14 485.46" stroke="#fafafa" stroke-width="1.13"/><rect x="466.39" y="469.95" width="12.22" height="1.60" fill="#8e8e8e"/><rect x="470.34" y="497.96" width="4.32" height="2.07" fill="#7d7d7d"/><rect x="470.81" y="500.03" width="3.38" height="2.35" fill="#dcdcdc"/>
<rect x="398.00" y="463.80" width="24.00" height="24.00" fill="#e3e3e3"/><rect x="398.60" y="464.40" width="22.80" height="22.80" fill="none" stroke="#d2d2d2" stroke-width="0.6"/><rect x="402.40" y="464.90" width="13.10" height="22.10" rx="4.72" ry="5.50" fill="url(#adg)"/>
<line x1="473.7" y1="501" x2="473.7" y2="531" stroke="#cfcfcf" stroke-width="1.69"/><line x1="473.7" y1="501" x2="473.7" y2="531" stroke="#f4f4f4" stroke-width="0.66"/>
<path d="M311.50 499.80L311.50 533.70L397.30 533.70L397.30 520.50L374.00 520.50" stroke="#303030" stroke-width="1.25" fill="none" stroke-linejoin="miter"/>
<path d="M352.80 520.50L340.50 520.50L340.50 538.30L473.70 538.30L473.70 530.00" stroke="#303030" stroke-width="1.25" fill="none" stroke-linejoin="miter"/>
<path d="M409.10 487.00L409.10 510.50L375.20 510.50" stroke="#303030" stroke-width="1.3" fill="none" stroke-linejoin="miter"/>
<text x="402.6" y="537.1" font-size="10.7" fill="#2a2a2a" font-weight="normal" text-anchor="start" textLength="51.6" lengthAdjust="spacingAndGlyphs">max 100m</text>
<text x="468.5" y="553.5" font-size="9.2" fill="#3a3a3a" font-weight="normal" text-anchor="start" textLength="10.4" lengthAdjust="spacingAndGlyphs">AP</text>
<g stroke="#22a3dc" fill="none" stroke-width="1.75"><path d="M501.24 466.60A3.90 3.90 0 0 1 505.00 470.36"/><path d="M501.35 463.20A7.30 7.30 0 0 1 508.40 470.25"/><path d="M501.47 459.81A10.70 10.70 0 0 1 511.79 470.13"/><path d="M501.59 456.41A14.10 14.10 0 0 1 515.19 470.01"/></g><circle cx="501.10" cy="470.50" r="1.45" fill="#22a3dc"/>
<text x="511.2" y="499.9" font-size="8.6" fill="#333" font-weight="normal" text-anchor="start" textLength="54.3" lengthAdjust="spacingAndGlyphs">long distance</text>
<line x1="505.9" y1="507.7" x2="568.5" y2="507.7" stroke="#4a4a4a" stroke-width="1.15" stroke-dasharray="3.3 1.9"/>
<path d="M591.88 466.55L558.33 433.93L557.73 434.53L590.35 468.08Z" fill="#cfcfcf"/><line x1="591.12" y1="467.32" x2="558.03" y2="434.23" stroke="#ededed" stroke-width="0.56"/><path d="M590.35 495.32L557.73 528.87L558.33 529.47L591.88 496.85Z" fill="#cfcfcf"/><line x1="591.12" y1="496.08" x2="558.03" y2="529.17" stroke="#ededed" stroke-width="0.56"/><path d="M589.52 480.57L542.05 481.23L542.05 482.17L589.52 482.83Z" fill="#cfcfcf"/><line x1="589.52" y1="481.70" x2="542.05" y2="481.70" stroke="#ededed" stroke-width="0.56"/><path d="M620.65 468.08L653.27 434.53L652.67 433.93L619.12 466.55Z" fill="#cfcfcf"/><line x1="619.88" y1="467.32" x2="652.97" y2="434.23" stroke="#ededed" stroke-width="0.56"/><path d="M619.12 496.85L652.67 529.47L653.27 528.87L620.65 495.32Z" fill="#cfcfcf"/><line x1="619.88" y1="496.08" x2="652.97" y2="529.17" stroke="#ededed" stroke-width="0.56"/><path d="M621.48 482.83L668.95 482.17L668.95 481.23L621.48 480.57Z" fill="#cfcfcf"/><line x1="621.48" y1="481.70" x2="668.95" y2="481.70" stroke="#ededed" stroke-width="0.56"/><rect x="589.52" y="465.72" width="31.96" height="31.96" rx="2.35" fill="#f3f3f3" stroke="#d4d4d4" stroke-width="0.85"/><rect x="591.87" y="470.42" width="27.26" height="25.38" fill="#ececec"/><line x1="592.81" y1="471.36" x2="592.81" y2="495.33" stroke="#d2d2d2" stroke-width="0.52"/><line x1="594.92" y1="471.36" x2="594.92" y2="495.33" stroke="#d2d2d2" stroke-width="0.52"/><line x1="597.04" y1="471.36" x2="597.04" y2="495.33" stroke="#d2d2d2" stroke-width="0.52"/><line x1="599.15" y1="471.36" x2="599.15" y2="495.33" stroke="#d2d2d2" stroke-width="0.52"/><line x1="601.27" y1="471.36" x2="601.27" y2="495.33" stroke="#d2d2d2" stroke-width="0.52"/><line x1="603.38" y1="471.36" x2="603.38" y2="495.33" stroke="#d2d2d2" stroke-width="0.52"/><line x1="605.50" y1="471.36" x2="605.50" y2="495.33" stroke="#d2d2d2" stroke-width="0.52"/><line x1="607.61" y1="471.36" x2="607.61" y2="495.33" stroke="#d2d2d2" stroke-width="0.52"/><line x1="609.73" y1="471.36" x2="609.73" y2="495.33" stroke="#d2d2d2" stroke-width="0.52"/><line x1="611.84" y1="471.36" x2="611.84" y2="495.33" stroke="#d2d2d2" stroke-width="0.52"/><line x1="613.96" y1="471.36" x2="613.96" y2="495.33" stroke="#d2d2d2" stroke-width="0.52"/><line x1="616.07" y1="471.36" x2="616.07" y2="495.33" stroke="#d2d2d2" stroke-width="0.52"/><line x1="618.19" y1="471.36" x2="618.19" y2="495.33" stroke="#d2d2d2" stroke-width="0.52"/><path d="M592.34 481.70H600.80M610.20 481.70H618.66M593.28 493.92L599.86 485.46M617.72 493.92L611.14 485.46" stroke="#fafafa" stroke-width="1.13"/><rect x="599.39" y="469.95" width="12.22" height="1.60" fill="#8e8e8e"/><rect x="603.34" y="497.96" width="4.32" height="2.07" fill="#7d7d7d"/><rect x="603.81" y="500.03" width="3.38" height="2.35" fill="#dcdcdc"/>
<line x1="605.5" y1="501" x2="605.5" y2="532" stroke="#cfcfcf" stroke-width="1.69"/><line x1="605.5" y1="501" x2="605.5" y2="532" stroke="#f4f4f4" stroke-width="0.66"/>
<path d="M605.50 532.00L605.50 556.50" stroke="#303030" stroke-width="1.25" fill="none" stroke-linejoin="miter"/>
<text x="564.1" y="552.6" font-size="9.2" fill="#3a3a3a" font-weight="normal" text-anchor="start" textLength="37.4" lengthAdjust="spacingAndGlyphs">Repeater</text>
<g stroke="#22a3dc" fill="none" stroke-width="1.75"><path d="M571.20 470.36A3.90 3.90 0 0 1 574.96 466.60"/><path d="M567.80 470.25A7.30 7.30 0 0 1 574.85 463.20"/><path d="M564.41 470.13A10.70 10.70 0 0 1 574.73 459.81"/><path d="M561.01 470.01A14.10 14.10 0 0 1 574.61 456.41"/></g><circle cx="575.10" cy="470.50" r="1.45" fill="#22a3dc"/>
<g stroke="#22a3dc" fill="none" stroke-width="1.75"><path d="M633.04 466.60A3.90 3.90 0 0 1 636.80 470.36"/><path d="M633.15 463.20A7.30 7.30 0 0 1 640.20 470.25"/><path d="M633.27 459.81A10.70 10.70 0 0 1 643.59 470.13"/><path d="M633.39 456.41A14.10 14.10 0 0 1 646.99 470.01"/></g><circle cx="632.90" cy="470.50" r="1.45" fill="#22a3dc"/>
<rect x="691.00" y="421.00" width="11.70" height="37.00" rx="2.3" fill="#52465a"/><rect x="691.90" y="422.20" width="9.70" height="9.62" rx="1.8" fill="#2e2533"/><circle cx="693.80" cy="424.40" r="1.6" fill="#15101a"/><circle cx="693.80" cy="428.60" r="1.6" fill="#15101a"/><circle cx="697.60" cy="426.50" r="1.6" fill="#15101a"/><rect x="696.26" y="435.80" width="2.2" height="2.2" fill="#2b2430"/><rect x="703.00" y="421.00" width="18.00" height="37.00" rx="2.6" fill="#2d2433"/><rect x="703.90" y="421.90" width="16.20" height="35.20" rx="2" fill="url(#phg)"/><path d="M705.00 438.39Q712.00 441.35 719.00 438.39M705.00 443.20Q712.00 440.24 719.00 443.20" stroke="#6a5a80" stroke-width="0.6" fill="none"/><rect x="709.50" y="422.60" width="5" height="1.3" rx="0.6" fill="#111"/><rect x="690.50" y="474.40" width="7" height="34.60" rx="1.8" fill="#6d87c7"/><rect x="691.10" y="475.40" width="1.2" height="32.60" fill="#8aa2d8"/><circle cx="692.40" cy="476.50" r="0.8" fill="#223"/><rect x="695.90" y="474.40" width="25.10" height="34.60" rx="2" fill="#1d2133"/><clipPath id="tc690474"><rect x="697.30" y="476.00" width="22.30" height="31.40"/></clipPath><g clip-path="url(#tc690474)"><rect x="697.30" y="476.00" width="22.30" height="31.40" fill="url(#tbg)"/><g filter="url(#soft)"><ellipse cx="703.99" cy="479.77" rx="7.80" ry="3.77" fill="#a6dcf9" opacity="0.8"/><ellipse cx="711.13" cy="488.87" rx="11.15" ry="2.35" fill="#4a36cc"/><ellipse cx="703.99" cy="491.07" rx="13.83" ry="4.08" fill="#e51f8a"/><ellipse cx="710.68" cy="492.64" rx="10.04" ry="1.41" fill="#f2466a"/><ellipse cx="712.46" cy="495.78" rx="13.38" ry="3.30" fill="#f6de26"/></g></g><rect x="690.10" y="524.40" width="31.90" height="20.90" rx="0.8" fill="#3b3538"/><clipPath id="lc686524"><rect x="690.80" y="525.10" width="30.50" height="19.40"/></clipPath><g clip-path="url(#lc686524)"><rect x="690.80" y="525.10" width="30.50" height="19.40" fill="#f3874a"/><g filter="url(#soft2)"><path d="M704.52 534.80L734.52 534.80L733.29 543.32Z" fill="#ff5a1e" opacity="0.8"/><path d="M704.52 534.80L730.51 549.80L725.18 556.56Z" fill="#f9a25e" opacity="0.8"/><path d="M704.52 534.80L719.52 560.78L711.53 563.97Z" fill="#ee5a7a" opacity="0.8"/><path d="M704.52 534.80L704.52 564.80L696.00 563.56Z" fill="#ffb46a" opacity="0.8"/><path d="M704.52 534.80L689.52 560.78L682.76 555.45Z" fill="#f4441e" opacity="0.8"/><path d="M704.52 534.80L678.54 549.80L675.35 541.80Z" fill="#f7c090" opacity="0.8"/><path d="M704.52 534.80L674.52 534.80L675.76 526.28Z" fill="#e8607a" opacity="0.8"/><path d="M704.52 534.80L678.54 519.80L683.87 513.04Z" fill="#ff7a2a" opacity="0.8"/><path d="M704.52 534.80L689.52 508.82L697.52 505.63Z" fill="#f5a070" opacity="0.8"/><path d="M704.52 534.80L704.52 504.80L713.05 506.04Z" fill="#d86a8a" opacity="0.8"/><path d="M704.52 534.80L719.52 508.82L726.29 514.15Z" fill="#ff6a20" opacity="0.8"/><path d="M704.52 534.80L730.51 519.80L733.70 527.80Z" fill="#f8b880" opacity="0.8"/><path d="M712.15 544.50L721.30 535.77V544.50Z" fill="#b8b4bc" opacity="0.85"/><ellipse cx="704.52" cy="534.80" rx="4.88" ry="3.88" fill="#ff2010" opacity="0.75"/></g></g><path d="M686.30 545.30H725.80V546.30Q724.80 548.10 722.80 548.10H689.30Q687.30 548.10 686.30 546.30Z" fill="#a8a8b0"/><g stroke="#22a3dc" fill="none" stroke-width="1.75"><path d="M680.48 434.76A3.90 3.90 0 0 1 682.51 429.74"/><path d="M677.33 436.03A7.30 7.30 0 0 1 681.13 426.63"/><path d="M674.18 437.31A10.70 10.70 0 0 1 679.75 423.53"/><path d="M671.03 438.58A14.10 14.10 0 0 1 678.37 420.42"/></g><circle cx="684.10" cy="433.30" r="1.45" fill="#22a3dc"/><g stroke="#22a3dc" fill="none" stroke-width="1.75"><path d="M678.48 484.16A3.90 3.90 0 0 1 680.51 479.14"/><path d="M675.33 485.43A7.30 7.30 0 0 1 679.13 476.03"/><path d="M672.18 486.71A10.70 10.70 0 0 1 677.75 472.93"/><path d="M669.03 487.98A14.10 14.10 0 0 1 676.37 469.82"/></g><circle cx="682.10" cy="482.70" r="1.45" fill="#22a3dc"/><g stroke="#22a3dc" fill="none" stroke-width="1.75"><path d="M678.48 526.86A3.90 3.90 0 0 1 680.51 521.84"/><path d="M675.33 528.13A7.30 7.30 0 0 1 679.13 518.73"/><path d="M672.18 529.41A10.70 10.70 0 0 1 677.75 515.63"/><path d="M669.03 530.68A14.10 14.10 0 0 1 676.37 512.52"/></g><circle cx="682.10" cy="525.40" r="1.45" fill="#22a3dc"/>
<rect x="1.30" y="630.00" width="25.40" height="25.30" fill="#e3e3e3"/><rect x="1.90" y="630.60" width="24.20" height="24.10" fill="none" stroke="#d2d2d2" stroke-width="0.6"/><rect x="6.70" y="632.10" width="14.60" height="23.20" rx="5.26" ry="6.13" fill="url(#adg)"/>
<path d="M13.90 655.30L13.90 710.00L70.20 710.00L70.20 696.00" stroke="#303030" stroke-width="1.25" fill="none" stroke-linejoin="miter"/>
<path d="M45.20 665.30L46.20 665.30L45.80 692.50L43.40 692.50Z" fill="#1e1e1e"/><path d="M60.30 664.80L61.30 664.80L61.90 688.30L59.70 688.30Z" fill="#1e1e1e"/><path d="M90.80 664.80L91.80 664.80L92.40 688.30L90.20 688.30Z" fill="#1e1e1e"/><path d="M105.80 665.30L106.80 665.30L108.70 692.50L106.30 692.50Z" fill="#1e1e1e"/><path d="M48.90 692.30Q50.90 689.10 57.90 688.60Q76.40 686.80 94.90 688.60Q101.90 689.10 103.90 692.30Q101.90 695.90 95.90 696.30H56.90Q50.90 695.90 48.90 692.30Z" fill="#1b1b1b"/><path d="M55.90 690.30H96.90" stroke="#333" stroke-width="0.6"/><rect x="79.90" y="690.80" width="3.5" height="2.5" fill="#8a6a2a"/>
<text x="65.4" y="683.5" font-size="8.2" fill="#3a3a3a" font-weight="normal" text-anchor="start" textLength="21.3" lengthAdjust="spacingAndGlyphs">Router</text>
<path d="M81.10 696.00L81.10 710.00L172.80 710.00L172.80 702.00" stroke="#303030" stroke-width="1.25" fill="none" stroke-linejoin="miter"/>
<path d="M159.11 639.81L130.55 612.05L130.05 612.55L157.81 641.11Z" fill="#cfcfcf"/><line x1="158.46" y1="640.46" x2="130.30" y2="612.30" stroke="#ededed" stroke-width="0.48"/><path d="M157.81 664.29L130.05 692.85L130.55 693.35L159.11 665.59Z" fill="#cfcfcf"/><line x1="158.46" y1="664.94" x2="130.30" y2="693.10" stroke="#ededed" stroke-width="0.48"/><path d="M157.10 651.74L116.70 652.30L116.70 653.10L157.10 653.66Z" fill="#cfcfcf"/><line x1="157.10" y1="652.70" x2="116.70" y2="652.70" stroke="#ededed" stroke-width="0.48"/><path d="M183.59 641.11L211.35 612.55L210.85 612.05L182.29 639.81Z" fill="#cfcfcf"/><line x1="182.94" y1="640.46" x2="211.10" y2="612.30" stroke="#ededed" stroke-width="0.48"/><path d="M182.29 665.59L210.85 693.35L211.35 692.85L183.59 664.29Z" fill="#cfcfcf"/><line x1="182.94" y1="664.94" x2="211.10" y2="693.10" stroke="#ededed" stroke-width="0.48"/><path d="M184.30 653.66L224.70 653.10L224.70 652.30L184.30 651.74Z" fill="#cfcfcf"/><line x1="184.30" y1="652.70" x2="224.70" y2="652.70" stroke="#ededed" stroke-width="0.48"/><rect x="157.10" y="639.10" width="27.20" height="27.20" rx="2.00" fill="#f3f3f3" stroke="#d4d4d4" stroke-width="0.72"/><rect x="159.10" y="643.10" width="23.20" height="21.60" fill="#ececec"/><line x1="159.90" y1="643.90" x2="159.90" y2="664.30" stroke="#d2d2d2" stroke-width="0.44"/><line x1="161.70" y1="643.90" x2="161.70" y2="664.30" stroke="#d2d2d2" stroke-width="0.44"/><line x1="163.50" y1="643.90" x2="163.50" y2="664.30" stroke="#d2d2d2" stroke-width="0.44"/><line x1="165.30" y1="643.90" x2="165.30" y2="664.30" stroke="#d2d2d2" stroke-width="0.44"/><line x1="167.10" y1="643.90" x2="167.10" y2="664.30" stroke="#d2d2d2" stroke-width="0.44"/><line x1="168.90" y1="643.90" x2="168.90" y2="664.30" stroke="#d2d2d2" stroke-width="0.44"/><line x1="170.70" y1="643.90" x2="170.70" y2="664.30" stroke="#d2d2d2" stroke-width="0.44"/><line x1="172.50" y1="643.90" x2="172.50" y2="664.30" stroke="#d2d2d2" stroke-width="0.44"/><line x1="174.30" y1="643.90" x2="174.30" y2="664.30" stroke="#d2d2d2" stroke-width="0.44"/><line x1="176.10" y1="643.90" x2="176.10" y2="664.30" stroke="#d2d2d2" stroke-width="0.44"/><line x1="177.90" y1="643.90" x2="177.90" y2="664.30" stroke="#d2d2d2" stroke-width="0.44"/><line x1="179.70" y1="643.90" x2="179.70" y2="664.30" stroke="#d2d2d2" stroke-width="0.44"/><line x1="181.50" y1="643.90" x2="181.50" y2="664.30" stroke="#d2d2d2" stroke-width="0.44"/><path d="M159.50 652.70H166.70M174.70 652.70H181.90M160.30 663.10L165.90 655.90M181.10 663.10L175.50 655.90" stroke="#fafafa" stroke-width="0.96"/><rect x="165.50" y="642.70" width="10.40" height="1.36" fill="#8e8e8e"/><rect x="168.86" y="666.54" width="3.68" height="1.76" fill="#7d7d7d"/><rect x="169.26" y="668.30" width="2.88" height="2.00" fill="#dcdcdc"/>
<line x1="172.8" y1="669" x2="172.8" y2="703" stroke="#cfcfcf" stroke-width="1.44"/><line x1="172.8" y1="669" x2="172.8" y2="703" stroke="#f4f4f4" stroke-width="0.56"/>
<g stroke="#22a3dc" fill="none" stroke-width="1.75"><path d="M133.34 635.33A3.90 3.90 0 0 1 135.41 630.44"/><path d="M130.14 636.50A7.30 7.30 0 0 1 134.03 627.33"/><path d="M126.95 637.66A10.70 10.70 0 0 1 132.65 624.23"/><path d="M123.75 638.82A14.10 14.10 0 0 1 131.27 621.12"/></g><circle cx="137.00" cy="634.00" r="1.45" fill="#22a3dc"/>
<g stroke="#22a3dc" fill="none" stroke-width="1.75"><path d="M213.04 628.60A3.90 3.90 0 0 1 216.80 632.36"/><path d="M213.15 625.20A7.30 7.30 0 0 1 220.20 632.25"/><path d="M213.27 621.81A10.70 10.70 0 0 1 223.59 632.13"/><path d="M213.39 618.41A14.10 14.10 0 0 1 226.99 632.01"/></g><circle cx="212.90" cy="632.50" r="1.45" fill="#22a3dc"/>
<text x="204.8" y="667.6" font-size="8.8" fill="#333" font-weight="normal" text-anchor="start" textLength="57.8" lengthAdjust="spacingAndGlyphs">long distance</text>
<line x1="200.9" y1="671.9" x2="268" y2="671.9" stroke="#4a4a4a" stroke-width="1.15" stroke-dasharray="3.3 1.9"/>
<path d="M292.01 640.41L263.45 612.65L262.95 613.15L290.71 641.71Z" fill="#cfcfcf"/><line x1="291.36" y1="641.06" x2="263.20" y2="612.90" stroke="#ededed" stroke-width="0.48"/><path d="M290.71 664.89L262.95 693.45L263.45 693.95L292.01 666.19Z" fill="#cfcfcf"/><line x1="291.36" y1="665.54" x2="263.20" y2="693.70" stroke="#ededed" stroke-width="0.48"/><path d="M290.00 652.34L249.60 652.90L249.60 653.70L290.00 654.26Z" fill="#cfcfcf"/><line x1="290.00" y1="653.30" x2="249.60" y2="653.30" stroke="#ededed" stroke-width="0.48"/><path d="M316.49 641.71L344.25 613.15L343.75 612.65L315.19 640.41Z" fill="#cfcfcf"/><line x1="315.84" y1="641.06" x2="344.00" y2="612.90" stroke="#ededed" stroke-width="0.48"/><path d="M315.19 666.19L343.75 693.95L344.25 693.45L316.49 664.89Z" fill="#cfcfcf"/><line x1="315.84" y1="665.54" x2="344.00" y2="693.70" stroke="#ededed" stroke-width="0.48"/><path d="M317.20 654.26L357.60 653.70L357.60 652.90L317.20 652.34Z" fill="#cfcfcf"/><line x1="317.20" y1="653.30" x2="357.60" y2="653.30" stroke="#ededed" stroke-width="0.48"/><rect x="290.00" y="639.70" width="27.20" height="27.20" rx="2.00" fill="#f3f3f3" stroke="#d4d4d4" stroke-width="0.72"/><rect x="292.00" y="643.70" width="23.20" height="21.60" fill="#ececec"/><line x1="292.80" y1="644.50" x2="292.80" y2="664.90" stroke="#d2d2d2" stroke-width="0.44"/><line x1="294.60" y1="644.50" x2="294.60" y2="664.90" stroke="#d2d2d2" stroke-width="0.44"/><line x1="296.40" y1="644.50" x2="296.40" y2="664.90" stroke="#d2d2d2" stroke-width="0.44"/><line x1="298.20" y1="644.50" x2="298.20" y2="664.90" stroke="#d2d2d2" stroke-width="0.44"/><line x1="300.00" y1="644.50" x2="300.00" y2="664.90" stroke="#d2d2d2" stroke-width="0.44"/><line x1="301.80" y1="644.50" x2="301.80" y2="664.90" stroke="#d2d2d2" stroke-width="0.44"/><line x1="303.60" y1="644.50" x2="303.60" y2="664.90" stroke="#d2d2d2" stroke-width="0.44"/><line x1="305.40" y1="644.50" x2="305.40" y2="664.90" stroke="#d2d2d2" stroke-width="0.44"/><line x1="307.20" y1="644.50" x2="307.20" y2="664.90" stroke="#d2d2d2" stroke-width="0.44"/><line x1="309.00" y1="644.50" x2="309.00" y2="664.90" stroke="#d2d2d2" stroke-width="0.44"/><line x1="310.80" y1="644.50" x2="310.80" y2="664.90" stroke="#d2d2d2" stroke-width="0.44"/><line x1="312.60" y1="644.50" x2="312.60" y2="664.90" stroke="#d2d2d2" stroke-width="0.44"/><line x1="314.40" y1="644.50" x2="314.40" y2="664.90" stroke="#d2d2d2" stroke-width="0.44"/><path d="M292.40 653.30H299.60M307.60 653.30H314.80M293.20 663.70L298.80 656.50M314.00 663.70L308.40 656.50" stroke="#fafafa" stroke-width="0.96"/><rect x="298.40" y="643.30" width="10.40" height="1.36" fill="#8e8e8e"/><rect x="301.76" y="667.14" width="3.68" height="1.76" fill="#7d7d7d"/><rect x="302.16" y="668.90" width="2.88" height="2.00" fill="#dcdcdc"/>
<line x1="304.8" y1="669" x2="304.8" y2="702" stroke="#cfcfcf" stroke-width="1.44"/><line x1="304.8" y1="669" x2="304.8" y2="702" stroke="#f4f4f4" stroke-width="0.56"/>
<g stroke="#22a3dc" fill="none" stroke-width="1.75"><path d="M267.14 635.33A3.90 3.90 0 0 1 269.21 630.44"/><path d="M263.94 636.50A7.30 7.30 0 0 1 267.83 627.33"/><path d="M260.75 637.66A10.70 10.70 0 0 1 266.45 624.23"/><path d="M257.55 638.82A14.10 14.10 0 0 1 265.07 621.12"/></g><circle cx="270.80" cy="634.00" r="1.45" fill="#22a3dc"/>
<g stroke="#22a3dc" fill="none" stroke-width="1.75"><path d="M345.54 628.60A3.90 3.90 0 0 1 349.30 632.36"/><path d="M345.65 625.20A7.30 7.30 0 0 1 352.70 632.25"/><path d="M345.77 621.81A10.70 10.70 0 0 1 356.09 632.13"/><path d="M345.89 618.41A14.10 14.10 0 0 1 359.49 632.01"/></g><circle cx="345.40" cy="632.50" r="1.45" fill="#22a3dc"/>
<text x="144.8" y="720.7" font-size="9.8" fill="#3a3a3a" font-weight="normal" text-anchor="start" textLength="52.5" lengthAdjust="spacingAndGlyphs">Mesh Router</text>
<text x="272" y="720.7" font-size="9.8" fill="#3a3a3a" font-weight="normal" text-anchor="start" textLength="62" lengthAdjust="spacingAndGlyphs">Mesh Extender</text>
<rect x="390.50" y="594.20" width="11.70" height="37.00" rx="2.3" fill="#52465a"/><rect x="391.40" y="595.40" width="9.70" height="9.62" rx="1.8" fill="#2e2533"/><circle cx="393.30" cy="597.60" r="1.6" fill="#15101a"/><circle cx="393.30" cy="601.80" r="1.6" fill="#15101a"/><circle cx="397.10" cy="599.70" r="1.6" fill="#15101a"/><rect x="395.76" y="609.00" width="2.2" height="2.2" fill="#2b2430"/><rect x="402.50" y="594.20" width="18.00" height="37.00" rx="2.6" fill="#2d2433"/><rect x="403.40" y="595.10" width="16.20" height="35.20" rx="2" fill="url(#phg)"/><path d="M404.50 611.59Q411.50 614.55 418.50 611.59M404.50 616.40Q411.50 613.44 418.50 616.40" stroke="#6a5a80" stroke-width="0.6" fill="none"/><rect x="409.00" y="595.80" width="5" height="1.3" rx="0.6" fill="#111"/><rect x="390.00" y="647.10" width="7" height="34.60" rx="1.8" fill="#6d87c7"/><rect x="390.60" y="648.10" width="1.2" height="32.60" fill="#8aa2d8"/><circle cx="391.90" cy="649.20" r="0.8" fill="#223"/><rect x="395.40" y="647.10" width="25.10" height="34.60" rx="2" fill="#1d2133"/><clipPath id="tc390647"><rect x="396.80" y="648.70" width="22.30" height="31.40"/></clipPath><g clip-path="url(#tc390647)"><rect x="396.80" y="648.70" width="22.30" height="31.40" fill="url(#tbg)"/><g filter="url(#soft)"><ellipse cx="403.49" cy="652.47" rx="7.80" ry="3.77" fill="#a6dcf9" opacity="0.8"/><ellipse cx="410.63" cy="661.57" rx="11.15" ry="2.35" fill="#4a36cc"/><ellipse cx="403.49" cy="663.77" rx="13.83" ry="4.08" fill="#e51f8a"/><ellipse cx="410.18" cy="665.34" rx="10.04" ry="1.41" fill="#f2466a"/><ellipse cx="411.96" cy="668.48" rx="13.38" ry="3.30" fill="#f6de26"/></g></g><rect x="389.60" y="697.50" width="31.90" height="20.90" rx="0.8" fill="#3b3538"/><clipPath id="lc385697"><rect x="390.30" y="698.20" width="30.50" height="19.40"/></clipPath><g clip-path="url(#lc385697)"><rect x="390.30" y="698.20" width="30.50" height="19.40" fill="#f3874a"/><g filter="url(#soft2)"><path d="M404.03 707.90L434.03 707.90L432.79 716.42Z" fill="#ff5a1e" opacity="0.8"/><path d="M404.03 707.90L430.01 722.90L424.68 729.66Z" fill="#f9a25e" opacity="0.8"/><path d="M404.03 707.90L419.03 733.88L411.03 737.07Z" fill="#ee5a7a" opacity="0.8"/><path d="M404.03 707.90L404.03 737.90L395.50 736.66Z" fill="#ffb46a" opacity="0.8"/><path d="M404.03 707.90L389.03 733.88L382.26 728.55Z" fill="#f4441e" opacity="0.8"/><path d="M404.03 707.90L378.04 722.90L374.85 714.90Z" fill="#f7c090" opacity="0.8"/><path d="M404.03 707.90L374.03 707.90L375.26 699.38Z" fill="#e8607a" opacity="0.8"/><path d="M404.03 707.90L378.04 692.90L383.37 686.14Z" fill="#ff7a2a" opacity="0.8"/><path d="M404.03 707.90L389.03 681.92L397.02 678.73Z" fill="#f5a070" opacity="0.8"/><path d="M404.03 707.90L404.03 677.90L412.55 679.14Z" fill="#d86a8a" opacity="0.8"/><path d="M404.03 707.90L419.03 681.92L425.79 687.25Z" fill="#ff6a20" opacity="0.8"/><path d="M404.03 707.90L430.01 692.90L433.20 700.90Z" fill="#f8b880" opacity="0.8"/><path d="M411.65 717.60L420.80 708.87V717.60Z" fill="#b8b4bc" opacity="0.85"/><ellipse cx="404.03" cy="707.90" rx="4.88" ry="3.88" fill="#ff2010" opacity="0.75"/></g></g><path d="M385.80 718.40H425.30V719.40Q424.30 721.20 422.30 721.20H388.80Q386.80 721.20 385.80 719.40Z" fill="#a8a8b0"/><g stroke="#22a3dc" fill="none" stroke-width="1.75"><path d="M379.98 607.96A3.90 3.90 0 0 1 382.01 602.94"/><path d="M376.83 609.23A7.30 7.30 0 0 1 380.63 599.83"/><path d="M373.68 610.51A10.70 10.70 0 0 1 379.25 596.73"/><path d="M370.53 611.78A14.10 14.10 0 0 1 377.87 593.62"/></g><circle cx="383.60" cy="606.50" r="1.45" fill="#22a3dc"/><g stroke="#22a3dc" fill="none" stroke-width="1.75"><path d="M377.98 656.86A3.90 3.90 0 0 1 380.01 651.84"/><path d="M374.83 658.13A7.30 7.30 0 0 1 378.63 648.73"/><path d="M371.68 659.41A10.70 10.70 0 0 1 377.25 645.63"/><path d="M368.53 660.68A14.10 14.10 0 0 1 375.87 642.52"/></g><circle cx="381.60" cy="655.40" r="1.45" fill="#22a3dc"/><g stroke="#22a3dc" fill="none" stroke-width="1.75"><path d="M377.98 699.96A3.90 3.90 0 0 1 380.01 694.94"/><path d="M374.83 701.23A7.30 7.30 0 0 1 378.63 691.83"/><path d="M371.68 702.51A10.70 10.70 0 0 1 377.25 688.73"/><path d="M368.53 703.78A14.10 14.10 0 0 1 375.87 685.62"/></g><circle cx="381.60" cy="698.50" r="1.45" fill="#22a3dc"/>
</svg></body></html>
